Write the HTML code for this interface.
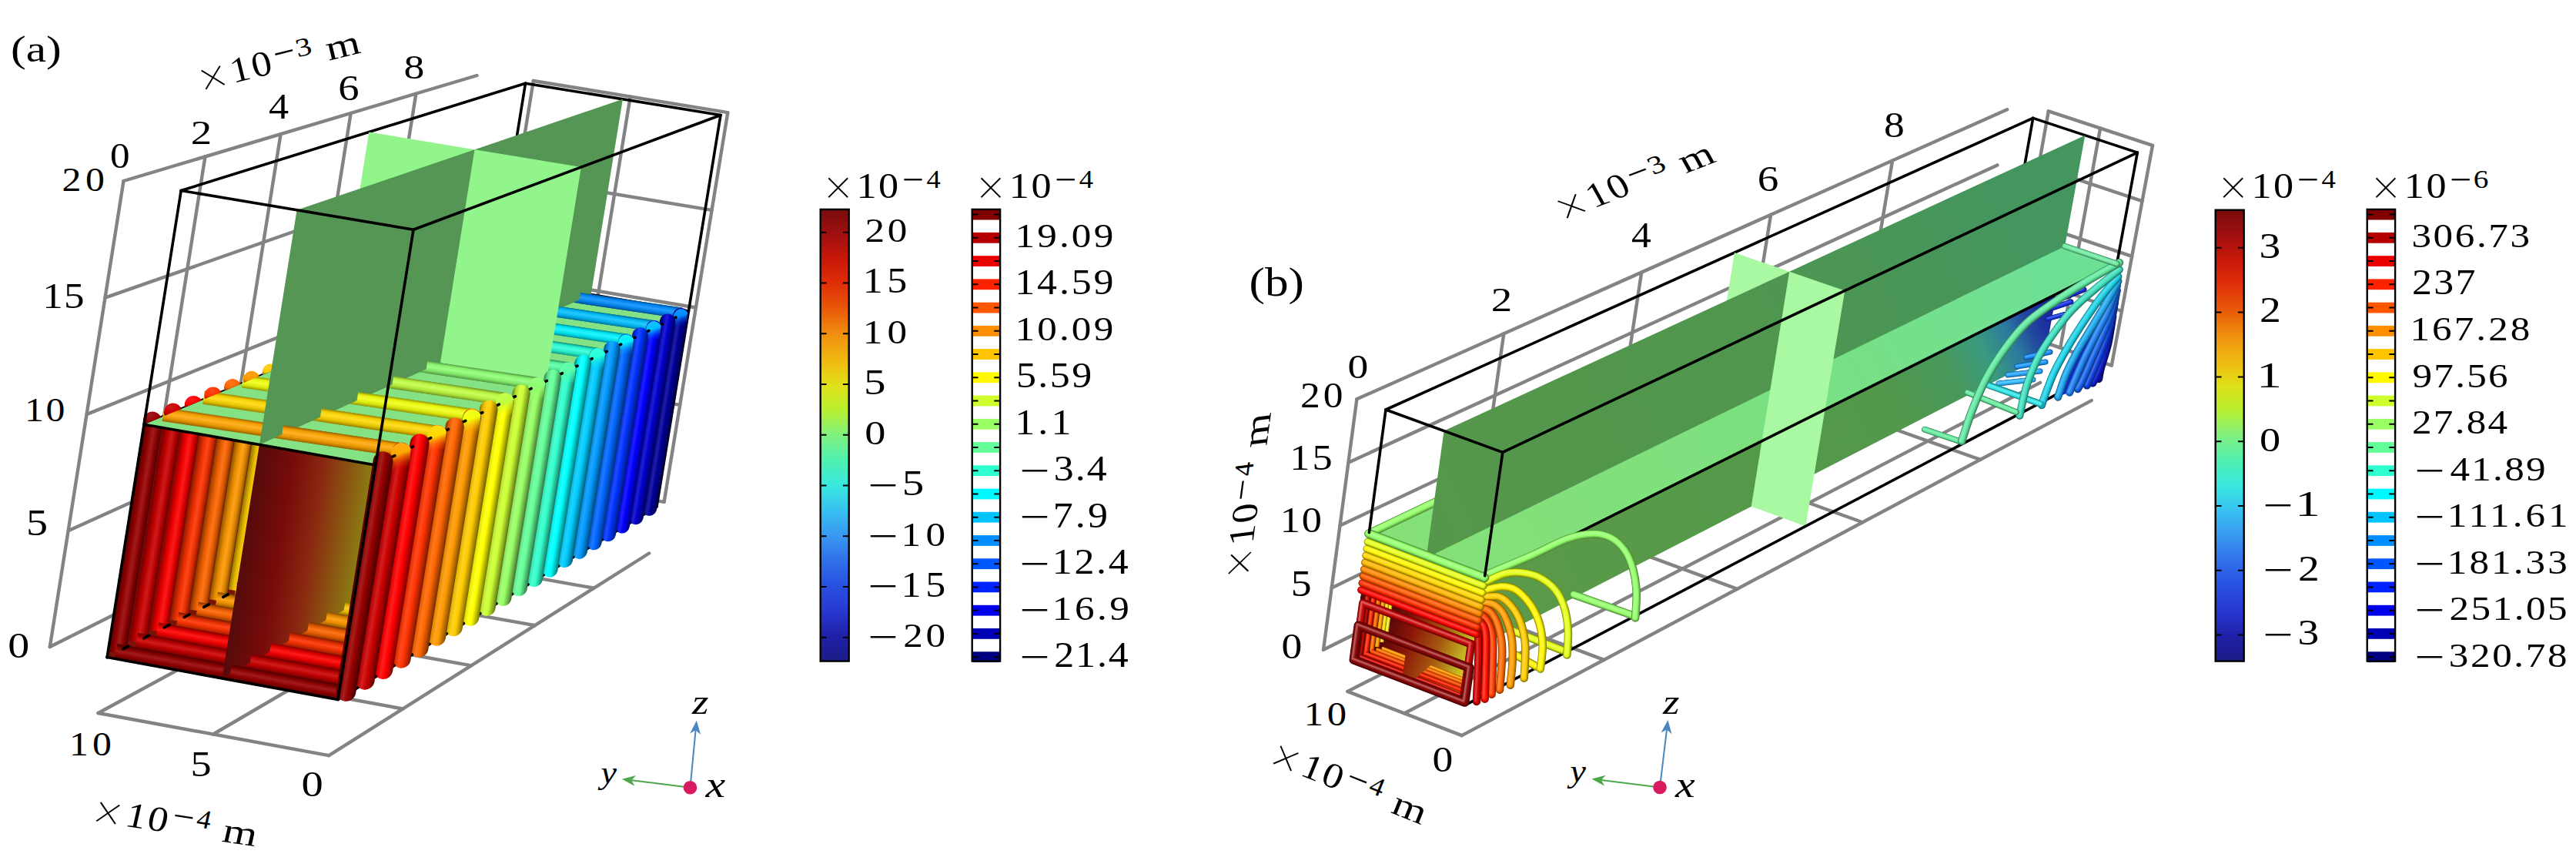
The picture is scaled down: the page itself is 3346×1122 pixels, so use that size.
<!DOCTYPE html>
<html><head><meta charset="utf-8"><title>figure</title>
<style>html,body{margin:0;padding:0;background:#fff}svg{display:block}text{font-family:"Liberation Serif","DejaVu Serif",serif;fill:#000}</style>
</head><body>
<svg width="3346" height="1122" viewBox="0 0 3346 1122">
<defs>
<clipPath id="cpa"><polygon points="139.1,853.6 438.9,908.4 487.8,603.9 187.1,551.2"/></clipPath>
<linearGradient id="g1" gradientUnits="userSpaceOnUse" x1="602.6" y1="491.7" x2="620.1" y2="494.5"><stop offset="0.00" stop-color="#000054"/><stop offset="0.30" stop-color="#00008a"/><stop offset="0.55" stop-color="#1a1aa3"/><stop offset="0.80" stop-color="#000082"/><stop offset="1.00" stop-color="#00004d"/></linearGradient>
<linearGradient id="g2" gradientUnits="userSpaceOnUse" x1="715" y1="647.2" x2="717.6" y2="632.5"><stop offset="0.00" stop-color="#000054"/><stop offset="0.30" stop-color="#00008a"/><stop offset="0.55" stop-color="#1a1aa3"/><stop offset="0.80" stop-color="#000082"/><stop offset="1.00" stop-color="#00004d"/></linearGradient>
<linearGradient id="g3" gradientUnits="userSpaceOnUse" x1="583" y1="500.8" x2="600.8" y2="503.7"><stop offset="0.00" stop-color="#000070"/><stop offset="0.30" stop-color="#0000b8"/><stop offset="0.55" stop-color="#1a1ad1"/><stop offset="0.80" stop-color="#0000ad"/><stop offset="1.00" stop-color="#000066"/></linearGradient>
<linearGradient id="g4" gradientUnits="userSpaceOnUse" x1="696.4" y1="657.7" x2="699" y2="642.8"><stop offset="0.00" stop-color="#000070"/><stop offset="0.30" stop-color="#0000b8"/><stop offset="0.55" stop-color="#1a1ad1"/><stop offset="0.80" stop-color="#0000ad"/><stop offset="1.00" stop-color="#000066"/></linearGradient>
<linearGradient id="g5" gradientUnits="userSpaceOnUse" x1="563.1" y1="510.1" x2="581.1" y2="513"><stop offset="0.00" stop-color="#00008c"/><stop offset="0.30" stop-color="#0000e6"/><stop offset="0.55" stop-color="#1a1aff"/><stop offset="0.80" stop-color="#0000d9"/><stop offset="1.00" stop-color="#000080"/></linearGradient>
<linearGradient id="g6" gradientUnits="userSpaceOnUse" x1="677.5" y1="668.4" x2="680.1" y2="653.3"><stop offset="0.00" stop-color="#00008c"/><stop offset="0.30" stop-color="#0000e6"/><stop offset="0.55" stop-color="#1a1aff"/><stop offset="0.80" stop-color="#0000d9"/><stop offset="1.00" stop-color="#000080"/></linearGradient>
<linearGradient id="g7" gradientUnits="userSpaceOnUse" x1="542.9" y1="519.5" x2="561.2" y2="522.4"><stop offset="0.00" stop-color="#001c8c"/><stop offset="0.30" stop-color="#002ee6"/><stop offset="0.55" stop-color="#1a47ff"/><stop offset="0.80" stop-color="#002bd9"/><stop offset="1.00" stop-color="#001a80"/></linearGradient>
<linearGradient id="g8" gradientUnits="userSpaceOnUse" x1="658.3" y1="679.3" x2="661" y2="663.9"><stop offset="0.00" stop-color="#001c8c"/><stop offset="0.30" stop-color="#002ee6"/><stop offset="0.55" stop-color="#1a47ff"/><stop offset="0.80" stop-color="#002bd9"/><stop offset="1.00" stop-color="#001a80"/></linearGradient>
<linearGradient id="g9" gradientUnits="userSpaceOnUse" x1="522.3" y1="529" x2="540.8" y2="532"><stop offset="0.00" stop-color="#00388c"/><stop offset="0.30" stop-color="#005ce6"/><stop offset="0.55" stop-color="#1a75ff"/><stop offset="0.80" stop-color="#0057d9"/><stop offset="1.00" stop-color="#003380"/></linearGradient>
<linearGradient id="g10" gradientUnits="userSpaceOnUse" x1="638.7" y1="690.3" x2="641.4" y2="674.8"><stop offset="0.00" stop-color="#00388c"/><stop offset="0.30" stop-color="#005ce6"/><stop offset="0.55" stop-color="#1a75ff"/><stop offset="0.80" stop-color="#0057d9"/><stop offset="1.00" stop-color="#003380"/></linearGradient>
<linearGradient id="g11" gradientUnits="userSpaceOnUse" x1="501.3" y1="538.8" x2="520.2" y2="541.8"><stop offset="0.00" stop-color="#00548c"/><stop offset="0.30" stop-color="#008ae6"/><stop offset="0.55" stop-color="#1aa3ff"/><stop offset="0.80" stop-color="#0082d9"/><stop offset="1.00" stop-color="#004d80"/></linearGradient>
<linearGradient id="g12" gradientUnits="userSpaceOnUse" x1="618.8" y1="701.6" x2="621.6" y2="685.8"><stop offset="0.00" stop-color="#00548c"/><stop offset="0.30" stop-color="#008ae6"/><stop offset="0.55" stop-color="#1aa3ff"/><stop offset="0.80" stop-color="#0082d9"/><stop offset="1.00" stop-color="#004d80"/></linearGradient>
<linearGradient id="g13" gradientUnits="userSpaceOnUse" x1="480" y1="548.7" x2="499.1" y2="551.8"><stop offset="0.00" stop-color="#00708c"/><stop offset="0.30" stop-color="#00b8e6"/><stop offset="0.55" stop-color="#1ad1ff"/><stop offset="0.80" stop-color="#00add9"/><stop offset="1.00" stop-color="#006680"/></linearGradient>
<linearGradient id="g14" gradientUnits="userSpaceOnUse" x1="598.5" y1="713" x2="601.3" y2="697"><stop offset="0.00" stop-color="#00708c"/><stop offset="0.30" stop-color="#00b8e6"/><stop offset="0.55" stop-color="#1ad1ff"/><stop offset="0.80" stop-color="#00add9"/><stop offset="1.00" stop-color="#006680"/></linearGradient>
<linearGradient id="g15" gradientUnits="userSpaceOnUse" x1="458.3" y1="558.8" x2="477.7" y2="561.9"><stop offset="0.00" stop-color="#008c8c"/><stop offset="0.30" stop-color="#00e6e6"/><stop offset="0.55" stop-color="#1affff"/><stop offset="0.80" stop-color="#00d9d9"/><stop offset="1.00" stop-color="#008080"/></linearGradient>
<linearGradient id="g16" gradientUnits="userSpaceOnUse" x1="577.9" y1="724.7" x2="580.8" y2="708.4"><stop offset="0.00" stop-color="#008c8c"/><stop offset="0.30" stop-color="#00e6e6"/><stop offset="0.55" stop-color="#1affff"/><stop offset="0.80" stop-color="#00d9d9"/><stop offset="1.00" stop-color="#008080"/></linearGradient>
<linearGradient id="g17" gradientUnits="userSpaceOnUse" x1="436.2" y1="569.1" x2="455.9" y2="572.2"><stop offset="0.00" stop-color="#1c8c70"/><stop offset="0.30" stop-color="#2ee6b8"/><stop offset="0.55" stop-color="#47ffd1"/><stop offset="0.80" stop-color="#2bd9ad"/><stop offset="1.00" stop-color="#1a8066"/></linearGradient>
<linearGradient id="g18" gradientUnits="userSpaceOnUse" x1="556.9" y1="736.5" x2="559.8" y2="720.1"><stop offset="0.00" stop-color="#1c8c70"/><stop offset="0.30" stop-color="#2ee6b8"/><stop offset="0.55" stop-color="#47ffd1"/><stop offset="0.80" stop-color="#2bd9ad"/><stop offset="1.00" stop-color="#1a8066"/></linearGradient>
<linearGradient id="g19" gradientUnits="userSpaceOnUse" x1="413.7" y1="579.5" x2="433.7" y2="582.7"><stop offset="0.00" stop-color="#388c54"/><stop offset="0.30" stop-color="#5ce68a"/><stop offset="0.55" stop-color="#75ffa3"/><stop offset="0.80" stop-color="#57d982"/><stop offset="1.00" stop-color="#33804d"/></linearGradient>
<linearGradient id="g20" gradientUnits="userSpaceOnUse" x1="535.5" y1="748.6" x2="538.5" y2="731.9"><stop offset="0.00" stop-color="#388c54"/><stop offset="0.30" stop-color="#5ce68a"/><stop offset="0.55" stop-color="#75ffa3"/><stop offset="0.80" stop-color="#57d982"/><stop offset="1.00" stop-color="#33804d"/></linearGradient>
<linearGradient id="g21" gradientUnits="userSpaceOnUse" x1="390.8" y1="590.2" x2="411.1" y2="593.4"><stop offset="0.00" stop-color="#548c38"/><stop offset="0.30" stop-color="#8ae65c"/><stop offset="0.55" stop-color="#a3ff75"/><stop offset="0.80" stop-color="#82d957"/><stop offset="1.00" stop-color="#4d8033"/></linearGradient>
<linearGradient id="g22" gradientUnits="userSpaceOnUse" x1="513.7" y1="760.9" x2="516.7" y2="744"><stop offset="0.00" stop-color="#548c38"/><stop offset="0.30" stop-color="#8ae65c"/><stop offset="0.55" stop-color="#a3ff75"/><stop offset="0.80" stop-color="#82d957"/><stop offset="1.00" stop-color="#4d8033"/></linearGradient>
<linearGradient id="g23" gradientUnits="userSpaceOnUse" x1="367.5" y1="601" x2="388.1" y2="604.3"><stop offset="0.00" stop-color="#708c1c"/><stop offset="0.30" stop-color="#b8e62e"/><stop offset="0.55" stop-color="#d1ff47"/><stop offset="0.80" stop-color="#add92b"/><stop offset="1.00" stop-color="#66801a"/></linearGradient>
<linearGradient id="g24" gradientUnits="userSpaceOnUse" x1="491.5" y1="773.4" x2="494.6" y2="756.2"><stop offset="0.00" stop-color="#708c1c"/><stop offset="0.30" stop-color="#b8e62e"/><stop offset="0.55" stop-color="#d1ff47"/><stop offset="0.80" stop-color="#add92b"/><stop offset="1.00" stop-color="#66801a"/></linearGradient>
<linearGradient id="g25" gradientUnits="userSpaceOnUse" x1="343.7" y1="612.1" x2="364.7" y2="615.4"><stop offset="0.00" stop-color="#8c8c00"/><stop offset="0.30" stop-color="#e6e600"/><stop offset="0.55" stop-color="#ffff1a"/><stop offset="0.80" stop-color="#d9d900"/><stop offset="1.00" stop-color="#808000"/></linearGradient>
<linearGradient id="g26" gradientUnits="userSpaceOnUse" x1="468.9" y1="786.2" x2="472.1" y2="768.8"><stop offset="0.00" stop-color="#8c8c00"/><stop offset="0.30" stop-color="#e6e600"/><stop offset="0.55" stop-color="#ffff1a"/><stop offset="0.80" stop-color="#d9d900"/><stop offset="1.00" stop-color="#808000"/></linearGradient>
<linearGradient id="g27" gradientUnits="userSpaceOnUse" x1="319.5" y1="623.3" x2="340.8" y2="626.8"><stop offset="0.00" stop-color="#8c7000"/><stop offset="0.30" stop-color="#e6b800"/><stop offset="0.55" stop-color="#ffd11a"/><stop offset="0.80" stop-color="#d9ad00"/><stop offset="1.00" stop-color="#806600"/></linearGradient>
<linearGradient id="g28" gradientUnits="userSpaceOnUse" x1="445.9" y1="799.2" x2="449.1" y2="781.5"><stop offset="0.00" stop-color="#8c7000"/><stop offset="0.30" stop-color="#e6b800"/><stop offset="0.55" stop-color="#ffd11a"/><stop offset="0.80" stop-color="#d9ad00"/><stop offset="1.00" stop-color="#806600"/></linearGradient>
<linearGradient id="g29" gradientUnits="userSpaceOnUse" x1="294.8" y1="634.8" x2="316.4" y2="638.3"><stop offset="0.00" stop-color="#8c5400"/><stop offset="0.30" stop-color="#e68a00"/><stop offset="0.55" stop-color="#ffa31a"/><stop offset="0.80" stop-color="#d98200"/><stop offset="1.00" stop-color="#804d00"/></linearGradient>
<linearGradient id="g30" gradientUnits="userSpaceOnUse" x1="422.5" y1="812.5" x2="425.7" y2="794.5"><stop offset="0.00" stop-color="#8c5400"/><stop offset="0.30" stop-color="#e68a00"/><stop offset="0.55" stop-color="#ffa31a"/><stop offset="0.80" stop-color="#d98200"/><stop offset="1.00" stop-color="#804d00"/></linearGradient>
<linearGradient id="g31" gradientUnits="userSpaceOnUse" x1="269.6" y1="646.5" x2="291.6" y2="650"><stop offset="0.00" stop-color="#8c3800"/><stop offset="0.30" stop-color="#e65c00"/><stop offset="0.55" stop-color="#ff751a"/><stop offset="0.80" stop-color="#d95700"/><stop offset="1.00" stop-color="#803300"/></linearGradient>
<linearGradient id="g32" gradientUnits="userSpaceOnUse" x1="398.5" y1="826" x2="401.8" y2="807.7"><stop offset="0.00" stop-color="#8c3800"/><stop offset="0.30" stop-color="#e65c00"/><stop offset="0.55" stop-color="#ff751a"/><stop offset="0.80" stop-color="#d95700"/><stop offset="1.00" stop-color="#803300"/></linearGradient>
<linearGradient id="g33" gradientUnits="userSpaceOnUse" x1="244" y1="658.4" x2="266.4" y2="662"><stop offset="0.00" stop-color="#8c1c00"/><stop offset="0.30" stop-color="#e62e00"/><stop offset="0.55" stop-color="#ff471a"/><stop offset="0.80" stop-color="#d92b00"/><stop offset="1.00" stop-color="#801a00"/></linearGradient>
<linearGradient id="g34" gradientUnits="userSpaceOnUse" x1="374.2" y1="839.8" x2="377.5" y2="821.2"><stop offset="0.00" stop-color="#8c1c00"/><stop offset="0.30" stop-color="#e62e00"/><stop offset="0.55" stop-color="#ff471a"/><stop offset="0.80" stop-color="#d92b00"/><stop offset="1.00" stop-color="#801a00"/></linearGradient>
<linearGradient id="g35" gradientUnits="userSpaceOnUse" x1="217.8" y1="670.6" x2="240.6" y2="674.2"><stop offset="0.00" stop-color="#8c0000"/><stop offset="0.30" stop-color="#e60000"/><stop offset="0.55" stop-color="#ff1a1a"/><stop offset="0.80" stop-color="#d90000"/><stop offset="1.00" stop-color="#800000"/></linearGradient>
<linearGradient id="g36" gradientUnits="userSpaceOnUse" x1="349.3" y1="853.9" x2="352.7" y2="835"><stop offset="0.00" stop-color="#8c0000"/><stop offset="0.30" stop-color="#e60000"/><stop offset="0.55" stop-color="#ff1a1a"/><stop offset="0.80" stop-color="#d90000"/><stop offset="1.00" stop-color="#800000"/></linearGradient>
<linearGradient id="g37" gradientUnits="userSpaceOnUse" x1="191.1" y1="683" x2="214.3" y2="686.7"><stop offset="0.00" stop-color="#700000"/><stop offset="0.30" stop-color="#b80000"/><stop offset="0.55" stop-color="#d11a1a"/><stop offset="0.80" stop-color="#ad0000"/><stop offset="1.00" stop-color="#660000"/></linearGradient>
<linearGradient id="g38" gradientUnits="userSpaceOnUse" x1="323.9" y1="868.2" x2="327.4" y2="849"><stop offset="0.00" stop-color="#700000"/><stop offset="0.30" stop-color="#b80000"/><stop offset="0.55" stop-color="#d11a1a"/><stop offset="0.80" stop-color="#ad0000"/><stop offset="1.00" stop-color="#660000"/></linearGradient>
<linearGradient id="g39" gradientUnits="userSpaceOnUse" x1="163.9" y1="695.6" x2="187.5" y2="699.4"><stop offset="0.00" stop-color="#540000"/><stop offset="0.30" stop-color="#8a0000"/><stop offset="0.55" stop-color="#a31a1a"/><stop offset="0.80" stop-color="#820000"/><stop offset="1.00" stop-color="#4d0000"/></linearGradient>
<linearGradient id="g40" gradientUnits="userSpaceOnUse" x1="298.1" y1="882.8" x2="301.6" y2="863.3"><stop offset="0.00" stop-color="#540000"/><stop offset="0.30" stop-color="#8a0000"/><stop offset="0.55" stop-color="#a31a1a"/><stop offset="0.80" stop-color="#820000"/><stop offset="1.00" stop-color="#4d0000"/></linearGradient>
<linearGradient id="pla" gradientUnits="userSpaceOnUse" x1="318" y1="690" x2="478" y2="716"><stop offset="0" stop-color="#540a0a"/><stop offset="0.3" stop-color="#780c0a"/><stop offset="0.55" stop-color="#8a2a10"/><stop offset="0.8" stop-color="#8a6012"/><stop offset="1" stop-color="#8c8a16"/></linearGradient>
<linearGradient id="g41" gradientUnits="userSpaceOnUse" x1="778.1" y1="658.3" x2="780.7" y2="643.6"><stop offset="0.00" stop-color="#000054"/><stop offset="0.30" stop-color="#00008a"/><stop offset="0.55" stop-color="#1a1aa3"/><stop offset="0.80" stop-color="#000082"/><stop offset="1.00" stop-color="#00004d"/></linearGradient>
<linearGradient id="g42" gradientUnits="userSpaceOnUse" x1="760.1" y1="668.9" x2="762.7" y2="654"><stop offset="0.00" stop-color="#000070"/><stop offset="0.30" stop-color="#0000b8"/><stop offset="0.55" stop-color="#1a1ad1"/><stop offset="0.80" stop-color="#0000ad"/><stop offset="1.00" stop-color="#000066"/></linearGradient>
<linearGradient id="g43" gradientUnits="userSpaceOnUse" x1="741.7" y1="679.7" x2="744.3" y2="664.6"><stop offset="0.00" stop-color="#00008c"/><stop offset="0.30" stop-color="#0000e6"/><stop offset="0.55" stop-color="#1a1aff"/><stop offset="0.80" stop-color="#0000d9"/><stop offset="1.00" stop-color="#000080"/></linearGradient>
<linearGradient id="g44" gradientUnits="userSpaceOnUse" x1="723" y1="690.7" x2="725.7" y2="675.3"><stop offset="0.00" stop-color="#001c8c"/><stop offset="0.30" stop-color="#002ee6"/><stop offset="0.55" stop-color="#1a47ff"/><stop offset="0.80" stop-color="#002bd9"/><stop offset="1.00" stop-color="#001a80"/></linearGradient>
<linearGradient id="g45" gradientUnits="userSpaceOnUse" x1="703.9" y1="701.8" x2="706.7" y2="686.3"><stop offset="0.00" stop-color="#00388c"/><stop offset="0.30" stop-color="#005ce6"/><stop offset="0.55" stop-color="#1a75ff"/><stop offset="0.80" stop-color="#0057d9"/><stop offset="1.00" stop-color="#003380"/></linearGradient>
<linearGradient id="g46" gradientUnits="userSpaceOnUse" x1="684.5" y1="713.2" x2="687.3" y2="697.4"><stop offset="0.00" stop-color="#00548c"/><stop offset="0.30" stop-color="#008ae6"/><stop offset="0.55" stop-color="#1aa3ff"/><stop offset="0.80" stop-color="#0082d9"/><stop offset="1.00" stop-color="#004d80"/></linearGradient>
<linearGradient id="g47" gradientUnits="userSpaceOnUse" x1="664.8" y1="724.8" x2="667.7" y2="708.8"><stop offset="0.00" stop-color="#00708c"/><stop offset="0.30" stop-color="#00b8e6"/><stop offset="0.55" stop-color="#1ad1ff"/><stop offset="0.80" stop-color="#00add9"/><stop offset="1.00" stop-color="#006680"/></linearGradient>
<linearGradient id="g48" gradientUnits="userSpaceOnUse" x1="644.8" y1="736.6" x2="647.6" y2="720.3"><stop offset="0.00" stop-color="#008c8c"/><stop offset="0.30" stop-color="#00e6e6"/><stop offset="0.55" stop-color="#1affff"/><stop offset="0.80" stop-color="#00d9d9"/><stop offset="1.00" stop-color="#008080"/></linearGradient>
<linearGradient id="g49" gradientUnits="userSpaceOnUse" x1="624.3" y1="748.5" x2="627.3" y2="732.1"><stop offset="0.00" stop-color="#1c8c70"/><stop offset="0.30" stop-color="#2ee6b8"/><stop offset="0.55" stop-color="#47ffd1"/><stop offset="0.80" stop-color="#2bd9ad"/><stop offset="1.00" stop-color="#1a8066"/></linearGradient>
<linearGradient id="g50" gradientUnits="userSpaceOnUse" x1="603.5" y1="760.8" x2="606.5" y2="744"><stop offset="0.00" stop-color="#388c54"/><stop offset="0.30" stop-color="#5ce68a"/><stop offset="0.55" stop-color="#75ffa3"/><stop offset="0.80" stop-color="#57d982"/><stop offset="1.00" stop-color="#33804d"/></linearGradient>
<linearGradient id="g51" gradientUnits="userSpaceOnUse" x1="582.3" y1="773.2" x2="585.4" y2="756.2"><stop offset="0.00" stop-color="#548c38"/><stop offset="0.30" stop-color="#8ae65c"/><stop offset="0.55" stop-color="#a3ff75"/><stop offset="0.80" stop-color="#82d957"/><stop offset="1.00" stop-color="#4d8033"/></linearGradient>
<linearGradient id="g52" gradientUnits="userSpaceOnUse" x1="560.8" y1="785.9" x2="563.8" y2="768.6"><stop offset="0.00" stop-color="#708c1c"/><stop offset="0.30" stop-color="#b8e62e"/><stop offset="0.55" stop-color="#d1ff47"/><stop offset="0.80" stop-color="#add92b"/><stop offset="1.00" stop-color="#66801a"/></linearGradient>
<linearGradient id="g53" gradientUnits="userSpaceOnUse" x1="538.8" y1="798.8" x2="541.9" y2="781.3"><stop offset="0.00" stop-color="#8c8c00"/><stop offset="0.30" stop-color="#e6e600"/><stop offset="0.55" stop-color="#ffff1a"/><stop offset="0.80" stop-color="#d9d900"/><stop offset="1.00" stop-color="#808000"/></linearGradient>
<linearGradient id="g54" gradientUnits="userSpaceOnUse" x1="516.4" y1="811.9" x2="519.6" y2="794.2"><stop offset="0.00" stop-color="#8c7000"/><stop offset="0.30" stop-color="#e6b800"/><stop offset="0.55" stop-color="#ffd11a"/><stop offset="0.80" stop-color="#d9ad00"/><stop offset="1.00" stop-color="#806600"/></linearGradient>
<linearGradient id="g55" gradientUnits="userSpaceOnUse" x1="493.5" y1="825.3" x2="496.8" y2="807.3"><stop offset="0.00" stop-color="#8c5400"/><stop offset="0.30" stop-color="#e68a00"/><stop offset="0.55" stop-color="#ffa31a"/><stop offset="0.80" stop-color="#d98200"/><stop offset="1.00" stop-color="#804d00"/></linearGradient>
<linearGradient id="g56" gradientUnits="userSpaceOnUse" x1="470.3" y1="839" x2="473.6" y2="820.7"><stop offset="0.00" stop-color="#8c3800"/><stop offset="0.30" stop-color="#e65c00"/><stop offset="0.55" stop-color="#ff751a"/><stop offset="0.80" stop-color="#d95700"/><stop offset="1.00" stop-color="#803300"/></linearGradient>
<linearGradient id="g57" gradientUnits="userSpaceOnUse" x1="446.5" y1="852.9" x2="449.9" y2="834.3"><stop offset="0.00" stop-color="#8c1c00"/><stop offset="0.30" stop-color="#e62e00"/><stop offset="0.55" stop-color="#ff471a"/><stop offset="0.80" stop-color="#d92b00"/><stop offset="1.00" stop-color="#801a00"/></linearGradient>
<linearGradient id="g58" gradientUnits="userSpaceOnUse" x1="422.3" y1="867.1" x2="425.8" y2="848.2"><stop offset="0.00" stop-color="#8c0000"/><stop offset="0.30" stop-color="#e60000"/><stop offset="0.55" stop-color="#ff1a1a"/><stop offset="0.80" stop-color="#d90000"/><stop offset="1.00" stop-color="#800000"/></linearGradient>
<linearGradient id="g59" gradientUnits="userSpaceOnUse" x1="397.7" y1="881.6" x2="401.2" y2="862.4"><stop offset="0.00" stop-color="#700000"/><stop offset="0.30" stop-color="#b80000"/><stop offset="0.55" stop-color="#d11a1a"/><stop offset="0.80" stop-color="#ad0000"/><stop offset="1.00" stop-color="#660000"/></linearGradient>
<linearGradient id="g60" gradientUnits="userSpaceOnUse" x1="372.5" y1="896.4" x2="376.1" y2="876.9"><stop offset="0.00" stop-color="#540000"/><stop offset="0.30" stop-color="#8a0000"/><stop offset="0.55" stop-color="#a31a1a"/><stop offset="0.80" stop-color="#820000"/><stop offset="1.00" stop-color="#4d0000"/></linearGradient>
<linearGradient id="g61" gradientUnits="userSpaceOnUse" x1="751.8" y1="393.9" x2="753.8" y2="380"><stop offset="0.00" stop-color="#005499"/><stop offset="0.25" stop-color="#007ee6"/><stop offset="0.55" stop-color="#269dff"/><stop offset="0.80" stop-color="#0085f2"/><stop offset="1.00" stop-color="#005499"/></linearGradient>
<radialGradient id="g62" cx="0.4" cy="0.3" r="0.8"><stop offset="0" stop-color="#1a1aa3"/><stop offset="0.6" stop-color="#000099"/><stop offset="1" stop-color="#00004d"/></radialGradient>
<radialGradient id="g63" cx="0.4" cy="0.3" r="0.8"><stop offset="0" stop-color="#1a1ad1"/><stop offset="0.6" stop-color="#0000cc"/><stop offset="1" stop-color="#000066"/></radialGradient>
<linearGradient id="g64" gradientUnits="userSpaceOnUse" x1="714.8" y1="410.8" x2="716.9" y2="396.5"><stop offset="0.00" stop-color="#007399"/><stop offset="0.25" stop-color="#00ace6"/><stop offset="0.55" stop-color="#26c9ff"/><stop offset="0.80" stop-color="#00b6f2"/><stop offset="1.00" stop-color="#007399"/></linearGradient>
<radialGradient id="g65" cx="0.4" cy="0.3" r="0.8"><stop offset="0" stop-color="#1a1aff"/><stop offset="0.6" stop-color="#0000ff"/><stop offset="1" stop-color="#000080"/></radialGradient>
<radialGradient id="g66" cx="0.4" cy="0.3" r="0.8"><stop offset="0" stop-color="#1a47ff"/><stop offset="0.6" stop-color="#0033ff"/><stop offset="1" stop-color="#001a80"/></radialGradient>
<linearGradient id="g67" gradientUnits="userSpaceOnUse" x1="676.5" y1="428.2" x2="678.6" y2="413.6"><stop offset="0.00" stop-color="#009199"/><stop offset="0.25" stop-color="#00dae6"/><stop offset="0.55" stop-color="#26f4ff"/><stop offset="0.80" stop-color="#00e6f2"/><stop offset="1.00" stop-color="#009199"/></linearGradient>
<radialGradient id="g68" cx="0.4" cy="0.3" r="0.8"><stop offset="0" stop-color="#1a75ff"/><stop offset="0.6" stop-color="#0066ff"/><stop offset="1" stop-color="#003380"/></radialGradient>
<radialGradient id="g69" cx="0.4" cy="0.3" r="0.8"><stop offset="0" stop-color="#1aa3ff"/><stop offset="0.6" stop-color="#0099ff"/><stop offset="1" stop-color="#004d80"/></radialGradient>
<linearGradient id="g70" gradientUnits="userSpaceOnUse" x1="636.8" y1="446.3" x2="639" y2="431.3"><stop offset="0.00" stop-color="#179982"/><stop offset="0.25" stop-color="#22e6c3"/><stop offset="0.55" stop-color="#47ffde"/><stop offset="0.80" stop-color="#24f2ce"/><stop offset="1.00" stop-color="#179982"/></linearGradient>
<radialGradient id="g71" cx="0.4" cy="0.3" r="0.8"><stop offset="0" stop-color="#1ad1ff"/><stop offset="0.6" stop-color="#00ccff"/><stop offset="1" stop-color="#006680"/></radialGradient>
<radialGradient id="g72" cx="0.4" cy="0.3" r="0.8"><stop offset="0" stop-color="#1affff"/><stop offset="0.6" stop-color="#00ffff"/><stop offset="1" stop-color="#008080"/></radialGradient>
<linearGradient id="g73" gradientUnits="userSpaceOnUse" x1="595.7" y1="465.1" x2="598" y2="449.7"><stop offset="0.00" stop-color="#369963"/><stop offset="0.25" stop-color="#50e695"/><stop offset="0.55" stop-color="#72ffb3"/><stop offset="0.80" stop-color="#55f29d"/><stop offset="1.00" stop-color="#369963"/></linearGradient>
<radialGradient id="g74" cx="0.4" cy="0.3" r="0.8"><stop offset="0" stop-color="#47ffd1"/><stop offset="0.6" stop-color="#33ffcc"/><stop offset="1" stop-color="#1a8066"/></radialGradient>
<radialGradient id="g75" cx="0.4" cy="0.3" r="0.8"><stop offset="0" stop-color="#75ffa3"/><stop offset="0.6" stop-color="#66ff99"/><stop offset="1" stop-color="#33804d"/></radialGradient>
<linearGradient id="g76" gradientUnits="userSpaceOnUse" x1="553.1" y1="484.6" x2="555.4" y2="468.7"><stop offset="0.00" stop-color="#549945"/><stop offset="0.25" stop-color="#7ee667"/><stop offset="0.55" stop-color="#9dff88"/><stop offset="0.80" stop-color="#85f26d"/><stop offset="1.00" stop-color="#549945"/></linearGradient>
<radialGradient id="g77" cx="0.4" cy="0.3" r="0.8"><stop offset="0" stop-color="#a3ff75"/><stop offset="0.6" stop-color="#99ff66"/><stop offset="1" stop-color="#4d8033"/></radialGradient>
<radialGradient id="g78" cx="0.4" cy="0.3" r="0.8"><stop offset="0" stop-color="#d1ff47"/><stop offset="0.6" stop-color="#ccff33"/><stop offset="1" stop-color="#66801a"/></radialGradient>
<linearGradient id="g79" gradientUnits="userSpaceOnUse" x1="508.9" y1="504.7" x2="511.3" y2="488.4"><stop offset="0.00" stop-color="#739926"/><stop offset="0.25" stop-color="#ace639"/><stop offset="0.55" stop-color="#c9ff5c"/><stop offset="0.80" stop-color="#b6f23d"/><stop offset="1.00" stop-color="#739926"/></linearGradient>
<radialGradient id="g80" cx="0.4" cy="0.3" r="0.8"><stop offset="0" stop-color="#ffff1a"/><stop offset="0.6" stop-color="#ffff00"/><stop offset="1" stop-color="#808000"/></radialGradient>
<radialGradient id="g81" cx="0.4" cy="0.3" r="0.8"><stop offset="0" stop-color="#ffd11a"/><stop offset="0.6" stop-color="#ffcc00"/><stop offset="1" stop-color="#806600"/></radialGradient>
<linearGradient id="g82" gradientUnits="userSpaceOnUse" x1="462.9" y1="525.7" x2="465.4" y2="508.9"><stop offset="0.00" stop-color="#919908"/><stop offset="0.25" stop-color="#dae60b"/><stop offset="0.55" stop-color="#f4ff31"/><stop offset="0.80" stop-color="#e6f20c"/><stop offset="1.00" stop-color="#919908"/></linearGradient>
<radialGradient id="g83" cx="0.4" cy="0.3" r="0.8"><stop offset="0" stop-color="#ffa31a"/><stop offset="0.6" stop-color="#ff9900"/><stop offset="1" stop-color="#804d00"/></radialGradient>
<radialGradient id="g84" cx="0.4" cy="0.3" r="0.8"><stop offset="0" stop-color="#ff751a"/><stop offset="0.6" stop-color="#ff6600"/><stop offset="1" stop-color="#803300"/></radialGradient>
<linearGradient id="g85" gradientUnits="userSpaceOnUse" x1="415.2" y1="547.5" x2="417.8" y2="530.2"><stop offset="0.00" stop-color="#998200"/><stop offset="0.25" stop-color="#e6c300"/><stop offset="0.55" stop-color="#ffde26"/><stop offset="0.80" stop-color="#f2ce00"/><stop offset="1.00" stop-color="#998200"/></linearGradient>
<radialGradient id="g86" cx="0.4" cy="0.3" r="0.8"><stop offset="0" stop-color="#ff471a"/><stop offset="0.6" stop-color="#ff3300"/><stop offset="1" stop-color="#801a00"/></radialGradient>
<radialGradient id="g87" cx="0.4" cy="0.3" r="0.8"><stop offset="0" stop-color="#ff1a1a"/><stop offset="0.6" stop-color="#ff0000"/><stop offset="1" stop-color="#800000"/></radialGradient>
<linearGradient id="g88" gradientUnits="userSpaceOnUse" x1="365.6" y1="570.2" x2="368.3" y2="552.4"><stop offset="0.00" stop-color="#996300"/><stop offset="0.25" stop-color="#e69500"/><stop offset="0.55" stop-color="#ffb326"/><stop offset="0.80" stop-color="#f29d00"/><stop offset="1.00" stop-color="#996300"/></linearGradient>
<radialGradient id="g89" cx="0.4" cy="0.3" r="0.8"><stop offset="0" stop-color="#d11a1a"/><stop offset="0.6" stop-color="#cc0000"/><stop offset="1" stop-color="#660000"/></radialGradient>
<radialGradient id="g90" cx="0.4" cy="0.3" r="0.8"><stop offset="0" stop-color="#a31a1a"/><stop offset="0.6" stop-color="#990000"/><stop offset="1" stop-color="#4d0000"/></radialGradient>
<linearGradient id="g91" gradientUnits="userSpaceOnUse" x1="817.6" y1="403.6" x2="819.7" y2="389.7"><stop offset="0.00" stop-color="#005499"/><stop offset="0.25" stop-color="#007ee6"/><stop offset="0.55" stop-color="#269dff"/><stop offset="0.80" stop-color="#0085f2"/><stop offset="1.00" stop-color="#005499"/></linearGradient>
<linearGradient id="g92" gradientUnits="userSpaceOnUse" x1="781.7" y1="420.7" x2="783.9" y2="406.4"><stop offset="0.00" stop-color="#007399"/><stop offset="0.25" stop-color="#00ace6"/><stop offset="0.55" stop-color="#26c9ff"/><stop offset="0.80" stop-color="#00b6f2"/><stop offset="1.00" stop-color="#007399"/></linearGradient>
<linearGradient id="g93" gradientUnits="userSpaceOnUse" x1="744.6" y1="438.3" x2="746.8" y2="423.7"><stop offset="0.00" stop-color="#009199"/><stop offset="0.25" stop-color="#00dae6"/><stop offset="0.55" stop-color="#26f4ff"/><stop offset="0.80" stop-color="#00e6f2"/><stop offset="1.00" stop-color="#009199"/></linearGradient>
<linearGradient id="g94" gradientUnits="userSpaceOnUse" x1="706.1" y1="456.6" x2="708.4" y2="441.6"><stop offset="0.00" stop-color="#179982"/><stop offset="0.25" stop-color="#22e6c3"/><stop offset="0.55" stop-color="#47ffde"/><stop offset="0.80" stop-color="#24f2ce"/><stop offset="1.00" stop-color="#179982"/></linearGradient>
<linearGradient id="g95" gradientUnits="userSpaceOnUse" x1="666.3" y1="475.6" x2="668.6" y2="460.1"><stop offset="0.00" stop-color="#369963"/><stop offset="0.25" stop-color="#50e695"/><stop offset="0.55" stop-color="#72ffb3"/><stop offset="0.80" stop-color="#55f29d"/><stop offset="1.00" stop-color="#369963"/></linearGradient>
<linearGradient id="g96" gradientUnits="userSpaceOnUse" x1="624.9" y1="495.2" x2="627.3" y2="479.4"><stop offset="0.00" stop-color="#549945"/><stop offset="0.25" stop-color="#7ee667"/><stop offset="0.55" stop-color="#9dff88"/><stop offset="0.80" stop-color="#85f26d"/><stop offset="1.00" stop-color="#549945"/></linearGradient>
<linearGradient id="g97" gradientUnits="userSpaceOnUse" x1="582" y1="515.6" x2="584.5" y2="499.3"><stop offset="0.00" stop-color="#739926"/><stop offset="0.25" stop-color="#ace639"/><stop offset="0.55" stop-color="#c9ff5c"/><stop offset="0.80" stop-color="#b6f23d"/><stop offset="1.00" stop-color="#739926"/></linearGradient>
<linearGradient id="g98" gradientUnits="userSpaceOnUse" x1="537.5" y1="536.8" x2="540" y2="520"><stop offset="0.00" stop-color="#919908"/><stop offset="0.25" stop-color="#dae60b"/><stop offset="0.55" stop-color="#f4ff31"/><stop offset="0.80" stop-color="#e6f20c"/><stop offset="1.00" stop-color="#919908"/></linearGradient>
<linearGradient id="g99" gradientUnits="userSpaceOnUse" x1="491.2" y1="558.8" x2="493.8" y2="541.5"><stop offset="0.00" stop-color="#998200"/><stop offset="0.25" stop-color="#e6c300"/><stop offset="0.55" stop-color="#ffde26"/><stop offset="0.80" stop-color="#f2ce00"/><stop offset="1.00" stop-color="#998200"/></linearGradient>
<linearGradient id="g100" gradientUnits="userSpaceOnUse" x1="443.1" y1="581.7" x2="445.7" y2="563.9"><stop offset="0.00" stop-color="#996300"/><stop offset="0.25" stop-color="#e69500"/><stop offset="0.55" stop-color="#ffb326"/><stop offset="0.80" stop-color="#f29d00"/><stop offset="1.00" stop-color="#996300"/></linearGradient>
<linearGradient id="g101" gradientUnits="userSpaceOnUse" x1="853.8" y1="533.4" x2="873.5" y2="536.6"><stop offset="0.00" stop-color="#00004d"/><stop offset="0.18" stop-color="#000087"/><stop offset="0.40" stop-color="#1f1fa5"/><stop offset="0.60" stop-color="#000099"/><stop offset="0.85" stop-color="#000068"/><stop offset="1.00" stop-color="#000045"/></linearGradient>
<linearGradient id="g102" gradientUnits="userSpaceOnUse" x1="879.4" y1="398.4" x2="888.1" y2="424.7"><stop offset="0" stop-color="#1a98ff"/><stop offset="0.45" stop-color="#008cff"/><stop offset="1" stop-color="#000099" stop-opacity="0"/></linearGradient>
<linearGradient id="g103" gradientUnits="userSpaceOnUse" x1="836.3" y1="542.9" x2="856.2" y2="546.2"><stop offset="0.00" stop-color="#000066"/><stop offset="0.18" stop-color="#0000b4"/><stop offset="0.40" stop-color="#1f1fd2"/><stop offset="0.60" stop-color="#0000cc"/><stop offset="0.85" stop-color="#00008b"/><stop offset="1.00" stop-color="#00005c"/></linearGradient>
<linearGradient id="g104" gradientUnits="userSpaceOnUse" x1="818.5" y1="552.6" x2="838.7" y2="555.9"><stop offset="0.00" stop-color="#000080"/><stop offset="0.18" stop-color="#0000e0"/><stop offset="0.40" stop-color="#1f1fff"/><stop offset="0.60" stop-color="#0000ff"/><stop offset="0.85" stop-color="#0000ad"/><stop offset="1.00" stop-color="#000073"/></linearGradient>
<linearGradient id="g105" gradientUnits="userSpaceOnUse" x1="844.5" y1="415.1" x2="853.5" y2="442.3"><stop offset="0" stop-color="#1ac6ff"/><stop offset="0.45" stop-color="#00bfff"/><stop offset="1" stop-color="#0000ff" stop-opacity="0"/></linearGradient>
<linearGradient id="g106" gradientUnits="userSpaceOnUse" x1="800.4" y1="562.5" x2="820.8" y2="565.8"><stop offset="0.00" stop-color="#001a80"/><stop offset="0.18" stop-color="#002de0"/><stop offset="0.40" stop-color="#1f4bff"/><stop offset="0.60" stop-color="#0033ff"/><stop offset="0.85" stop-color="#0023ad"/><stop offset="1.00" stop-color="#001773"/></linearGradient>
<linearGradient id="g107" gradientUnits="userSpaceOnUse" x1="781.9" y1="572.5" x2="802.6" y2="575.8"><stop offset="0.00" stop-color="#003380"/><stop offset="0.18" stop-color="#005ae0"/><stop offset="0.40" stop-color="#1f78ff"/><stop offset="0.60" stop-color="#0066ff"/><stop offset="0.85" stop-color="#0045ad"/><stop offset="1.00" stop-color="#002e73"/></linearGradient>
<linearGradient id="g108" gradientUnits="userSpaceOnUse" x1="808.3" y1="432.4" x2="817.7" y2="460.6"><stop offset="0" stop-color="#1af4ff"/><stop offset="0.45" stop-color="#00f2ff"/><stop offset="1" stop-color="#0066ff" stop-opacity="0"/></linearGradient>
<linearGradient id="g109" gradientUnits="userSpaceOnUse" x1="763.2" y1="582.7" x2="784.1" y2="586.1"><stop offset="0.00" stop-color="#004d80"/><stop offset="0.18" stop-color="#0087e0"/><stop offset="0.40" stop-color="#1fa5ff"/><stop offset="0.60" stop-color="#0099ff"/><stop offset="0.85" stop-color="#0068ad"/><stop offset="1.00" stop-color="#004573"/></linearGradient>
<linearGradient id="g110" gradientUnits="userSpaceOnUse" x1="744.1" y1="593" x2="765.3" y2="596.5"><stop offset="0.00" stop-color="#006680"/><stop offset="0.18" stop-color="#00b4e0"/><stop offset="0.40" stop-color="#1fd2ff"/><stop offset="0.60" stop-color="#00ccff"/><stop offset="0.85" stop-color="#008bad"/><stop offset="1.00" stop-color="#005c73"/></linearGradient>
<linearGradient id="g111" gradientUnits="userSpaceOnUse" x1="770.9" y1="450.3" x2="780.6" y2="479.5"><stop offset="0" stop-color="#3cffdd"/><stop offset="0.45" stop-color="#26ffd9"/><stop offset="1" stop-color="#00ccff" stop-opacity="0"/></linearGradient>
<linearGradient id="g112" gradientUnits="userSpaceOnUse" x1="724.6" y1="603.6" x2="746.2" y2="607.1"><stop offset="0.00" stop-color="#008080"/><stop offset="0.18" stop-color="#00e0e0"/><stop offset="0.40" stop-color="#1fffff"/><stop offset="0.60" stop-color="#00ffff"/><stop offset="0.85" stop-color="#00adad"/><stop offset="1.00" stop-color="#007373"/></linearGradient>
<linearGradient id="g113" gradientUnits="userSpaceOnUse" x1="704.8" y1="614.4" x2="726.6" y2="617.9"><stop offset="0.00" stop-color="#1a8066"/><stop offset="0.18" stop-color="#2de0b4"/><stop offset="0.40" stop-color="#4bffd2"/><stop offset="0.60" stop-color="#33ffcc"/><stop offset="0.85" stop-color="#23ad8b"/><stop offset="1.00" stop-color="#17735c"/></linearGradient>
<linearGradient id="g114" gradientUnits="userSpaceOnUse" x1="732.1" y1="468.8" x2="742.2" y2="499.1"><stop offset="0" stop-color="#6affaf"/><stop offset="0.45" stop-color="#59ffa6"/><stop offset="1" stop-color="#33ffcc" stop-opacity="0"/></linearGradient>
<linearGradient id="g115" gradientUnits="userSpaceOnUse" x1="684.7" y1="625.3" x2="706.8" y2="628.9"><stop offset="0.00" stop-color="#33804d"/><stop offset="0.18" stop-color="#5ae087"/><stop offset="0.40" stop-color="#78ffa5"/><stop offset="0.60" stop-color="#66ff99"/><stop offset="0.85" stop-color="#45ad68"/><stop offset="1.00" stop-color="#2e7345"/></linearGradient>
<linearGradient id="g116" gradientUnits="userSpaceOnUse" x1="664.2" y1="636.4" x2="686.5" y2="640.1"><stop offset="0.00" stop-color="#4d8033"/><stop offset="0.18" stop-color="#87e05a"/><stop offset="0.40" stop-color="#a5ff78"/><stop offset="0.60" stop-color="#99ff66"/><stop offset="0.85" stop-color="#68ad45"/><stop offset="1.00" stop-color="#45732e"/></linearGradient>
<linearGradient id="g117" gradientUnits="userSpaceOnUse" x1="691.8" y1="488" x2="702.3" y2="519.4"><stop offset="0" stop-color="#98ff81"/><stop offset="0.45" stop-color="#8cff73"/><stop offset="1" stop-color="#99ff66" stop-opacity="0"/></linearGradient>
<linearGradient id="g118" gradientUnits="userSpaceOnUse" x1="643.2" y1="647.8" x2="665.9" y2="651.5"><stop offset="0.00" stop-color="#66801a"/><stop offset="0.18" stop-color="#b4e02d"/><stop offset="0.40" stop-color="#d2ff4b"/><stop offset="0.60" stop-color="#ccff33"/><stop offset="0.85" stop-color="#8bad23"/><stop offset="1.00" stop-color="#5c7317"/></linearGradient>
<linearGradient id="g119" gradientUnits="userSpaceOnUse" x1="621.9" y1="659.4" x2="644.9" y2="663.1"><stop offset="0.00" stop-color="#808000"/><stop offset="0.18" stop-color="#e0e000"/><stop offset="0.40" stop-color="#ffff1f"/><stop offset="0.60" stop-color="#ffff00"/><stop offset="0.85" stop-color="#adad00"/><stop offset="1.00" stop-color="#737300"/></linearGradient>
<linearGradient id="g120" gradientUnits="userSpaceOnUse" x1="650.1" y1="507.9" x2="661" y2="540.6"><stop offset="0" stop-color="#c6ff53"/><stop offset="0.45" stop-color="#bfff40"/><stop offset="1" stop-color="#ffff00" stop-opacity="0"/></linearGradient>
<linearGradient id="g121" gradientUnits="userSpaceOnUse" x1="600.2" y1="671.2" x2="623.6" y2="674.9"><stop offset="0.00" stop-color="#806600"/><stop offset="0.18" stop-color="#e0b400"/><stop offset="0.40" stop-color="#ffd21f"/><stop offset="0.60" stop-color="#ffcc00"/><stop offset="0.85" stop-color="#ad8b00"/><stop offset="1.00" stop-color="#735c00"/></linearGradient>
<linearGradient id="g122" gradientUnits="userSpaceOnUse" x1="578.1" y1="683.2" x2="601.8" y2="687"><stop offset="0.00" stop-color="#804d00"/><stop offset="0.18" stop-color="#e08700"/><stop offset="0.40" stop-color="#ffa51f"/><stop offset="0.60" stop-color="#ff9900"/><stop offset="0.85" stop-color="#ad6800"/><stop offset="1.00" stop-color="#734500"/></linearGradient>
<linearGradient id="g123" gradientUnits="userSpaceOnUse" x1="606.7" y1="528.6" x2="618" y2="562.5"><stop offset="0" stop-color="#f4ff25"/><stop offset="0.45" stop-color="#f2ff0d"/><stop offset="1" stop-color="#ff9900" stop-opacity="0"/></linearGradient>
<linearGradient id="g124" gradientUnits="userSpaceOnUse" x1="555.5" y1="695.4" x2="579.5" y2="699.3"><stop offset="0.00" stop-color="#803300"/><stop offset="0.18" stop-color="#e05a00"/><stop offset="0.40" stop-color="#ff781f"/><stop offset="0.60" stop-color="#ff6600"/><stop offset="0.85" stop-color="#ad4500"/><stop offset="1.00" stop-color="#732e00"/></linearGradient>
<linearGradient id="g125" gradientUnits="userSpaceOnUse" x1="532.5" y1="707.9" x2="556.9" y2="711.8"><stop offset="0.00" stop-color="#801a00"/><stop offset="0.18" stop-color="#e02d00"/><stop offset="0.40" stop-color="#ff4b1f"/><stop offset="0.60" stop-color="#ff3300"/><stop offset="0.85" stop-color="#ad2300"/><stop offset="1.00" stop-color="#731700"/></linearGradient>
<linearGradient id="g126" gradientUnits="userSpaceOnUse" x1="561.7" y1="550.1" x2="573.4" y2="585.3"><stop offset="0" stop-color="#ffdd1a"/><stop offset="0.45" stop-color="#ffd900"/><stop offset="1" stop-color="#ff3300" stop-opacity="0"/></linearGradient>
<linearGradient id="g127" gradientUnits="userSpaceOnUse" x1="509.1" y1="720.7" x2="533.8" y2="724.6"><stop offset="0.00" stop-color="#800000"/><stop offset="0.18" stop-color="#e00000"/><stop offset="0.40" stop-color="#ff1f1f"/><stop offset="0.60" stop-color="#ff0000"/><stop offset="0.85" stop-color="#ad0000"/><stop offset="1.00" stop-color="#730000"/></linearGradient>
<linearGradient id="g128" gradientUnits="userSpaceOnUse" x1="485.2" y1="733.6" x2="510.2" y2="737.7"><stop offset="0.00" stop-color="#660000"/><stop offset="0.18" stop-color="#b40000"/><stop offset="0.40" stop-color="#d21f1f"/><stop offset="0.60" stop-color="#cc0000"/><stop offset="0.85" stop-color="#8b0000"/><stop offset="1.00" stop-color="#5c0000"/></linearGradient>
<linearGradient id="g129" gradientUnits="userSpaceOnUse" x1="514.8" y1="572.4" x2="527" y2="609.1"><stop offset="0" stop-color="#ffaf1a"/><stop offset="0.45" stop-color="#ffa600"/><stop offset="1" stop-color="#cc0000" stop-opacity="0"/></linearGradient>
<linearGradient id="g130" gradientUnits="userSpaceOnUse" x1="460.7" y1="746.9" x2="486.2" y2="751"><stop offset="0.00" stop-color="#4d0000"/><stop offset="0.18" stop-color="#870000"/><stop offset="0.40" stop-color="#a51f1f"/><stop offset="0.60" stop-color="#990000"/><stop offset="0.85" stop-color="#680000"/><stop offset="1.00" stop-color="#450000"/></linearGradient>
<linearGradient id="plb" gradientUnits="userSpaceOnUse" x1="1841.2" y1="805.7" x2="2669.2" y2="391.1"><stop offset="0.000" stop-color="#c8a020"/><stop offset="0.029" stop-color="#b0b030"/><stop offset="0.069" stop-color="#78a040"/><stop offset="0.137" stop-color="#5a9a48"/><stop offset="0.731" stop-color="#52984c"/><stop offset="0.824" stop-color="#48985c"/><stop offset="0.878" stop-color="#3a9a7e"/><stop offset="0.922" stop-color="#2c7a9e"/><stop offset="0.952" stop-color="#2248a0"/><stop offset="0.978" stop-color="#1c2c9c"/><stop offset="1.000" stop-color="#1a2090"/></linearGradient>
<linearGradient id="pub" gradientUnits="userSpaceOnUse" x1="1841.2" y1="805.7" x2="2669.2" y2="391.1"><stop offset="0.000" stop-color="#56974a"/><stop offset="0.600" stop-color="#50964e"/><stop offset="1.000" stop-color="#44955e"/></linearGradient>
<linearGradient id="slb" gradientUnits="userSpaceOnUse" x1="1841.2" y1="805.7" x2="2669.2" y2="391.1"><stop offset="0.000" stop-color="#86e078"/><stop offset="0.550" stop-color="#7ce080"/><stop offset="1.000" stop-color="#6ee094"/></linearGradient>
<clipPath id="cpb"><polygon points="1755.8,857.9 1904.6,914.9 1918.1,821.1 1768.5,764.6"/></clipPath>
<linearGradient id="inb" gradientUnits="userSpaceOnUse" x1="1799.4" y1="823.9" x2="1911.6" y2="866.5"><stop offset="0.000" stop-color="#5a0808"/><stop offset="0.250" stop-color="#8a1408"/><stop offset="0.600" stop-color="#a85a10"/><stop offset="0.850" stop-color="#c0b020"/><stop offset="1.000" stop-color="#e8d820"/></linearGradient>
<linearGradient id="cbg" x1="0" y1="0" x2="0" y2="1"><stop offset="0.0000" stop-color="#7a0c0c"/><stop offset="0.0556" stop-color="#a01010"/><stop offset="0.1111" stop-color="#c81808"/><stop offset="0.1667" stop-color="#e03008"/><stop offset="0.2222" stop-color="#e85a08"/><stop offset="0.2778" stop-color="#f09010"/><stop offset="0.3333" stop-color="#f0b810"/><stop offset="0.3889" stop-color="#e0e018"/><stop offset="0.4444" stop-color="#b8f030"/><stop offset="0.5000" stop-color="#80f080"/><stop offset="0.5556" stop-color="#50f0b0"/><stop offset="0.6111" stop-color="#38e8e0"/><stop offset="0.6667" stop-color="#38c0f0"/><stop offset="0.7222" stop-color="#3898f0"/><stop offset="0.7778" stop-color="#3070e8"/><stop offset="0.8333" stop-color="#2850e0"/><stop offset="0.8889" stop-color="#2838d0"/><stop offset="0.9444" stop-color="#2020a8"/><stop offset="1.0000" stop-color="#1c1c88"/></linearGradient>
</defs>
<rect width="3346" height="1122" fill="#fff"/>
<g id="pa">
<line x1="64.8" y1="840" x2="160.5" y2="235" stroke="#838383" stroke-width="4.4" stroke-linecap="round" />
<line x1="174.1" y1="785.2" x2="266.5" y2="203.3" stroke="#838383" stroke-width="4.4" stroke-linecap="round" />
<line x1="275.2" y1="734.5" x2="364.6" y2="174.1" stroke="#838383" stroke-width="4.4" stroke-linecap="round" />
<line x1="369.2" y1="687.4" x2="455.7" y2="146.9" stroke="#838383" stroke-width="4.4" stroke-linecap="round" />
<line x1="456.6" y1="643.5" x2="540.4" y2="121.6" stroke="#838383" stroke-width="4.4" stroke-linecap="round" />
<line x1="64.8" y1="840" x2="538.2" y2="602.6" stroke="#838383" stroke-width="4.4" stroke-linecap="round" />
<line x1="88.7" y1="689.2" x2="558.5" y2="476.8" stroke="#838383" stroke-width="4.4" stroke-linecap="round" />
<line x1="112.5" y1="538.1" x2="578.8" y2="350.7" stroke="#838383" stroke-width="4.4" stroke-linecap="round" />
<line x1="136.5" y1="386.7" x2="599.2" y2="224.5" stroke="#838383" stroke-width="4.4" stroke-linecap="round" />
<line x1="160.5" y1="235" x2="619.5" y2="98" stroke="#838383" stroke-width="4.4" stroke-linecap="round" />
<line x1="427.2" y1="981.2" x2="127.6" y2="926" stroke="#838383" stroke-width="4.4" stroke-linecap="round" />
<line x1="523.3" y1="920.5" x2="234.6" y2="867.8" stroke="#838383" stroke-width="4.4" stroke-linecap="round" />
<line x1="612.2" y1="864.4" x2="333.6" y2="813.9" stroke="#838383" stroke-width="4.4" stroke-linecap="round" />
<line x1="694.7" y1="812.2" x2="425.6" y2="764" stroke="#838383" stroke-width="4.4" stroke-linecap="round" />
<line x1="771.5" y1="763.7" x2="511.2" y2="717.4" stroke="#838383" stroke-width="4.4" stroke-linecap="round" />
<line x1="427.2" y1="981.2" x2="843.1" y2="718.5" stroke="#838383" stroke-width="4.4" stroke-linecap="round" />
<line x1="276.9" y1="953.5" x2="716.7" y2="696.2" stroke="#838383" stroke-width="4.4" stroke-linecap="round" />
<line x1="127.6" y1="926" x2="591.1" y2="674" stroke="#838383" stroke-width="4.4" stroke-linecap="round" />
<line x1="862.6" y1="651.9" x2="945.3" y2="146.1" stroke="#838383" stroke-width="4.4" stroke-linecap="round" />
<line x1="736.7" y1="629.9" x2="818.7" y2="125.5" stroke="#838383" stroke-width="4.4" stroke-linecap="round" />
<line x1="611.5" y1="608" x2="692.8" y2="105" stroke="#838383" stroke-width="4.4" stroke-linecap="round" />
<line x1="862.6" y1="651.9" x2="611.5" y2="608" stroke="#838383" stroke-width="4.4" stroke-linecap="round" />
<line x1="883.2" y1="525.8" x2="631.8" y2="482.6" stroke="#838383" stroke-width="4.4" stroke-linecap="round" />
<line x1="903.9" y1="399.5" x2="652.1" y2="356.9" stroke="#838383" stroke-width="4.4" stroke-linecap="round" />
<line x1="924.5" y1="272.9" x2="672.5" y2="231.1" stroke="#838383" stroke-width="4.4" stroke-linecap="round" />
<line x1="945.3" y1="146.1" x2="692.8" y2="105" stroke="#838383" stroke-width="4.4" stroke-linecap="round" />
<line x1="600.8" y1="613.6" x2="682.5" y2="108.2" stroke="#000" stroke-width="3.6" stroke-linecap="round" />
<line x1="139.1" y1="853.6" x2="600.8" y2="613.6" stroke="#000" stroke-width="3.6" stroke-linecap="round" />
<line x1="600.8" y1="613.6" x2="853" y2="657.7" stroke="#000" stroke-width="3.6" stroke-linecap="round" />
<line x1="682.5" y1="108.2" x2="936" y2="149.5" stroke="#000" stroke-width="3.6" stroke-linecap="round" />
<line x1="187.1" y1="551.2" x2="641.6" y2="361.3" stroke="#000" stroke-width="3.6" stroke-linecap="round" />
<line x1="641.6" y1="361.3" x2="894.4" y2="404.1" stroke="#000" stroke-width="3.6" stroke-linecap="round" />
<line x1="235.2" y1="247.5" x2="682.5" y2="108.2" stroke="#000" stroke-width="3.6" stroke-linecap="round" />
<line x1="853" y1="657.7" x2="936" y2="149.5" stroke="#000" stroke-width="3.6" stroke-linecap="round" />
<g clip-path="url(#cpa)">
<polygon points="139.1,853.6 438.9,908.4 487.8,603.9 187.1,551.2" fill="#7a1208"/>
<path d="M582.1 618.4 L623 365 L640.5 367.8 L599.6 621.3 Z" fill="url(#g1)" />
<path d="M841.7 669.4 L588.3 625 L590.9 610.3 L844.3 654.7 Z" fill="url(#g2)" />
<path d="M562.4 628.6 L603.6 373 L621.4 375.9 L580.1 631.5 Z" fill="url(#g3)" />
<path d="M824.1 680.2 L568.7 635.3 L571.3 620.4 L826.7 665.2 Z" fill="url(#g4)" />
<path d="M542.3 638.9 L583.9 381.2 L601.9 384.1 L560.3 641.9 Z" fill="url(#g5)" />
<path d="M806.2 691.1 L548.7 645.7 L551.4 630.7 L808.9 675.9 Z" fill="url(#g6)" />
<path d="M521.9 649.5 L563.8 389.5 L582.1 392.4 L540.2 652.4 Z" fill="url(#g7)" />
<path d="M788.1 702.2 L528.5 656.4 L531.1 641.1 L790.8 686.8 Z" fill="url(#g8)" />
<path d="M501.2 660.2 L543.4 397.9 L562 400.9 L519.7 663.1 Z" fill="url(#g9)" />
<path d="M769.6 713.4 L507.8 667.2 L510.5 651.7 L772.3 697.9 Z" fill="url(#g10)" />
<path d="M480.1 671 L522.6 406.5 L541.4 409.6 L498.9 674.1 Z" fill="url(#g11)" />
<path d="M750.7 724.9 L486.8 678.2 L489.6 662.5 L753.5 709.1 Z" fill="url(#g12)" />
<path d="M458.6 682.1 L501.4 415.3 L520.6 418.4 L477.7 685.2 Z" fill="url(#g13)" />
<path d="M731.6 736.6 L465.4 689.4 L468.3 673.5 L734.4 720.6 Z" fill="url(#g14)" />
<path d="M436.7 693.4 L479.9 424.2 L499.3 427.3 L456.1 696.5 Z" fill="url(#g15)" />
<path d="M712.1 748.5 L443.7 700.8 L446.6 684.6 L715 732.3 Z" fill="url(#g16)" />
<path d="M414.4 704.9 L458 433.3 L477.7 436.4 L434.1 708 Z" fill="url(#g17)" />
<path d="M692.2 760.6 L421.5 712.4 L424.5 696 L695.2 744.1 Z" fill="url(#g18)" />
<path d="M391.8 716.6 L435.7 442.5 L455.7 445.7 L411.8 719.8 Z" fill="url(#g19)" />
<path d="M672 773 L399 724.2 L402 707.6 L675 756.2 Z" fill="url(#g20)" />
<path d="M368.7 728.5 L412.9 451.9 L433.3 455.2 L389 731.7 Z" fill="url(#g21)" />
<path d="M651.4 785.6 L376 736.3 L379.1 719.4 L654.4 768.6 Z" fill="url(#g22)" />
<path d="M345.2 740.6 L389.8 461.5 L410.4 464.8 L365.8 743.9 Z" fill="url(#g23)" />
<path d="M630.4 798.4 L352.7 748.5 L355.7 731.4 L633.5 781.1 Z" fill="url(#g24)" />
<path d="M321.2 752.9 L366.2 471.3 L387.2 474.6 L342.2 756.3 Z" fill="url(#g25)" />
<path d="M609.1 811.4 L328.8 761 L332 743.6 L612.2 793.9 Z" fill="url(#g26)" />
<path d="M296.8 765.5 L342.2 481.2 L363.5 484.6 L318.1 768.9 Z" fill="url(#g27)" />
<path d="M587.3 824.7 L304.6 773.8 L307.7 756.1 L590.5 806.9 Z" fill="url(#g28)" />
<path d="M271.9 778.3 L317.7 491.3 L339.3 494.8 L293.5 781.8 Z" fill="url(#g29)" />
<path d="M565.1 838.3 L279.8 786.7 L283.1 768.8 L568.3 820.2 Z" fill="url(#g30)" />
<path d="M246.5 791.4 L292.7 501.7 L314.7 505.2 L268.5 794.9 Z" fill="url(#g31)" />
<path d="M542.5 852.1 L254.6 800 L257.9 781.7 L545.8 833.7 Z" fill="url(#g32)" />
<path d="M220.7 804.7 L267.2 512.2 L289.6 515.8 L243.1 808.3 Z" fill="url(#g33)" />
<path d="M519.4 866.2 L228.9 813.5 L232.3 794.9 L522.8 847.5 Z" fill="url(#g34)" />
<path d="M194.3 818.3 L241.3 522.9 L264.1 526.5 L217.1 821.9 Z" fill="url(#g35)" />
<path d="M495.9 880.5 L202.7 827.2 L206.1 808.4 L499.3 861.6 Z" fill="url(#g36)" />
<path d="M167.4 832.1 L214.8 533.9 L238 537.5 L190.6 835.8 Z" fill="url(#g37)" />
<path d="M471.9 895.2 L176 841.2 L179.5 822.1 L475.4 875.9 Z" fill="url(#g38)" />
<path d="M140 846.2 L187.8 545 L211.4 548.8 L163.6 850 Z" fill="url(#g39)" />
<path d="M447.4 910.1 L148.7 855.5 L152.3 836.1 L451 890.5 Z" fill="url(#g40)" />
<line x1="159.7" y1="842.9" x2="166.8" y2="839.2" stroke="#000" stroke-width="3.6" stroke-linecap="round" />
<line x1="186.8" y1="828.8" x2="193.7" y2="825.2" stroke="#000" stroke-width="3.6" stroke-linecap="round" />
<line x1="213.3" y1="815" x2="220.1" y2="811.5" stroke="#000" stroke-width="3.6" stroke-linecap="round" />
<line x1="239.3" y1="801.5" x2="246" y2="798" stroke="#000" stroke-width="3.6" stroke-linecap="round" />
<line x1="264.8" y1="788.3" x2="271.3" y2="784.9" stroke="#000" stroke-width="3.6" stroke-linecap="round" />
<line x1="289.8" y1="775.3" x2="296.2" y2="771.9" stroke="#000" stroke-width="3.6" stroke-linecap="round" />
<line x1="314.3" y1="762.5" x2="320.6" y2="759.2" stroke="#000" stroke-width="3.6" stroke-linecap="round" />
<line x1="338.4" y1="750" x2="344.6" y2="746.8" stroke="#000" stroke-width="3.6" stroke-linecap="round" />
<line x1="362.1" y1="737.7" x2="368.1" y2="734.5" stroke="#000" stroke-width="3.6" stroke-linecap="round" />
<polygon points="288.5,880.9 726.5,635.6 767.6,382.7 336.9,577.5" fill="url(#pla)" />
<path d="M841.7 669.4 L714.6 647.2 L717.2 632.5 L844.3 654.7 Z" fill="url(#g41)" />
<path d="M824.1 680.2 L696 657.6 L698.6 642.8 L826.7 665.2 Z" fill="url(#g42)" />
<path d="M806.2 691.1 L677.1 668.3 L679.8 653.2 L808.9 675.9 Z" fill="url(#g43)" />
<path d="M788.1 702.2 L657.9 679.2 L660.6 663.9 L790.8 686.8 Z" fill="url(#g44)" />
<path d="M769.6 713.4 L638.3 690.2 L641 674.7 L772.3 697.9 Z" fill="url(#g45)" />
<path d="M750.7 724.9 L618.4 701.5 L621.1 685.7 L753.5 709.1 Z" fill="url(#g46)" />
<path d="M731.6 736.6 L598.1 712.9 L600.9 697 L734.4 720.6 Z" fill="url(#g47)" />
<path d="M712.1 748.5 L577.5 724.6 L580.3 708.4 L715 732.3 Z" fill="url(#g48)" />
<path d="M692.2 760.6 L556.4 736.4 L559.4 720 L695.2 744.1 Z" fill="url(#g49)" />
<path d="M672 773 L535.1 748.5 L538 731.8 L675 756.2 Z" fill="url(#g50)" />
<path d="M651.4 785.6 L513.3 760.8 L516.3 743.9 L654.4 768.6 Z" fill="url(#g51)" />
<path d="M630.4 798.4 L491.1 773.4 L494.2 756.2 L633.5 781.1 Z" fill="url(#g52)" />
<path d="M609.1 811.4 L468.5 786.1 L471.6 768.7 L612.2 793.9 Z" fill="url(#g53)" />
<path d="M587.3 824.7 L445.4 799.1 L448.6 781.4 L590.5 806.9 Z" fill="url(#g54)" />
<path d="M565.1 838.3 L422 812.4 L425.2 794.4 L568.3 820.2 Z" fill="url(#g55)" />
<path d="M542.5 852.1 L398 825.9 L401.4 807.6 L545.8 833.7 Z" fill="url(#g56)" />
<path d="M519.4 866.2 L373.7 839.7 L377 821.1 L522.8 847.5 Z" fill="url(#g57)" />
<path d="M495.9 880.5 L348.8 853.8 L352.2 834.9 L499.3 861.6 Z" fill="url(#g58)" />
<path d="M471.9 895.2 L323.4 868.1 L326.9 848.9 L475.4 875.9 Z" fill="url(#g59)" />
<path d="M447.4 910.1 L297.5 882.7 L301.1 863.2 L451 890.5 Z" fill="url(#g60)" />
</g>
<polygon points="487.8,603.9 894.4,404.1 641.6,361.3 187.1,551.2" fill="#84e184" />
<path d="M883.6 413.4 L619.9 374.4 L622 360.5 L885.7 399.4 Z" fill="url(#g61)" />
<path d="M622.3 369.4 A8.5 8.5 -22.7 0 1 638 362.9 Z" fill="url(#g62)"/>
<path d="M602.9 377.5 A8.6 8.6 -22.7 0 1 618.8 370.8 Z" fill="url(#g63)"/>
<path d="M848.8 430.6 L580.7 390.9 L582.8 376.7 L851 416.3 Z" fill="url(#g64)" />
<path d="M583.1 385.8 A8.8 8.8 -22.7 0 1 599.4 379 Z" fill="url(#g65)"/>
<path d="M563.1 394.1 A8.9 8.9 -22.7 0 1 579.6 387.3 Z" fill="url(#g66)"/>
<path d="M812.9 448.5 L540.1 408 L542.3 393.4 L815 433.8 Z" fill="url(#g67)" />
<path d="M542.6 402.7 A9.1 9.1 -22.7 0 1 559.4 395.7 Z" fill="url(#g68)"/>
<path d="M521.8 411.4 A9.3 9.3 -22.7 0 1 538.9 404.2 Z" fill="url(#g69)"/>
<path d="M775.6 466.9 L498 425.8 L500.3 410.7 L777.8 451.9 Z" fill="url(#g70)" />
<path d="M500.7 420.2 A9.4 9.4 -22.7 0 1 518 412.9 Z" fill="url(#g71)"/>
<path d="M479.1 429.2 A9.6 9.6 -22.7 0 1 496.8 421.8 Z" fill="url(#g72)"/>
<path d="M737 486.1 L454.5 444.1 L456.7 428.7 L739.2 470.6 Z" fill="url(#g73)" />
<path d="M457.2 438.4 A9.8 9.8 -22.7 0 1 475.2 430.8 Z" fill="url(#g74)"/>
<path d="M434.8 447.7 A9.9 9.9 -22.7 0 1 453.2 440 Z" fill="url(#g75)"/>
<path d="M696.9 505.9 L409.3 463.2 L411.6 447.3 L699.3 490 Z" fill="url(#g76)" />
<path d="M412.1 457.2 A10.1 10.1 -22.7 0 1 430.8 449.4 Z" fill="url(#g77)"/>
<path d="M388.9 466.9 A10.3 10.3 -22.7 0 1 408 458.9 Z" fill="url(#g78)"/>
<path d="M655.3 526.5 L362.4 482.9 L364.8 466.6 L657.8 510.2 Z" fill="url(#g79)" />
<path d="M365.3 476.7 A10.5 10.5 -22.7 0 1 384.7 468.6 Z" fill="url(#g80)"/>
<path d="M341.3 486.8 A10.7 10.7 -22.7 0 1 361 478.5 Z" fill="url(#g81)"/>
<path d="M612.2 547.9 L313.7 503.5 L316.2 486.7 L614.7 531.1 Z" fill="url(#g82)" />
<path d="M316.7 497 A10.9 10.9 -22.7 0 1 336.9 488.6 Z" fill="url(#g83)"/>
<path d="M291.8 507.5 A11.1 11.1 -22.7 0 1 312.3 498.9 Z" fill="url(#g84)"/>
<path d="M567.3 570.2 L263.1 524.8 L265.7 507.5 L569.9 552.9 Z" fill="url(#g85)" />
<path d="M266.3 518.1 A11.3 11.3 -22.7 0 1 287.2 509.4 Z" fill="url(#g86)"/>
<path d="M240.3 528.9 A11.6 11.6 -22.7 0 1 261.6 520 Z" fill="url(#g87)"/>
<path d="M520.7 593.3 L210.5 547 L213.2 529.2 L523.4 575.5 Z" fill="url(#g88)" />
<path d="M213.8 540 A11.8 11.8 -22.7 0 1 235.6 530.9 Z" fill="url(#g89)"/>
<path d="M186.8 551.3 A12 12 -22.7 0 1 209 542 Z" fill="url(#g90)"/>
<polygon points="572,471.1 435.1,447.6 479.3,171.5 616.6,194.2" fill="#92f58c" />
<polygon points="572,471.1 767.6,382.7 808.9,128.8 616.6,194.2" fill="#559655" />
<path d="M883.6 413.4 L751.7 393.9 L753.7 379.9 L885.7 399.4 Z" fill="url(#g91)" />
<path d="M848.8 430.6 L714.6 410.8 L716.8 396.5 L851 416.3 Z" fill="url(#g92)" />
<path d="M812.9 448.5 L676.3 428.2 L678.5 413.6 L815 433.8 Z" fill="url(#g93)" />
<path d="M775.6 466.9 L636.7 446.3 L638.9 431.3 L777.8 451.9 Z" fill="url(#g94)" />
<path d="M737 486.1 L595.6 465.1 L597.9 449.6 L739.2 470.6 Z" fill="url(#g95)" />
<polygon points="336.9,577.5 572,471.1 616.6,194.2 385.6,272.8" fill="#559655" />
<polygon points="709.8,494.8 572,471.1 616.6,194.2 754.9,217" fill="#92f58c" />
<path d="M696.9 505.9 L552.9 484.5 L555.3 468.7 L699.3 490 Z" fill="url(#g96)" />
<path d="M655.3 526.5 L508.7 504.7 L511.1 488.4 L657.8 510.2 Z" fill="url(#g97)" />
<path d="M612.2 547.9 L462.8 525.7 L465.3 508.9 L614.7 531.1 Z" fill="url(#g98)" />
<path d="M567.3 570.2 L415.1 547.5 L417.6 530.2 L569.9 552.9 Z" fill="url(#g99)" />
<path d="M520.7 593.3 L365.4 570.1 L368.1 552.3 L523.4 575.5 Z" fill="url(#g100)" />
<line x1="487.8" y1="603.9" x2="894.4" y2="404.1" stroke="#000" stroke-width="3.6" stroke-linecap="round" />
<line x1="438.9" y1="908.4" x2="853" y2="657.7" stroke="#000" stroke-width="3.6" stroke-linecap="round" />
<path d="M833.3 659.4 L874.4 407.5 A10 10 0 0 1 894.1 410.7 L852.9 662.6 A10 10 0 0 1 833.3 659.4 Z" fill="url(#g101)" />
<path d="M875.5 414.4 A9.8 9.8 0 0 1 893 405.8 L891.5 422.4 L874 431 Z" fill="url(#g102)"/>
<line x1="873.8" y1="414.2" x2="877.9" y2="412.2" stroke="#000" stroke-width="3.6" stroke-linecap="round" />
<line x1="832" y1="670.5" x2="836.2" y2="667.9" stroke="#000" stroke-width="3.6" stroke-linecap="round" />
<path d="M815.6 669.9 L857 415.9 A10.1 10.1 0 0 1 877 419.2 L835.5 673.2 A10.1 10.1 0 0 1 815.6 669.9 Z" fill="url(#g103)" />
<line x1="856.4" y1="422.8" x2="860.6" y2="420.7" stroke="#000" stroke-width="3.6" stroke-linecap="round" />
<line x1="814.2" y1="681.2" x2="818.5" y2="678.6" stroke="#000" stroke-width="3.6" stroke-linecap="round" />
<path d="M797.6 680.7 L839.4 424.5 A10.2 10.2 0 0 1 859.6 427.8 L817.8 684 A10.2 10.2 0 0 1 797.6 680.7 Z" fill="url(#g104)" />
<path d="M840.4 431.7 A10.1 10.1 0 0 1 858.5 422.7 L857 439.9 L838.9 448.8 Z" fill="url(#g105)"/>
<line x1="838.7" y1="431.5" x2="842.9" y2="429.4" stroke="#000" stroke-width="3.6" stroke-linecap="round" />
<line x1="796.2" y1="692.1" x2="800.5" y2="689.5" stroke="#000" stroke-width="3.6" stroke-linecap="round" />
<path d="M779.3 691.6 L821.4 433.3 A10.4 10.4 0 0 1 841.9 436.6 L799.8 695 A10.4 10.4 0 0 1 779.3 691.6 Z" fill="url(#g106)" />
<line x1="820.6" y1="440.4" x2="825" y2="438.2" stroke="#000" stroke-width="3.6" stroke-linecap="round" />
<line x1="777.8" y1="703.2" x2="782.3" y2="700.6" stroke="#000" stroke-width="3.6" stroke-linecap="round" />
<path d="M760.7 702.8 L803.1 442.2 A10.5 10.5 0 0 1 823.9 445.5 L781.4 706.1 A10.5 10.5 0 0 1 760.7 702.8 Z" fill="url(#g107)" />
<path d="M804.1 449.5 A10.4 10.4 0 0 1 822.9 440.3 L821.4 458.1 L802.6 467.3 Z" fill="url(#g108)"/>
<line x1="802.3" y1="449.4" x2="806.7" y2="447.2" stroke="#000" stroke-width="3.6" stroke-linecap="round" />
<line x1="759.2" y1="714.5" x2="763.7" y2="711.8" stroke="#000" stroke-width="3.6" stroke-linecap="round" />
<path d="M741.8 714.1 L784.6 451.2 A10.6 10.6 0 0 1 805.5 454.6 L762.7 717.5 A10.6 10.6 0 0 1 741.8 714.1 Z" fill="url(#g109)" />
<line x1="783.7" y1="458.5" x2="788.2" y2="456.3" stroke="#000" stroke-width="3.6" stroke-linecap="round" />
<line x1="740.1" y1="726" x2="744.7" y2="723.3" stroke="#000" stroke-width="3.6" stroke-linecap="round" />
<path d="M722.5 725.6 L765.6 460.4 A10.8 10.8 0 0 1 786.9 463.9 L743.7 729.1 A10.8 10.8 0 0 1 722.5 725.6 Z" fill="url(#g110)" />
<path d="M766.5 468 A10.8 10.8 0 0 1 786 458.4 L784.5 476.9 L765 486.4 Z" fill="url(#g111)"/>
<line x1="764.7" y1="467.9" x2="769.2" y2="465.6" stroke="#000" stroke-width="3.6" stroke-linecap="round" />
<line x1="720.8" y1="737.8" x2="725.5" y2="734.9" stroke="#000" stroke-width="3.6" stroke-linecap="round" />
<path d="M702.9 737.4 L746.4 469.8 A10.9 10.9 0 0 1 767.9 473.3 L724.4 740.9 A10.9 10.9 0 0 1 702.9 737.4 Z" fill="url(#g112)" />
<line x1="745.3" y1="477.4" x2="750" y2="475.1" stroke="#000" stroke-width="3.6" stroke-linecap="round" />
<line x1="701.1" y1="749.7" x2="705.9" y2="746.8" stroke="#000" stroke-width="3.6" stroke-linecap="round" />
<path d="M682.9 749.3 L726.7 479.4 A11.1 11.1 0 0 1 748.6 482.9 L704.7 752.9 A11 11 0 0 1 682.9 749.3 Z" fill="url(#g113)" />
<path d="M727.6 487.1 A11.2 11.2 0 0 1 747.7 477.2 L746.2 496.4 L726.1 506.3 Z" fill="url(#g114)"/>
<line x1="725.6" y1="487.1" x2="730.4" y2="484.7" stroke="#000" stroke-width="3.6" stroke-linecap="round" />
<line x1="681.1" y1="761.8" x2="685.9" y2="758.9" stroke="#000" stroke-width="3.6" stroke-linecap="round" />
<path d="M662.6 761.5 L706.8 489.1 A11.2 11.2 0 0 1 728.9 492.7 L684.7 765.1 A11.2 11.2 0 0 1 662.6 761.5 Z" fill="url(#g115)" />
<line x1="705.6" y1="496.9" x2="710.4" y2="494.5" stroke="#000" stroke-width="3.6" stroke-linecap="round" />
<line x1="660.6" y1="774.2" x2="665.6" y2="771.2" stroke="#000" stroke-width="3.6" stroke-linecap="round" />
<path d="M641.9 773.9 L686.4 499 A11.4 11.4 0 0 1 708.8 502.6 L664.3 777.5 A11.3 11.3 0 0 1 641.9 773.9 Z" fill="url(#g116)" />
<path d="M687.2 507 A11.6 11.6 0 0 1 708.1 496.7 L706.6 516.6 L685.7 526.9 Z" fill="url(#g117)"/>
<line x1="685.2" y1="507" x2="690.1" y2="504.5" stroke="#000" stroke-width="3.6" stroke-linecap="round" />
<line x1="639.8" y1="786.8" x2="644.9" y2="783.7" stroke="#000" stroke-width="3.6" stroke-linecap="round" />
<path d="M620.8 786.5 L665.7 509.1 A11.5 11.5 0 0 1 688.4 512.8 L643.5 790.2 A11.5 11.5 0 0 1 620.8 786.5 Z" fill="url(#g118)" />
<line x1="664.4" y1="517.2" x2="669.4" y2="514.7" stroke="#000" stroke-width="3.6" stroke-linecap="round" />
<line x1="618.6" y1="799.6" x2="623.8" y2="796.5" stroke="#000" stroke-width="3.6" stroke-linecap="round" />
<path d="M599.3 799.4 L644.6 519.4 A11.7 11.7 0 0 1 667.6 523.1 L622.3 803.1 A11.6 11.6 0 0 1 599.3 799.4 Z" fill="url(#g119)" />
<path d="M645.2 527.6 A12.1 12.1 0 0 1 666.9 516.9 L665.4 537.7 L643.7 548.3 Z" fill="url(#g120)"/>
<line x1="643.2" y1="527.6" x2="648.3" y2="525.1" stroke="#000" stroke-width="3.6" stroke-linecap="round" />
<line x1="597" y1="812.7" x2="602.3" y2="809.5" stroke="#000" stroke-width="3.6" stroke-linecap="round" />
<path d="M577.4 812.5 L623.1 529.8 A11.8 11.8 0 0 1 646.4 533.6 L600.7 816.3 A11.8 11.8 0 0 1 577.4 812.5 Z" fill="url(#g121)" />
<line x1="621.5" y1="538.2" x2="626.8" y2="535.7" stroke="#000" stroke-width="3.6" stroke-linecap="round" />
<line x1="575" y1="826" x2="580.4" y2="822.8" stroke="#000" stroke-width="3.6" stroke-linecap="round" />
<path d="M555.1 825.9 L601.1 540.5 A12 12 0 0 1 624.8 544.3 L578.7 829.7 A12 12 0 0 1 555.1 825.9 Z" fill="url(#g122)" />
<path d="M601.7 549 A12.6 12.6 0 0 1 624.2 537.9 L622.7 559.5 L600.2 570.6 Z" fill="url(#g123)"/>
<line x1="599.5" y1="549" x2="604.8" y2="546.4" stroke="#000" stroke-width="3.6" stroke-linecap="round" />
<line x1="552.6" y1="839.6" x2="558" y2="836.3" stroke="#000" stroke-width="3.6" stroke-linecap="round" />
<path d="M532.3 839.5 L578.8 551.4 A12.2 12.2 0 0 1 602.8 555.3 L556.3 843.4 A12.1 12.1 0 0 1 532.3 839.5 Z" fill="url(#g124)" />
<line x1="577.1" y1="560.1" x2="582.5" y2="557.4" stroke="#000" stroke-width="3.6" stroke-linecap="round" />
<line x1="529.8" y1="853.4" x2="535.3" y2="850" stroke="#000" stroke-width="3.6" stroke-linecap="round" />
<path d="M509.1 853.4 L556 562.5 A12.3 12.3 0 0 1 580.3 566.4 L533.4 857.3 A12.3 12.3 0 0 1 509.1 853.4 Z" fill="url(#g125)" />
<path d="M556.4 571.2 A13 13 0 0 1 579.8 559.7 L578.3 582.2 L554.9 593.7 Z" fill="url(#g126)"/>
<line x1="554.2" y1="571.3" x2="559.7" y2="568.6" stroke="#000" stroke-width="3.6" stroke-linecap="round" />
<line x1="506.4" y1="867.5" x2="512.1" y2="864.1" stroke="#000" stroke-width="3.6" stroke-linecap="round" />
<path d="M485.4 867.5 L532.7 573.8 A12.5 12.5 0 0 1 557.4 577.8 L510.1 871.5 A12.5 12.5 0 0 1 485.4 867.5 Z" fill="url(#g127)" />
<line x1="530.8" y1="582.8" x2="536.5" y2="580" stroke="#000" stroke-width="3.6" stroke-linecap="round" />
<line x1="482.7" y1="881.9" x2="488.4" y2="878.4" stroke="#000" stroke-width="3.6" stroke-linecap="round" />
<path d="M461.3 882 L509 585.3 A12.7 12.7 0 0 1 534.1 589.4 L486.3 886 A12.7 12.7 0 0 1 461.3 882 Z" fill="url(#g128)" />
<path d="M509.3 594.4 A13.6 13.6 0 0 1 533.7 582.4 L532.2 605.8 L507.8 617.8 Z" fill="url(#g129)"/>
<line x1="507" y1="594.5" x2="512.8" y2="591.7" stroke="#000" stroke-width="3.6" stroke-linecap="round" />
<line x1="458.4" y1="896.6" x2="464.3" y2="893" stroke="#000" stroke-width="3.6" stroke-linecap="round" />
<path d="M436.7 896.7 L484.8 597.1 A12.9 12.9 0 0 1 510.3 601.2 L462.1 900.8 A12.9 12.9 0 0 1 436.7 896.7 Z" fill="url(#g130)" />
<line x1="235.2" y1="247.5" x2="537" y2="298.2" stroke="#000" stroke-width="3.6" stroke-linecap="round" />
<line x1="537" y1="298.2" x2="936" y2="149.5" stroke="#000" stroke-width="3.6" stroke-linecap="round" />
<line x1="139.1" y1="853.6" x2="235.2" y2="247.5" stroke="#000" stroke-width="3.6" stroke-linecap="round" />
<line x1="438.9" y1="908.4" x2="537" y2="298.2" stroke="#000" stroke-width="3.6" stroke-linecap="round" />
<line x1="139.1" y1="853.6" x2="438.9" y2="908.4" stroke="#000" stroke-width="3.6" stroke-linecap="round" />
<line x1="187.1" y1="551.2" x2="487.8" y2="603.9" stroke="#000" stroke-width="3.6" stroke-linecap="round" />
</g>
<g id="pb">
<line x1="1719" y1="843.8" x2="1762.4" y2="518.3" stroke="#838383" stroke-width="4.4" stroke-linecap="round" />
<line x1="1908" y1="749.9" x2="1953.3" y2="433.3" stroke="#838383" stroke-width="4.4" stroke-linecap="round" />
<line x1="2085.3" y1="661.8" x2="2132.2" y2="353.7" stroke="#838383" stroke-width="4.4" stroke-linecap="round" />
<line x1="2252" y1="579" x2="2300.1" y2="278.9" stroke="#838383" stroke-width="4.4" stroke-linecap="round" />
<line x1="2408.9" y1="501" x2="2458.1" y2="208.6" stroke="#838383" stroke-width="4.4" stroke-linecap="round" />
<line x1="1719" y1="843.8" x2="2557" y2="427.4" stroke="#838383" stroke-width="4.4" stroke-linecap="round" />
<line x1="1729.7" y1="763.5" x2="2569.4" y2="356.9" stroke="#838383" stroke-width="4.4" stroke-linecap="round" />
<line x1="1740.5" y1="682.5" x2="2581.9" y2="285.9" stroke="#838383" stroke-width="4.4" stroke-linecap="round" />
<line x1="1751.4" y1="600.7" x2="2594.4" y2="214.4" stroke="#838383" stroke-width="4.4" stroke-linecap="round" />
<line x1="1762.4" y1="518.3" x2="2607.1" y2="142.2" stroke="#838383" stroke-width="4.4" stroke-linecap="round" />
<line x1="1898.8" y1="955.1" x2="1750.4" y2="897.9" stroke="#838383" stroke-width="4.4" stroke-linecap="round" />
<line x1="2083.4" y1="856.9" x2="1938.3" y2="802.3" stroke="#838383" stroke-width="4.4" stroke-linecap="round" />
<line x1="2256.5" y1="764.8" x2="2114.7" y2="712.6" stroke="#838383" stroke-width="4.4" stroke-linecap="round" />
<line x1="2419.2" y1="678.3" x2="2280.4" y2="628.2" stroke="#838383" stroke-width="4.4" stroke-linecap="round" />
<line x1="2572.3" y1="596.9" x2="2436.5" y2="548.8" stroke="#838383" stroke-width="4.4" stroke-linecap="round" />
<line x1="1898.8" y1="955.1" x2="2716.7" y2="520.1" stroke="#838383" stroke-width="4.4" stroke-linecap="round" />
<line x1="1824.3" y1="926.3" x2="2650.1" y2="496.9" stroke="#838383" stroke-width="4.4" stroke-linecap="round" />
<line x1="1750.4" y1="897.9" x2="2583.8" y2="473.9" stroke="#838383" stroke-width="4.4" stroke-linecap="round" />
<line x1="2742.8" y1="474.6" x2="2796" y2="188.9" stroke="#838383" stroke-width="4.4" stroke-linecap="round" />
<line x1="2676.2" y1="451.6" x2="2728.1" y2="166.5" stroke="#838383" stroke-width="4.4" stroke-linecap="round" />
<line x1="2610" y1="428.8" x2="2660.8" y2="144.3" stroke="#838383" stroke-width="4.4" stroke-linecap="round" />
<line x1="2742.8" y1="474.6" x2="2610" y2="428.8" stroke="#838383" stroke-width="4.4" stroke-linecap="round" />
<line x1="2756" y1="404" x2="2622.6" y2="358.5" stroke="#838383" stroke-width="4.4" stroke-linecap="round" />
<line x1="2769.2" y1="332.8" x2="2635.2" y2="287.6" stroke="#838383" stroke-width="4.4" stroke-linecap="round" />
<line x1="2782.5" y1="261.1" x2="2647.9" y2="216.2" stroke="#838383" stroke-width="4.4" stroke-linecap="round" />
<line x1="2796" y1="188.9" x2="2660.8" y2="144.3" stroke="#838383" stroke-width="4.4" stroke-linecap="round" />
<line x1="2590" y1="438.8" x2="2640.7" y2="153.4" stroke="#000" stroke-width="3.6" stroke-linecap="round" />
<line x1="1755.8" y1="857.9" x2="2590" y2="438.8" stroke="#000" stroke-width="3.6" stroke-linecap="round" />
<line x1="2640.7" y1="153.4" x2="2776.3" y2="198.1" stroke="#000" stroke-width="3.6" stroke-linecap="round" />
<line x1="1777.7" y1="696.4" x2="2615.2" y2="297.2" stroke="#000" stroke-width="3.6" stroke-linecap="round" />
<line x1="2615.2" y1="297.2" x2="2749.6" y2="342.6" stroke="#000" stroke-width="3.6" stroke-linecap="round" />
<line x1="1800" y1="532" x2="2640.7" y2="153.4" stroke="#000" stroke-width="3.6" stroke-linecap="round" />
<line x1="2749.6" y1="342.6" x2="2776.3" y2="198.1" stroke="#000" stroke-width="3.6" stroke-linecap="round" />
<polygon points="2274.8,657.8 2204.7,632.4 2252.9,328 2324.3,352.7" fill="#a8f9a2" />
<polygon points="2274.8,657.8 2656.4,461.8 2682.1,319.8 2299.4,506.5" fill="url(#plb)" />
<polygon points="2370.6,531.7 2749.6,342.6 2615.2,297.2 2228.6,481.4" fill="url(#slb)" />
<polygon points="2299.4,506.5 2682.1,319.8 2708.3,175.7 2324.3,352.7" fill="url(#pub)" />
<polygon points="1829.9,886.3 2274.8,657.8 2299.4,506.5 1852.6,724.4" fill="url(#plb)" />
<polygon points="1928,752.6 2370.6,531.7 2228.6,481.4 1777.7,696.4" fill="url(#slb)" />
<path d="M1778.2 693.1 L2021.6 577.2" fill="none" stroke="#4d8538" stroke-width="11" stroke-linecap="round" stroke-linejoin="round" transform="translate(-0 -0)"/>
<path d="M1778.2 693.1 L2021.6 577.2" fill="none" stroke="#68b24b" stroke-width="9.7" stroke-linecap="round" stroke-linejoin="round" transform="translate(-0.2 -0.2)"/>
<path d="M1778.2 693.1 L2021.6 577.2" fill="none" stroke="#7fdb5c" stroke-width="8.1" stroke-linecap="round" stroke-linejoin="round" transform="translate(-0.5 -0.5)"/>
<path d="M1778.2 693.1 L2021.6 577.2" fill="none" stroke="#94ff6b" stroke-width="6.4" stroke-linecap="round" stroke-linejoin="round" transform="translate(-0.9 -0.9)"/>
<path d="M1778.2 693.1 L2021.6 577.2" fill="none" stroke="#9fff7a" stroke-width="4.4" stroke-linecap="round" stroke-linejoin="round" transform="translate(-1.2 -1.2)"/>
<path d="M1778.2 693.1 L2021.6 577.2" fill="none" stroke="#abff8c" stroke-width="2.2" stroke-linecap="round" stroke-linejoin="round" transform="translate(-1.4 -1.4)"/>
<polygon points="1852.6,724.4 2299.4,506.5 2324.3,352.7 1875.6,559.6" fill="url(#pub)" />
<polygon points="2345.3,683.4 2274.8,657.8 2324.3,352.7 2396.3,377.6" fill="#a8f9a2" />
<line x1="1928" y1="752.6" x2="2749.6" y2="342.6" stroke="#000" stroke-width="3.6" stroke-linecap="round" />
<line x1="1904.6" y1="914.9" x2="2723.2" y2="484.9" stroke="#000" stroke-width="3.6" stroke-linecap="round" />
<path d="M2677 388 L2707 376" fill="none" stroke="#0c1574" stroke-width="7" stroke-linecap="round" stroke-linejoin="round" transform="translate(-0 -0)"/>
<path d="M2677 388 L2707 376" fill="none" stroke="#111c9d" stroke-width="6.2" stroke-linecap="round" stroke-linejoin="round" transform="translate(-0.1 -0.1)"/>
<path d="M2677 388 L2707 376" fill="none" stroke="#1522c1" stroke-width="5.2" stroke-linecap="round" stroke-linejoin="round" transform="translate(-0.3 -0.3)"/>
<path d="M2677 388 L2707 376" fill="none" stroke="#1828e0" stroke-width="4.1" stroke-linecap="round" stroke-linejoin="round" transform="translate(-0.5 -0.5)"/>
<path d="M2677 388 L2707 376" fill="none" stroke="#2f3ee3" stroke-width="2.8" stroke-linecap="round" stroke-linejoin="round" transform="translate(-0.8 -0.8)"/>
<path d="M2677 388 L2707 376" fill="none" stroke="#4b57e7" stroke-width="1.4" stroke-linecap="round" stroke-linejoin="round" transform="translate(-0.9 -0.9)"/>
<path d="M2666 400 L2690 392" fill="none" stroke="#0c1974" stroke-width="7" stroke-linecap="round" stroke-linejoin="round" transform="translate(-0 -0)"/>
<path d="M2666 400 L2690 392" fill="none" stroke="#11229d" stroke-width="6.2" stroke-linecap="round" stroke-linejoin="round" transform="translate(-0.1 -0.1)"/>
<path d="M2666 400 L2690 392" fill="none" stroke="#1529c1" stroke-width="5.2" stroke-linecap="round" stroke-linejoin="round" transform="translate(-0.3 -0.3)"/>
<path d="M2666 400 L2690 392" fill="none" stroke="#1830e0" stroke-width="4.1" stroke-linecap="round" stroke-linejoin="round" transform="translate(-0.5 -0.5)"/>
<path d="M2666 400 L2690 392" fill="none" stroke="#2f45e3" stroke-width="2.8" stroke-linecap="round" stroke-linejoin="round" transform="translate(-0.8 -0.8)"/>
<path d="M2666 400 L2690 392" fill="none" stroke="#4b5ee7" stroke-width="1.4" stroke-linecap="round" stroke-linejoin="round" transform="translate(-0.9 -0.9)"/>
<path d="M2660 414 L2682 408" fill="none" stroke="#0c1d74" stroke-width="6" stroke-linecap="round" stroke-linejoin="round" transform="translate(-0 -0)"/>
<path d="M2660 414 L2682 408" fill="none" stroke="#11279d" stroke-width="5.3" stroke-linecap="round" stroke-linejoin="round" transform="translate(-0.1 -0.1)"/>
<path d="M2660 414 L2682 408" fill="none" stroke="#1530c1" stroke-width="4.4" stroke-linecap="round" stroke-linejoin="round" transform="translate(-0.3 -0.3)"/>
<path d="M2660 414 L2682 408" fill="none" stroke="#1838e0" stroke-width="3.5" stroke-linecap="round" stroke-linejoin="round" transform="translate(-0.5 -0.5)"/>
<path d="M2660 414 L2682 408" fill="none" stroke="#2f4ce3" stroke-width="2.4" stroke-linecap="round" stroke-linejoin="round" transform="translate(-0.7 -0.7)"/>
<path d="M2660 414 L2682 408" fill="none" stroke="#4b64e7" stroke-width="1.2" stroke-linecap="round" stroke-linejoin="round" transform="translate(-0.8 -0.8)"/>
<path d="M2632 464 L2663 457" fill="none" stroke="#0d4985" stroke-width="7" stroke-linecap="round" stroke-linejoin="round" transform="translate(-0 -0)"/>
<path d="M2632 464 L2663 457" fill="none" stroke="#1262b2" stroke-width="6.2" stroke-linecap="round" stroke-linejoin="round" transform="translate(-0.1 -0.1)"/>
<path d="M2632 464 L2663 457" fill="none" stroke="#1679db" stroke-width="5.2" stroke-linecap="round" stroke-linejoin="round" transform="translate(-0.3 -0.3)"/>
<path d="M2632 464 L2663 457" fill="none" stroke="#1a8cff" stroke-width="4.1" stroke-linecap="round" stroke-linejoin="round" transform="translate(-0.5 -0.5)"/>
<path d="M2632 464 L2663 457" fill="none" stroke="#3098ff" stroke-width="2.8" stroke-linecap="round" stroke-linejoin="round" transform="translate(-0.8 -0.8)"/>
<path d="M2632 464 L2663 457" fill="none" stroke="#4ca5ff" stroke-width="1.4" stroke-linecap="round" stroke-linejoin="round" transform="translate(-0.9 -0.9)"/>
<path d="M2620 476 L2657 470" fill="none" stroke="#105085" stroke-width="7" stroke-linecap="round" stroke-linejoin="round" transform="translate(-0 -0)"/>
<path d="M2620 476 L2657 470" fill="none" stroke="#156bb2" stroke-width="6.2" stroke-linecap="round" stroke-linejoin="round" transform="translate(-0.1 -0.1)"/>
<path d="M2620 476 L2657 470" fill="none" stroke="#1a84db" stroke-width="5.2" stroke-linecap="round" stroke-linejoin="round" transform="translate(-0.3 -0.3)"/>
<path d="M2620 476 L2657 470" fill="none" stroke="#1f99ff" stroke-width="4.1" stroke-linecap="round" stroke-linejoin="round" transform="translate(-0.5 -0.5)"/>
<path d="M2620 476 L2657 470" fill="none" stroke="#35a3ff" stroke-width="2.8" stroke-linecap="round" stroke-linejoin="round" transform="translate(-0.8 -0.8)"/>
<path d="M2620 476 L2657 470" fill="none" stroke="#50afff" stroke-width="1.4" stroke-linecap="round" stroke-linejoin="round" transform="translate(-0.9 -0.9)"/>
<path d="M2608 487 L2650 482" fill="none" stroke="#145685" stroke-width="7" stroke-linecap="round" stroke-linejoin="round" transform="translate(-0 -0)"/>
<path d="M2608 487 L2650 482" fill="none" stroke="#1b74b2" stroke-width="6.2" stroke-linecap="round" stroke-linejoin="round" transform="translate(-0.1 -0.1)"/>
<path d="M2608 487 L2650 482" fill="none" stroke="#218fdb" stroke-width="5.2" stroke-linecap="round" stroke-linejoin="round" transform="translate(-0.3 -0.3)"/>
<path d="M2608 487 L2650 482" fill="none" stroke="#26a6ff" stroke-width="4.1" stroke-linecap="round" stroke-linejoin="round" transform="translate(-0.5 -0.5)"/>
<path d="M2608 487 L2650 482" fill="none" stroke="#3cafff" stroke-width="2.8" stroke-linecap="round" stroke-linejoin="round" transform="translate(-0.8 -0.8)"/>
<path d="M2608 487 L2650 482" fill="none" stroke="#56b9ff" stroke-width="1.4" stroke-linecap="round" stroke-linejoin="round" transform="translate(-0.9 -0.9)"/>
<path d="M2596 498 L2641 493" fill="none" stroke="#1b5f85" stroke-width="7" stroke-linecap="round" stroke-linejoin="round" transform="translate(-0 -0)"/>
<path d="M2596 498 L2641 493" fill="none" stroke="#2481b2" stroke-width="6.2" stroke-linecap="round" stroke-linejoin="round" transform="translate(-0.1 -0.1)"/>
<path d="M2596 498 L2641 493" fill="none" stroke="#2c9edb" stroke-width="5.2" stroke-linecap="round" stroke-linejoin="round" transform="translate(-0.3 -0.3)"/>
<path d="M2596 498 L2641 493" fill="none" stroke="#33b8ff" stroke-width="4.1" stroke-linecap="round" stroke-linejoin="round" transform="translate(-0.5 -0.5)"/>
<path d="M2596 498 L2641 493" fill="none" stroke="#47bfff" stroke-width="2.8" stroke-linecap="round" stroke-linejoin="round" transform="translate(-0.8 -0.8)"/>
<path d="M2596 498 L2641 493" fill="none" stroke="#60c7ff" stroke-width="1.4" stroke-linecap="round" stroke-linejoin="round" transform="translate(-0.9 -0.9)"/>
<path d="M2584 500 L2650 524" fill="none" stroke="#1b777e" stroke-width="8" stroke-linecap="round" stroke-linejoin="round" transform="translate(-0 -0)"/>
<path d="M2584 500 L2650 524" fill="none" stroke="#24a1aa" stroke-width="7" stroke-linecap="round" stroke-linejoin="round" transform="translate(-0.2 -0.2)"/>
<path d="M2584 500 L2650 524" fill="none" stroke="#2cc5d0" stroke-width="5.9" stroke-linecap="round" stroke-linejoin="round" transform="translate(-0.4 -0.4)"/>
<path d="M2584 500 L2650 524" fill="none" stroke="#33e6f2" stroke-width="4.6" stroke-linecap="round" stroke-linejoin="round" transform="translate(-0.6 -0.6)"/>
<path d="M2584 500 L2650 524" fill="none" stroke="#47e8f4" stroke-width="3.2" stroke-linecap="round" stroke-linejoin="round" transform="translate(-0.9 -0.9)"/>
<path d="M2584 500 L2650 524" fill="none" stroke="#60ebf5" stroke-width="1.6" stroke-linecap="round" stroke-linejoin="round" transform="translate(-1 -1)"/>
<polygon points="2752,350 2745,410 2732,470 2726,493 2700,505 2676,514 2700,455 2730,395" fill="#1428c8"/>
<path d="M2743.9 410.3 C2742.9 416.3 2740.3 435.3 2737.8 446.4 C2735.3 457.4 2730.8 469.1 2728.8 476.6 C2726.8 484.1 2726.3 489.1 2725.8 491.6" fill="none" stroke="#080858" stroke-width="11" stroke-linecap="round" stroke-linejoin="round" transform="translate(-0 -0)"/>
<path d="M2743.9 410.3 C2742.9 416.3 2740.3 435.3 2737.8 446.4 C2735.3 457.4 2730.8 469.1 2728.8 476.6 C2726.8 484.1 2726.3 489.1 2725.8 491.6" fill="none" stroke="#0b0b76" stroke-width="9.7" stroke-linecap="round" stroke-linejoin="round" transform="translate(-0.2 -0.2)"/>
<path d="M2743.9 410.3 C2742.9 416.3 2740.3 435.3 2737.8 446.4 C2735.3 457.4 2730.8 469.1 2728.8 476.6 C2726.8 484.1 2726.3 489.1 2725.8 491.6" fill="none" stroke="#0d0d91" stroke-width="8.1" stroke-linecap="round" stroke-linejoin="round" transform="translate(-0.5 -0.5)"/>
<path d="M2743.9 410.3 C2742.9 416.3 2740.3 435.3 2737.8 446.4 C2735.3 457.4 2730.8 469.1 2728.8 476.6 C2726.8 484.1 2726.3 489.1 2725.8 491.6" fill="none" stroke="#0f0fa8" stroke-width="6.4" stroke-linecap="round" stroke-linejoin="round" transform="translate(-0.9 -0.9)"/>
<path d="M2743.9 410.3 C2742.9 416.3 2740.3 435.3 2737.8 446.4 C2735.3 457.4 2730.8 469.1 2728.8 476.6 C2726.8 484.1 2726.3 489.1 2725.8 491.6" fill="none" stroke="#2727b1" stroke-width="4.4" stroke-linecap="round" stroke-linejoin="round" transform="translate(-1.2 -1.2)"/>
<path d="M2743.9 410.3 C2742.9 416.3 2740.3 435.3 2737.8 446.4 C2735.3 457.4 2730.8 469.1 2728.8 476.6 C2726.8 484.1 2726.3 489.1 2725.8 491.6" fill="none" stroke="#4444bb" stroke-width="2.2" stroke-linecap="round" stroke-linejoin="round" transform="translate(-1.4 -1.4)"/>
<path d="M2746.9 392.3 C2745.9 397.8 2742.9 414.9 2740.9 425.4 C2738.9 435.9 2737.3 446 2734.8 455.5 C2732.3 465 2728.6 475.6 2725.8 482.6 C2723.1 489.6 2719.6 495.1 2718.3 497.6" fill="none" stroke="#08106d" stroke-width="10" stroke-linecap="round" stroke-linejoin="round" transform="translate(-0 -0)"/>
<path d="M2746.9 392.3 C2745.9 397.8 2742.9 414.9 2740.9 425.4 C2738.9 435.9 2737.3 446 2734.8 455.5 C2732.3 465 2728.6 475.6 2725.8 482.6 C2723.1 489.6 2719.6 495.1 2718.3 497.6" fill="none" stroke="#0b1592" stroke-width="8.8" stroke-linecap="round" stroke-linejoin="round" transform="translate(-0.2 -0.2)"/>
<path d="M2746.9 392.3 C2745.9 397.8 2742.9 414.9 2740.9 425.4 C2738.9 435.9 2737.3 446 2734.8 455.5 C2732.3 465 2728.6 475.6 2725.8 482.6 C2723.1 489.6 2719.6 495.1 2718.3 497.6" fill="none" stroke="#0d1ab4" stroke-width="7.4" stroke-linecap="round" stroke-linejoin="round" transform="translate(-0.5 -0.5)"/>
<path d="M2746.9 392.3 C2745.9 397.8 2742.9 414.9 2740.9 425.4 C2738.9 435.9 2737.3 446 2734.8 455.5 C2732.3 465 2728.6 475.6 2725.8 482.6 C2723.1 489.6 2719.6 495.1 2718.3 497.6" fill="none" stroke="#0f1fd1" stroke-width="5.8" stroke-linecap="round" stroke-linejoin="round" transform="translate(-0.8 -0.8)"/>
<path d="M2746.9 392.3 C2745.9 397.8 2742.9 414.9 2740.9 425.4 C2738.9 435.9 2737.3 446 2734.8 455.5 C2732.3 465 2728.6 475.6 2725.8 482.6 C2723.1 489.6 2719.6 495.1 2718.3 497.6" fill="none" stroke="#2735d6" stroke-width="4" stroke-linecap="round" stroke-linejoin="round" transform="translate(-1.1 -1.1)"/>
<path d="M2746.9 392.3 C2745.9 397.8 2742.9 414.9 2740.9 425.4 C2738.9 435.9 2737.3 446 2734.8 455.5 C2732.3 465 2728.6 475.6 2725.8 482.6 C2723.1 489.6 2719.6 495.1 2718.3 497.6" fill="none" stroke="#4450db" stroke-width="2" stroke-linecap="round" stroke-linejoin="round" transform="translate(-1.3 -1.3)"/>
<path d="M2748.4 383.2 C2747.4 388.7 2744.9 405.8 2742.4 416.3 C2739.9 426.8 2736.6 436.9 2733.3 446.4 C2730 455.9 2726.6 464.5 2722.8 473.5 C2719.1 482.5 2712.8 496.1 2710.8 500.6" fill="none" stroke="#082175" stroke-width="10" stroke-linecap="round" stroke-linejoin="round" transform="translate(-0 -0)"/>
<path d="M2748.4 383.2 C2747.4 388.7 2744.9 405.8 2742.4 416.3 C2739.9 426.8 2736.6 436.9 2733.3 446.4 C2730 455.9 2726.6 464.5 2722.8 473.5 C2719.1 482.5 2712.8 496.1 2710.8 500.6" fill="none" stroke="#0b2d9d" stroke-width="8.8" stroke-linecap="round" stroke-linejoin="round" transform="translate(-0.2 -0.2)"/>
<path d="M2748.4 383.2 C2747.4 388.7 2744.9 405.8 2742.4 416.3 C2739.9 426.8 2736.6 436.9 2733.3 446.4 C2730 455.9 2726.6 464.5 2722.8 473.5 C2719.1 482.5 2712.8 496.1 2710.8 500.6" fill="none" stroke="#0d37c1" stroke-width="7.4" stroke-linecap="round" stroke-linejoin="round" transform="translate(-0.5 -0.5)"/>
<path d="M2748.4 383.2 C2747.4 388.7 2744.9 405.8 2742.4 416.3 C2739.9 426.8 2736.6 436.9 2733.3 446.4 C2730 455.9 2726.6 464.5 2722.8 473.5 C2719.1 482.5 2712.8 496.1 2710.8 500.6" fill="none" stroke="#0f40e0" stroke-width="5.8" stroke-linecap="round" stroke-linejoin="round" transform="translate(-0.8 -0.8)"/>
<path d="M2748.4 383.2 C2747.4 388.7 2744.9 405.8 2742.4 416.3 C2739.9 426.8 2736.6 436.9 2733.3 446.4 C2730 455.9 2726.6 464.5 2722.8 473.5 C2719.1 482.5 2712.8 496.1 2710.8 500.6" fill="none" stroke="#2753e3" stroke-width="4" stroke-linecap="round" stroke-linejoin="round" transform="translate(-1.1 -1.1)"/>
<path d="M2748.4 383.2 C2747.4 388.7 2744.9 405.8 2742.4 416.3 C2739.9 426.8 2736.6 436.9 2733.3 446.4 C2730 455.9 2726.6 464.5 2722.8 473.5 C2719.1 482.5 2712.8 496.1 2710.8 500.6" fill="none" stroke="#446ae7" stroke-width="2" stroke-linecap="round" stroke-linejoin="round" transform="translate(-1.3 -1.3)"/>
<path d="M2749.9 377.2 C2748.4 382.7 2744.4 399.8 2740.9 410.3 C2737.4 420.8 2732.8 430.9 2728.8 440.4 C2724.8 449.9 2720.8 458.5 2716.8 467.5 C2712.8 476.5 2707.7 488.3 2704.7 494.6 C2701.7 500.9 2699.7 503.4 2698.7 505.2" fill="none" stroke="#0c3279" stroke-width="10" stroke-linecap="round" stroke-linejoin="round" transform="translate(-0 -0)"/>
<path d="M2749.9 377.2 C2748.4 382.7 2744.4 399.8 2740.9 410.3 C2737.4 420.8 2732.8 430.9 2728.8 440.4 C2724.8 449.9 2720.8 458.5 2716.8 467.5 C2712.8 476.5 2707.7 488.3 2704.7 494.6 C2701.7 500.9 2699.7 503.4 2698.7 505.2" fill="none" stroke="#1044a2" stroke-width="8.8" stroke-linecap="round" stroke-linejoin="round" transform="translate(-0.2 -0.2)"/>
<path d="M2749.9 377.2 C2748.4 382.7 2744.4 399.8 2740.9 410.3 C2737.4 420.8 2732.8 430.9 2728.8 440.4 C2724.8 449.9 2720.8 458.5 2716.8 467.5 C2712.8 476.5 2707.7 488.3 2704.7 494.6 C2701.7 500.9 2699.7 503.4 2698.7 505.2" fill="none" stroke="#1453c8" stroke-width="7.4" stroke-linecap="round" stroke-linejoin="round" transform="translate(-0.5 -0.5)"/>
<path d="M2749.9 377.2 C2748.4 382.7 2744.4 399.8 2740.9 410.3 C2737.4 420.8 2732.8 430.9 2728.8 440.4 C2724.8 449.9 2720.8 458.5 2716.8 467.5 C2712.8 476.5 2707.7 488.3 2704.7 494.6 C2701.7 500.9 2699.7 503.4 2698.7 505.2" fill="none" stroke="#1761e8" stroke-width="5.8" stroke-linecap="round" stroke-linejoin="round" transform="translate(-0.8 -0.8)"/>
<path d="M2749.9 377.2 C2748.4 382.7 2744.4 399.8 2740.9 410.3 C2737.4 420.8 2732.8 430.9 2728.8 440.4 C2724.8 449.9 2720.8 458.5 2716.8 467.5 C2712.8 476.5 2707.7 488.3 2704.7 494.6 C2701.7 500.9 2699.7 503.4 2698.7 505.2" fill="none" stroke="#2e71ea" stroke-width="4" stroke-linecap="round" stroke-linejoin="round" transform="translate(-1.1 -1.1)"/>
<path d="M2749.9 377.2 C2748.4 382.7 2744.4 399.8 2740.9 410.3 C2737.4 420.8 2732.8 430.9 2728.8 440.4 C2724.8 449.9 2720.8 458.5 2716.8 467.5 C2712.8 476.5 2707.7 488.3 2704.7 494.6 C2701.7 500.9 2699.7 503.4 2698.7 505.2" fill="none" stroke="#4a84ed" stroke-width="2" stroke-linecap="round" stroke-linejoin="round" transform="translate(-1.3 -1.3)"/>
<path d="M2749.9 371.2 C2747.9 376.7 2742.3 393.8 2737.8 404.3 C2733.3 414.8 2727.8 424.4 2722.8 434.4 C2717.8 444.4 2712.2 455 2707.7 464.5 C2703.2 474 2698.9 484.1 2695.7 491.6 C2692.4 499.1 2689.4 506.7 2688.2 509.7" fill="none" stroke="#10427d" stroke-width="10" stroke-linecap="round" stroke-linejoin="round" transform="translate(-0 -0)"/>
<path d="M2749.9 371.2 C2747.9 376.7 2742.3 393.8 2737.8 404.3 C2733.3 414.8 2727.8 424.4 2722.8 434.4 C2717.8 444.4 2712.2 455 2707.7 464.5 C2703.2 474 2698.9 484.1 2695.7 491.6 C2692.4 499.1 2689.4 506.7 2688.2 509.7" fill="none" stroke="#1559a8" stroke-width="8.8" stroke-linecap="round" stroke-linejoin="round" transform="translate(-0.2 -0.2)"/>
<path d="M2749.9 371.2 C2747.9 376.7 2742.3 393.8 2737.8 404.3 C2733.3 414.8 2727.8 424.4 2722.8 434.4 C2717.8 444.4 2712.2 455 2707.7 464.5 C2703.2 474 2698.9 484.1 2695.7 491.6 C2692.4 499.1 2689.4 506.7 2688.2 509.7" fill="none" stroke="#1a6ece" stroke-width="7.4" stroke-linecap="round" stroke-linejoin="round" transform="translate(-0.5 -0.5)"/>
<path d="M2749.9 371.2 C2747.9 376.7 2742.3 393.8 2737.8 404.3 C2733.3 414.8 2727.8 424.4 2722.8 434.4 C2717.8 444.4 2712.2 455 2707.7 464.5 C2703.2 474 2698.9 484.1 2695.7 491.6 C2692.4 499.1 2689.4 506.7 2688.2 509.7" fill="none" stroke="#1f80f0" stroke-width="5.8" stroke-linecap="round" stroke-linejoin="round" transform="translate(-0.8 -0.8)"/>
<path d="M2749.9 371.2 C2747.9 376.7 2742.3 393.8 2737.8 404.3 C2733.3 414.8 2727.8 424.4 2722.8 434.4 C2717.8 444.4 2712.2 455 2707.7 464.5 C2703.2 474 2698.9 484.1 2695.7 491.6 C2692.4 499.1 2689.4 506.7 2688.2 509.7" fill="none" stroke="#358cf1" stroke-width="4" stroke-linecap="round" stroke-linejoin="round" transform="translate(-1.1 -1.1)"/>
<path d="M2749.9 371.2 C2747.9 376.7 2742.3 393.8 2737.8 404.3 C2733.3 414.8 2727.8 424.4 2722.8 434.4 C2717.8 444.4 2712.2 455 2707.7 464.5 C2703.2 474 2698.9 484.1 2695.7 491.6 C2692.4 499.1 2689.4 506.7 2688.2 509.7" fill="none" stroke="#509cf3" stroke-width="2" stroke-linecap="round" stroke-linejoin="round" transform="translate(-1.3 -1.3)"/>
<path d="M2751.4 365.2 C2748.6 370.2 2740.6 385.3 2734.8 395.3 C2729 405.3 2722.8 415.4 2716.8 425.4 C2710.8 435.4 2704.2 445.5 2698.7 455.5 C2693.2 465.5 2688 475.6 2683.7 485.6 C2679.4 495.6 2674.9 510.7 2673.1 515.7" fill="none" stroke="#10587d" stroke-width="10" stroke-linecap="round" stroke-linejoin="round" transform="translate(-0 -0)"/>
<path d="M2751.4 365.2 C2748.6 370.2 2740.6 385.3 2734.8 395.3 C2729 405.3 2722.8 415.4 2716.8 425.4 C2710.8 435.4 2704.2 445.5 2698.7 455.5 C2693.2 465.5 2688 475.6 2683.7 485.6 C2679.4 495.6 2674.9 510.7 2673.1 515.7" fill="none" stroke="#1576a8" stroke-width="8.8" stroke-linecap="round" stroke-linejoin="round" transform="translate(-0.2 -0.2)"/>
<path d="M2751.4 365.2 C2748.6 370.2 2740.6 385.3 2734.8 395.3 C2729 405.3 2722.8 415.4 2716.8 425.4 C2710.8 435.4 2704.2 445.5 2698.7 455.5 C2693.2 465.5 2688 475.6 2683.7 485.6 C2679.4 495.6 2674.9 510.7 2673.1 515.7" fill="none" stroke="#1a91ce" stroke-width="7.4" stroke-linecap="round" stroke-linejoin="round" transform="translate(-0.5 -0.5)"/>
<path d="M2751.4 365.2 C2748.6 370.2 2740.6 385.3 2734.8 395.3 C2729 405.3 2722.8 415.4 2716.8 425.4 C2710.8 435.4 2704.2 445.5 2698.7 455.5 C2693.2 465.5 2688 475.6 2683.7 485.6 C2679.4 495.6 2674.9 510.7 2673.1 515.7" fill="none" stroke="#1fa8f0" stroke-width="5.8" stroke-linecap="round" stroke-linejoin="round" transform="translate(-0.8 -0.8)"/>
<path d="M2751.4 365.2 C2748.6 370.2 2740.6 385.3 2734.8 395.3 C2729 405.3 2722.8 415.4 2716.8 425.4 C2710.8 435.4 2704.2 445.5 2698.7 455.5 C2693.2 465.5 2688 475.6 2683.7 485.6 C2679.4 495.6 2674.9 510.7 2673.1 515.7" fill="none" stroke="#35b1f1" stroke-width="4" stroke-linecap="round" stroke-linejoin="round" transform="translate(-1.1 -1.1)"/>
<path d="M2751.4 365.2 C2748.6 370.2 2740.6 385.3 2734.8 395.3 C2729 405.3 2722.8 415.4 2716.8 425.4 C2710.8 435.4 2704.2 445.5 2698.7 455.5 C2693.2 465.5 2688 475.6 2683.7 485.6 C2679.4 495.6 2674.9 510.7 2673.1 515.7" fill="none" stroke="#50bbf3" stroke-width="2" stroke-linecap="round" stroke-linejoin="round" transform="translate(-1.3 -1.3)"/>
<path d="M2751.4 359.1 C2747.6 363.6 2736.1 376.7 2728.8 386.2 C2721.5 395.7 2714.7 405.8 2707.7 416.3 C2700.7 426.9 2693.2 438.4 2686.7 449.5 C2680.2 460.6 2673.6 472.1 2668.6 482.6 C2663.6 493.1 2659.4 505.4 2656.6 512.7 C2653.8 520 2652.8 524 2652 526.2" fill="none" stroke="#106d79" stroke-width="10" stroke-linecap="round" stroke-linejoin="round" transform="translate(-0 -0)"/>
<path d="M2751.4 359.1 C2747.6 363.6 2736.1 376.7 2728.8 386.2 C2721.5 395.7 2714.7 405.8 2707.7 416.3 C2700.7 426.9 2693.2 438.4 2686.7 449.5 C2680.2 460.6 2673.6 472.1 2668.6 482.6 C2663.6 493.1 2659.4 505.4 2656.6 512.7 C2653.8 520 2652.8 524 2652 526.2" fill="none" stroke="#1592a2" stroke-width="8.8" stroke-linecap="round" stroke-linejoin="round" transform="translate(-0.2 -0.2)"/>
<path d="M2751.4 359.1 C2747.6 363.6 2736.1 376.7 2728.8 386.2 C2721.5 395.7 2714.7 405.8 2707.7 416.3 C2700.7 426.9 2693.2 438.4 2686.7 449.5 C2680.2 460.6 2673.6 472.1 2668.6 482.6 C2663.6 493.1 2659.4 505.4 2656.6 512.7 C2653.8 520 2652.8 524 2652 526.2" fill="none" stroke="#1ab4c8" stroke-width="7.4" stroke-linecap="round" stroke-linejoin="round" transform="translate(-0.5 -0.5)"/>
<path d="M2751.4 359.1 C2747.6 363.6 2736.1 376.7 2728.8 386.2 C2721.5 395.7 2714.7 405.8 2707.7 416.3 C2700.7 426.9 2693.2 438.4 2686.7 449.5 C2680.2 460.6 2673.6 472.1 2668.6 482.6 C2663.6 493.1 2659.4 505.4 2656.6 512.7 C2653.8 520 2652.8 524 2652 526.2" fill="none" stroke="#1fd1e8" stroke-width="5.8" stroke-linecap="round" stroke-linejoin="round" transform="translate(-0.8 -0.8)"/>
<path d="M2751.4 359.1 C2747.6 363.6 2736.1 376.7 2728.8 386.2 C2721.5 395.7 2714.7 405.8 2707.7 416.3 C2700.7 426.9 2693.2 438.4 2686.7 449.5 C2680.2 460.6 2673.6 472.1 2668.6 482.6 C2663.6 493.1 2659.4 505.4 2656.6 512.7 C2653.8 520 2652.8 524 2652 526.2" fill="none" stroke="#35d6ea" stroke-width="4" stroke-linecap="round" stroke-linejoin="round" transform="translate(-1.1 -1.1)"/>
<path d="M2751.4 359.1 C2747.6 363.6 2736.1 376.7 2728.8 386.2 C2721.5 395.7 2714.7 405.8 2707.7 416.3 C2700.7 426.9 2693.2 438.4 2686.7 449.5 C2680.2 460.6 2673.6 472.1 2668.6 482.6 C2663.6 493.1 2659.4 505.4 2656.6 512.7 C2653.8 520 2652.8 524 2652 526.2" fill="none" stroke="#50dbed" stroke-width="2" stroke-linecap="round" stroke-linejoin="round" transform="translate(-1.3 -1.3)"/>
<path d="M2582.8 500.6 L2650.5 524.7" fill="none" stroke="#1b7777" stroke-width="8" stroke-linecap="round" stroke-linejoin="round" transform="translate(-0 -0)"/>
<path d="M2582.8 500.6 L2650.5 524.7" fill="none" stroke="#24a1a1" stroke-width="7" stroke-linecap="round" stroke-linejoin="round" transform="translate(-0.2 -0.2)"/>
<path d="M2582.8 500.6 L2650.5 524.7" fill="none" stroke="#2cc5c5" stroke-width="5.9" stroke-linecap="round" stroke-linejoin="round" transform="translate(-0.4 -0.4)"/>
<path d="M2582.8 500.6 L2650.5 524.7" fill="none" stroke="#33e6e6" stroke-width="4.6" stroke-linecap="round" stroke-linejoin="round" transform="translate(-0.6 -0.6)"/>
<path d="M2582.8 500.6 L2650.5 524.7" fill="none" stroke="#47e8e8" stroke-width="3.2" stroke-linecap="round" stroke-linejoin="round" transform="translate(-0.9 -0.9)"/>
<path d="M2582.8 500.6 L2650.5 524.7" fill="none" stroke="#60ebeb" stroke-width="1.6" stroke-linecap="round" stroke-linejoin="round" transform="translate(-1 -1)"/>
<path d="M2752.9 350.1 C2747.9 354.1 2732.8 365.7 2722.8 374.2 C2712.8 382.7 2701.7 391.8 2692.7 401.3 C2683.7 410.8 2676.1 420.9 2668.6 431.4 C2661.1 441.9 2653.5 453 2647.5 464.5 C2641.5 476 2636.5 488.1 2632.5 500.6 C2628.5 513.1 2624.9 533.3 2623.4 539.8" fill="none" stroke="#217563" stroke-width="10" stroke-linecap="round" stroke-linejoin="round" transform="translate(-0 -0)"/>
<path d="M2752.9 350.1 C2747.9 354.1 2732.8 365.7 2722.8 374.2 C2712.8 382.7 2701.7 391.8 2692.7 401.3 C2683.7 410.8 2676.1 420.9 2668.6 431.4 C2661.1 441.9 2653.5 453 2647.5 464.5 C2641.5 476 2636.5 488.1 2632.5 500.6 C2628.5 513.1 2624.9 533.3 2623.4 539.8" fill="none" stroke="#2d9d86" stroke-width="8.8" stroke-linecap="round" stroke-linejoin="round" transform="translate(-0.2 -0.2)"/>
<path d="M2752.9 350.1 C2747.9 354.1 2732.8 365.7 2722.8 374.2 C2712.8 382.7 2701.7 391.8 2692.7 401.3 C2683.7 410.8 2676.1 420.9 2668.6 431.4 C2661.1 441.9 2653.5 453 2647.5 464.5 C2641.5 476 2636.5 488.1 2632.5 500.6 C2628.5 513.1 2624.9 533.3 2623.4 539.8" fill="none" stroke="#37c1a4" stroke-width="7.4" stroke-linecap="round" stroke-linejoin="round" transform="translate(-0.5 -0.5)"/>
<path d="M2752.9 350.1 C2747.9 354.1 2732.8 365.7 2722.8 374.2 C2712.8 382.7 2701.7 391.8 2692.7 401.3 C2683.7 410.8 2676.1 420.9 2668.6 431.4 C2661.1 441.9 2653.5 453 2647.5 464.5 C2641.5 476 2636.5 488.1 2632.5 500.6 C2628.5 513.1 2624.9 533.3 2623.4 539.8" fill="none" stroke="#40e0bf" stroke-width="5.8" stroke-linecap="round" stroke-linejoin="round" transform="translate(-0.8 -0.8)"/>
<path d="M2752.9 350.1 C2747.9 354.1 2732.8 365.7 2722.8 374.2 C2712.8 382.7 2701.7 391.8 2692.7 401.3 C2683.7 410.8 2676.1 420.9 2668.6 431.4 C2661.1 441.9 2653.5 453 2647.5 464.5 C2641.5 476 2636.5 488.1 2632.5 500.6 C2628.5 513.1 2624.9 533.3 2623.4 539.8" fill="none" stroke="#53e3c6" stroke-width="4" stroke-linecap="round" stroke-linejoin="round" transform="translate(-1.1 -1.1)"/>
<path d="M2752.9 350.1 C2747.9 354.1 2732.8 365.7 2722.8 374.2 C2712.8 382.7 2701.7 391.8 2692.7 401.3 C2683.7 410.8 2676.1 420.9 2668.6 431.4 C2661.1 441.9 2653.5 453 2647.5 464.5 C2641.5 476 2636.5 488.1 2632.5 500.6 C2628.5 513.1 2624.9 533.3 2623.4 539.8" fill="none" stroke="#6ae7cd" stroke-width="2" stroke-linecap="round" stroke-linejoin="round" transform="translate(-1.3 -1.3)"/>
<path d="M2555.7 509.7 L2618.9 535.3" fill="none" stroke="#357a52" stroke-width="8" stroke-linecap="round" stroke-linejoin="round" transform="translate(-0 -0)"/>
<path d="M2555.7 509.7 L2618.9 535.3" fill="none" stroke="#47a46f" stroke-width="7" stroke-linecap="round" stroke-linejoin="round" transform="translate(-0.2 -0.2)"/>
<path d="M2555.7 509.7 L2618.9 535.3" fill="none" stroke="#58ca88" stroke-width="5.9" stroke-linecap="round" stroke-linejoin="round" transform="translate(-0.4 -0.4)"/>
<path d="M2555.7 509.7 L2618.9 535.3" fill="none" stroke="#66eb9e" stroke-width="4.6" stroke-linecap="round" stroke-linejoin="round" transform="translate(-0.6 -0.6)"/>
<path d="M2555.7 509.7 L2618.9 535.3" fill="none" stroke="#75eda8" stroke-width="3.2" stroke-linecap="round" stroke-linejoin="round" transform="translate(-0.9 -0.9)"/>
<path d="M2555.7 509.7 L2618.9 535.3" fill="none" stroke="#88efb3" stroke-width="1.6" stroke-linecap="round" stroke-linejoin="round" transform="translate(-1 -1)"/>
<path d="M2500 557.8 L2545 572.9" fill="none" stroke="#357a52" stroke-width="8" stroke-linecap="round" stroke-linejoin="round" transform="translate(-0 -0)"/>
<path d="M2500 557.8 L2545 572.9" fill="none" stroke="#47a46f" stroke-width="7" stroke-linecap="round" stroke-linejoin="round" transform="translate(-0.2 -0.2)"/>
<path d="M2500 557.8 L2545 572.9" fill="none" stroke="#58ca88" stroke-width="5.9" stroke-linecap="round" stroke-linejoin="round" transform="translate(-0.4 -0.4)"/>
<path d="M2500 557.8 L2545 572.9" fill="none" stroke="#66eb9e" stroke-width="4.6" stroke-linecap="round" stroke-linejoin="round" transform="translate(-0.6 -0.6)"/>
<path d="M2500 557.8 L2545 572.9" fill="none" stroke="#75eda8" stroke-width="3.2" stroke-linecap="round" stroke-linejoin="round" transform="translate(-0.9 -0.9)"/>
<path d="M2500 557.8 L2545 572.9" fill="none" stroke="#88efb3" stroke-width="1.6" stroke-linecap="round" stroke-linejoin="round" transform="translate(-1 -1)"/>
<path d="M2752.9 341.1 C2745.9 345.1 2724.9 356.7 2710.8 365.2 C2696.8 373.7 2681.7 383.3 2668.6 392.3 C2655.5 401.3 2643.5 408.9 2632.5 419.4 C2621.5 429.9 2611.4 443 2602.4 455.5 C2593.4 468 2585.3 481.1 2578.3 494.6 C2571.3 508.2 2565.2 523.8 2560.2 536.8 C2555.2 549.8 2550.2 566.9 2548.2 572.9" fill="none" stroke="#327954" stroke-width="10.5" stroke-linecap="round" stroke-linejoin="round" transform="translate(-0 -0)"/>
<path d="M2752.9 341.1 C2745.9 345.1 2724.9 356.7 2710.8 365.2 C2696.8 373.7 2681.7 383.3 2668.6 392.3 C2655.5 401.3 2643.5 408.9 2632.5 419.4 C2621.5 429.9 2611.4 443 2602.4 455.5 C2593.4 468 2585.3 481.1 2578.3 494.6 C2571.3 508.2 2565.2 523.8 2560.2 536.8 C2555.2 549.8 2550.2 566.9 2548.2 572.9" fill="none" stroke="#44a270" stroke-width="9.2" stroke-linecap="round" stroke-linejoin="round" transform="translate(-0.2 -0.2)"/>
<path d="M2752.9 341.1 C2745.9 345.1 2724.9 356.7 2710.8 365.2 C2696.8 373.7 2681.7 383.3 2668.6 392.3 C2655.5 401.3 2643.5 408.9 2632.5 419.4 C2621.5 429.9 2611.4 443 2602.4 455.5 C2593.4 468 2585.3 481.1 2578.3 494.6 C2571.3 508.2 2565.2 523.8 2560.2 536.8 C2555.2 549.8 2550.2 566.9 2548.2 572.9" fill="none" stroke="#53c88a" stroke-width="7.8" stroke-linecap="round" stroke-linejoin="round" transform="translate(-0.5 -0.5)"/>
<path d="M2752.9 341.1 C2745.9 345.1 2724.9 356.7 2710.8 365.2 C2696.8 373.7 2681.7 383.3 2668.6 392.3 C2655.5 401.3 2643.5 408.9 2632.5 419.4 C2621.5 429.9 2611.4 443 2602.4 455.5 C2593.4 468 2585.3 481.1 2578.3 494.6 C2571.3 508.2 2565.2 523.8 2560.2 536.8 C2555.2 549.8 2550.2 566.9 2548.2 572.9" fill="none" stroke="#61e8a1" stroke-width="6.1" stroke-linecap="round" stroke-linejoin="round" transform="translate(-0.8 -0.8)"/>
<path d="M2752.9 341.1 C2745.9 345.1 2724.9 356.7 2710.8 365.2 C2696.8 373.7 2681.7 383.3 2668.6 392.3 C2655.5 401.3 2643.5 408.9 2632.5 419.4 C2621.5 429.9 2611.4 443 2602.4 455.5 C2593.4 468 2585.3 481.1 2578.3 494.6 C2571.3 508.2 2565.2 523.8 2560.2 536.8 C2555.2 549.8 2550.2 566.9 2548.2 572.9" fill="none" stroke="#71eaaa" stroke-width="4.2" stroke-linecap="round" stroke-linejoin="round" transform="translate(-1.2 -1.2)"/>
<path d="M2752.9 341.1 C2745.9 345.1 2724.9 356.7 2710.8 365.2 C2696.8 373.7 2681.7 383.3 2668.6 392.3 C2655.5 401.3 2643.5 408.9 2632.5 419.4 C2621.5 429.9 2611.4 443 2602.4 455.5 C2593.4 468 2585.3 481.1 2578.3 494.6 C2571.3 508.2 2565.2 523.8 2560.2 536.8 C2555.2 549.8 2550.2 566.9 2548.2 572.9" fill="none" stroke="#84edb5" stroke-width="2.1" stroke-linecap="round" stroke-linejoin="round" transform="translate(-1.4 -1.4)"/>
<path d="M2682.1 319.8 L2749.6 342.6" fill="none" stroke="#3a7954" stroke-width="8" stroke-linecap="round" stroke-linejoin="round" transform="translate(-0 -0)"/>
<path d="M2682.1 319.8 L2749.6 342.6" fill="none" stroke="#4fa270" stroke-width="7" stroke-linecap="round" stroke-linejoin="round" transform="translate(-0.2 -0.2)"/>
<path d="M2682.1 319.8 L2749.6 342.6" fill="none" stroke="#60c88a" stroke-width="5.9" stroke-linecap="round" stroke-linejoin="round" transform="translate(-0.4 -0.4)"/>
<path d="M2682.1 319.8 L2749.6 342.6" fill="none" stroke="#70e8a1" stroke-width="4.6" stroke-linecap="round" stroke-linejoin="round" transform="translate(-0.6 -0.6)"/>
<path d="M2682.1 319.8 L2749.6 342.6" fill="none" stroke="#7eeaaa" stroke-width="3.2" stroke-linecap="round" stroke-linejoin="round" transform="translate(-0.9 -0.9)"/>
<path d="M2682.1 319.8 L2749.6 342.6" fill="none" stroke="#90edb5" stroke-width="1.6" stroke-linecap="round" stroke-linejoin="round" transform="translate(-1 -1)"/>
<g clip-path="url(#cpb)">
<polygon points="1755.8,857.9 1904.6,914.9 1918.1,821.1 1768.5,764.6" fill="url(#inb)" />
<path d="M1765.3 856.5 L1777.4 768" fill="none" stroke="#6a0703" stroke-width="7" stroke-linecap="butt" stroke-linejoin="round" transform="translate(-0 -0)"/>
<path d="M1765.3 856.5 L1777.4 768" fill="none" stroke="#8f0904" stroke-width="6.2" stroke-linecap="butt" stroke-linejoin="round" transform="translate(-0.1 -0.1)"/>
<path d="M1765.3 856.5 L1777.4 768" fill="none" stroke="#af0b04" stroke-width="5.2" stroke-linecap="butt" stroke-linejoin="round" transform="translate(-0.3 -0.3)"/>
<path d="M1765.3 856.5 L1777.4 768" fill="none" stroke="#cc0d05" stroke-width="4.1" stroke-linecap="butt" stroke-linejoin="round" transform="translate(-0.5 -0.5)"/>
<path d="M1765.3 856.5 L1777.4 768" fill="none" stroke="#d1251e" stroke-width="2.8" stroke-linecap="butt" stroke-linejoin="round" transform="translate(-0.8 -0.8)"/>
<path d="M1765.3 856.5 L1777.4 768" fill="none" stroke="#d7423c" stroke-width="1.4" stroke-linecap="butt" stroke-linejoin="round" transform="translate(-0.9 -0.9)"/>
<path d="M1773.8 851.3 L1784.8 770.8" fill="none" stroke="#851400" stroke-width="6.5" stroke-linecap="butt" stroke-linejoin="round" transform="translate(-0 -0)"/>
<path d="M1773.8 851.3 L1784.8 770.8" fill="none" stroke="#b21b00" stroke-width="5.7" stroke-linecap="butt" stroke-linejoin="round" transform="translate(-0.1 -0.1)"/>
<path d="M1773.8 851.3 L1784.8 770.8" fill="none" stroke="#db2100" stroke-width="4.8" stroke-linecap="butt" stroke-linejoin="round" transform="translate(-0.3 -0.3)"/>
<path d="M1773.8 851.3 L1784.8 770.8" fill="none" stroke="#ff2600" stroke-width="3.8" stroke-linecap="butt" stroke-linejoin="round" transform="translate(-0.5 -0.5)"/>
<path d="M1773.8 851.3 L1784.8 770.8" fill="none" stroke="#ff3c1a" stroke-width="2.6" stroke-linecap="butt" stroke-linejoin="round" transform="translate(-0.7 -0.7)"/>
<path d="M1773.8 851.3 L1784.8 770.8" fill="none" stroke="#ff5638" stroke-width="1.3" stroke-linecap="butt" stroke-linejoin="round" transform="translate(-0.8 -0.8)"/>
<path d="M1781.6 845.8 L1791.5 773.3" fill="none" stroke="#853500" stroke-width="6" stroke-linecap="butt" stroke-linejoin="round" transform="translate(-0 -0)"/>
<path d="M1781.6 845.8 L1791.5 773.3" fill="none" stroke="#b24700" stroke-width="5.3" stroke-linecap="butt" stroke-linejoin="round" transform="translate(-0.1 -0.1)"/>
<path d="M1781.6 845.8 L1791.5 773.3" fill="none" stroke="#db5800" stroke-width="4.4" stroke-linecap="butt" stroke-linejoin="round" transform="translate(-0.3 -0.3)"/>
<path d="M1781.6 845.8 L1791.5 773.3" fill="none" stroke="#ff6600" stroke-width="3.5" stroke-linecap="butt" stroke-linejoin="round" transform="translate(-0.5 -0.5)"/>
<path d="M1781.6 845.8 L1791.5 773.3" fill="none" stroke="#ff751a" stroke-width="2.4" stroke-linecap="butt" stroke-linejoin="round" transform="translate(-0.7 -0.7)"/>
<path d="M1781.6 845.8 L1791.5 773.3" fill="none" stroke="#ff8838" stroke-width="1.2" stroke-linecap="butt" stroke-linejoin="round" transform="translate(-0.8 -0.8)"/>
<path d="M1788.6 840.1 L1797.5 775.5" fill="none" stroke="#855200" stroke-width="5.5" stroke-linecap="butt" stroke-linejoin="round" transform="translate(-0 -0)"/>
<path d="M1788.6 840.1 L1797.5 775.5" fill="none" stroke="#b26f00" stroke-width="4.8" stroke-linecap="butt" stroke-linejoin="round" transform="translate(-0.1 -0.1)"/>
<path d="M1788.6 840.1 L1797.5 775.5" fill="none" stroke="#db8800" stroke-width="4.1" stroke-linecap="butt" stroke-linejoin="round" transform="translate(-0.3 -0.3)"/>
<path d="M1788.6 840.1 L1797.5 775.5" fill="none" stroke="#ff9e00" stroke-width="3.2" stroke-linecap="butt" stroke-linejoin="round" transform="translate(-0.4 -0.4)"/>
<path d="M1788.6 840.1 L1797.5 775.5" fill="none" stroke="#ffa81a" stroke-width="2.2" stroke-linecap="butt" stroke-linejoin="round" transform="translate(-0.6 -0.6)"/>
<path d="M1788.6 840.1 L1797.5 775.5" fill="none" stroke="#ffb338" stroke-width="1.1" stroke-linecap="butt" stroke-linejoin="round" transform="translate(-0.7 -0.7)"/>
<path d="M1794.9 834 L1802.7 777.5" fill="none" stroke="#857107" stroke-width="5" stroke-linecap="butt" stroke-linejoin="round" transform="translate(-0 -0)"/>
<path d="M1794.9 834 L1802.7 777.5" fill="none" stroke="#b29809" stroke-width="4.4" stroke-linecap="butt" stroke-linejoin="round" transform="translate(-0.1 -0.1)"/>
<path d="M1794.9 834 L1802.7 777.5" fill="none" stroke="#dbba0b" stroke-width="3.7" stroke-linecap="butt" stroke-linejoin="round" transform="translate(-0.2 -0.2)"/>
<path d="M1794.9 834 L1802.7 777.5" fill="none" stroke="#ffd90d" stroke-width="2.9" stroke-linecap="butt" stroke-linejoin="round" transform="translate(-0.4 -0.4)"/>
<path d="M1794.9 834 L1802.7 777.5" fill="none" stroke="#ffdd25" stroke-width="2" stroke-linecap="butt" stroke-linejoin="round" transform="translate(-0.6 -0.6)"/>
<path d="M1794.9 834 L1802.7 777.5" fill="none" stroke="#ffe142" stroke-width="1" stroke-linecap="butt" stroke-linejoin="round" transform="translate(-0.7 -0.7)"/>
<path d="M1800.5 827.7 L1807.1 779.2" fill="none" stroke="#7e7e0d" stroke-width="4.5" stroke-linecap="butt" stroke-linejoin="round" transform="translate(-0 -0)"/>
<path d="M1800.5 827.7 L1807.1 779.2" fill="none" stroke="#aaaa12" stroke-width="4" stroke-linecap="butt" stroke-linejoin="round" transform="translate(-0.1 -0.1)"/>
<path d="M1800.5 827.7 L1807.1 779.2" fill="none" stroke="#d0d016" stroke-width="3.3" stroke-linecap="butt" stroke-linejoin="round" transform="translate(-0.2 -0.2)"/>
<path d="M1800.5 827.7 L1807.1 779.2" fill="none" stroke="#f2f21a" stroke-width="2.6" stroke-linecap="butt" stroke-linejoin="round" transform="translate(-0.4 -0.4)"/>
<path d="M1800.5 827.7 L1807.1 779.2" fill="none" stroke="#f4f430" stroke-width="1.8" stroke-linecap="butt" stroke-linejoin="round" transform="translate(-0.5 -0.5)"/>
<path d="M1800.5 827.7 L1807.1 779.2" fill="none" stroke="#f5f54c" stroke-width="0.9" stroke-linecap="butt" stroke-linejoin="round" transform="translate(-0.6 -0.6)"/>
<path d="M1765.9 852.5 L1901.4 904.4" fill="none" stroke="#710703" stroke-width="6" stroke-linecap="butt" stroke-linejoin="round" transform="translate(-0 -0)"/>
<path d="M1765.9 852.5 L1901.4 904.4" fill="none" stroke="#980904" stroke-width="5.3" stroke-linecap="butt" stroke-linejoin="round" transform="translate(-0.1 -0.1)"/>
<path d="M1765.9 852.5 L1901.4 904.4" fill="none" stroke="#ba0b04" stroke-width="4.4" stroke-linecap="butt" stroke-linejoin="round" transform="translate(-0.3 -0.3)"/>
<path d="M1765.9 852.5 L1901.4 904.4" fill="none" stroke="#d90d05" stroke-width="3.5" stroke-linecap="butt" stroke-linejoin="round" transform="translate(-0.5 -0.5)"/>
<path d="M1765.9 852.5 L1901.4 904.4" fill="none" stroke="#dd251e" stroke-width="2.4" stroke-linecap="butt" stroke-linejoin="round" transform="translate(-0.7 -0.7)"/>
<path d="M1765.9 852.5 L1901.4 904.4" fill="none" stroke="#e1423c" stroke-width="1.2" stroke-linecap="butt" stroke-linejoin="round" transform="translate(-0.8 -0.8)"/>
<path d="M1773.4 848.6 L1902.3 897.9" fill="none" stroke="#851000" stroke-width="5.6" stroke-linecap="butt" stroke-linejoin="round" transform="translate(-0 -0)"/>
<path d="M1773.4 848.6 L1902.3 897.9" fill="none" stroke="#b21500" stroke-width="4.9" stroke-linecap="butt" stroke-linejoin="round" transform="translate(-0.1 -0.1)"/>
<path d="M1773.4 848.6 L1902.3 897.9" fill="none" stroke="#db1a00" stroke-width="4.1" stroke-linecap="butt" stroke-linejoin="round" transform="translate(-0.3 -0.3)"/>
<path d="M1773.4 848.6 L1902.3 897.9" fill="none" stroke="#ff1f00" stroke-width="3.2" stroke-linecap="butt" stroke-linejoin="round" transform="translate(-0.4 -0.4)"/>
<path d="M1773.4 848.6 L1902.3 897.9" fill="none" stroke="#ff351a" stroke-width="2.2" stroke-linecap="butt" stroke-linejoin="round" transform="translate(-0.6 -0.6)"/>
<path d="M1773.4 848.6 L1902.3 897.9" fill="none" stroke="#ff5038" stroke-width="1.1" stroke-linecap="butt" stroke-linejoin="round" transform="translate(-0.7 -0.7)"/>
<path d="M1780.8 845.6 L1903.1 892.3" fill="none" stroke="#852500" stroke-width="5.2" stroke-linecap="butt" stroke-linejoin="round" transform="translate(-0 -0)"/>
<path d="M1780.8 845.6 L1903.1 892.3" fill="none" stroke="#b23200" stroke-width="4.6" stroke-linecap="butt" stroke-linejoin="round" transform="translate(-0.1 -0.1)"/>
<path d="M1780.8 845.6 L1903.1 892.3" fill="none" stroke="#db3d00" stroke-width="3.8" stroke-linecap="butt" stroke-linejoin="round" transform="translate(-0.2 -0.2)"/>
<path d="M1780.8 845.6 L1903.1 892.3" fill="none" stroke="#ff4700" stroke-width="3" stroke-linecap="butt" stroke-linejoin="round" transform="translate(-0.4 -0.4)"/>
<path d="M1780.8 845.6 L1903.1 892.3" fill="none" stroke="#ff5a1a" stroke-width="2.1" stroke-linecap="butt" stroke-linejoin="round" transform="translate(-0.6 -0.6)"/>
<path d="M1780.8 845.6 L1903.1 892.3" fill="none" stroke="#ff7038" stroke-width="1" stroke-linecap="butt" stroke-linejoin="round" transform="translate(-0.7 -0.7)"/>
<path d="M1788.2 843.3 L1903.8 887.4" fill="none" stroke="#853c00" stroke-width="4.8" stroke-linecap="butt" stroke-linejoin="round" transform="translate(-0 -0)"/>
<path d="M1788.2 843.3 L1903.8 887.4" fill="none" stroke="#b25000" stroke-width="4.2" stroke-linecap="butt" stroke-linejoin="round" transform="translate(-0.1 -0.1)"/>
<path d="M1788.2 843.3 L1903.8 887.4" fill="none" stroke="#db6300" stroke-width="3.6" stroke-linecap="butt" stroke-linejoin="round" transform="translate(-0.2 -0.2)"/>
<path d="M1788.2 843.3 L1903.8 887.4" fill="none" stroke="#ff7300" stroke-width="2.8" stroke-linecap="butt" stroke-linejoin="round" transform="translate(-0.4 -0.4)"/>
<path d="M1788.2 843.3 L1903.8 887.4" fill="none" stroke="#ff811a" stroke-width="1.9" stroke-linecap="butt" stroke-linejoin="round" transform="translate(-0.5 -0.5)"/>
<path d="M1788.2 843.3 L1903.8 887.4" fill="none" stroke="#ff9238" stroke-width="1" stroke-linecap="butt" stroke-linejoin="round" transform="translate(-0.6 -0.6)"/>
<path d="M1795.4 841.8 L1904.4 883.4" fill="none" stroke="#855000" stroke-width="4.4" stroke-linecap="butt" stroke-linejoin="round" transform="translate(-0 -0)"/>
<path d="M1795.4 841.8 L1904.4 883.4" fill="none" stroke="#b26b00" stroke-width="3.9" stroke-linecap="butt" stroke-linejoin="round" transform="translate(-0.1 -0.1)"/>
<path d="M1795.4 841.8 L1904.4 883.4" fill="none" stroke="#db8400" stroke-width="3.3" stroke-linecap="butt" stroke-linejoin="round" transform="translate(-0.2 -0.2)"/>
<path d="M1795.4 841.8 L1904.4 883.4" fill="none" stroke="#ff9900" stroke-width="2.6" stroke-linecap="butt" stroke-linejoin="round" transform="translate(-0.3 -0.3)"/>
<path d="M1795.4 841.8 L1904.4 883.4" fill="none" stroke="#ffa31a" stroke-width="1.8" stroke-linecap="butt" stroke-linejoin="round" transform="translate(-0.5 -0.5)"/>
<path d="M1795.4 841.8 L1904.4 883.4" fill="none" stroke="#ffaf38" stroke-width="0.9" stroke-linecap="butt" stroke-linejoin="round" transform="translate(-0.6 -0.6)"/>
<polygon points="1821,882.9 1831.4,886.9 1861.7,861.2 1885.9,824.4 1832,803.9" fill="url(#inb)" />
</g>
<path d="M2044.4 772.3 L2121.2 799.4" fill="none" stroke="#4d8538" stroke-width="10.5" stroke-linecap="round" stroke-linejoin="round" transform="translate(-0 -0)"/>
<path d="M2044.4 772.3 L2121.2 799.4" fill="none" stroke="#68b24b" stroke-width="9.2" stroke-linecap="round" stroke-linejoin="round" transform="translate(-0.2 -0.2)"/>
<path d="M2044.4 772.3 L2121.2 799.4" fill="none" stroke="#7fdb5c" stroke-width="7.8" stroke-linecap="round" stroke-linejoin="round" transform="translate(-0.5 -0.5)"/>
<path d="M2044.4 772.3 L2121.2 799.4" fill="none" stroke="#94ff6b" stroke-width="6.1" stroke-linecap="round" stroke-linejoin="round" transform="translate(-0.8 -0.8)"/>
<path d="M2044.4 772.3 L2121.2 799.4" fill="none" stroke="#9fff7a" stroke-width="4.2" stroke-linecap="round" stroke-linejoin="round" transform="translate(-1.2 -1.2)"/>
<path d="M2044.4 772.3 L2121.2 799.4" fill="none" stroke="#abff8c" stroke-width="2.1" stroke-linecap="round" stroke-linejoin="round" transform="translate(-1.4 -1.4)"/>
<path d="M1930 746.7 C1940 742.5 1972.7 729 1990.3 721.2 C2007.9 713.4 2022.4 704.7 2035.4 700.1 C2048.4 695.5 2059 693.8 2068.5 693.5 C2078 693.2 2085.6 695 2092.6 698.6 C2099.6 702.2 2105.9 708.3 2110.7 715.1 C2115.5 721.9 2118.7 730.2 2121.2 739.2 C2123.7 748.2 2125.2 758.8 2125.7 769.3 C2126.2 779.8 2124.4 796.9 2124.2 802.4" fill="none" stroke="#4d8538" stroke-width="10.5" stroke-linecap="round" stroke-linejoin="round" transform="translate(-0 -0)"/>
<path d="M1930 746.7 C1940 742.5 1972.7 729 1990.3 721.2 C2007.9 713.4 2022.4 704.7 2035.4 700.1 C2048.4 695.5 2059 693.8 2068.5 693.5 C2078 693.2 2085.6 695 2092.6 698.6 C2099.6 702.2 2105.9 708.3 2110.7 715.1 C2115.5 721.9 2118.7 730.2 2121.2 739.2 C2123.7 748.2 2125.2 758.8 2125.7 769.3 C2126.2 779.8 2124.4 796.9 2124.2 802.4" fill="none" stroke="#68b24b" stroke-width="9.2" stroke-linecap="round" stroke-linejoin="round" transform="translate(-0.2 -0.2)"/>
<path d="M1930 746.7 C1940 742.5 1972.7 729 1990.3 721.2 C2007.9 713.4 2022.4 704.7 2035.4 700.1 C2048.4 695.5 2059 693.8 2068.5 693.5 C2078 693.2 2085.6 695 2092.6 698.6 C2099.6 702.2 2105.9 708.3 2110.7 715.1 C2115.5 721.9 2118.7 730.2 2121.2 739.2 C2123.7 748.2 2125.2 758.8 2125.7 769.3 C2126.2 779.8 2124.4 796.9 2124.2 802.4" fill="none" stroke="#7fdb5c" stroke-width="7.8" stroke-linecap="round" stroke-linejoin="round" transform="translate(-0.5 -0.5)"/>
<path d="M1930 746.7 C1940 742.5 1972.7 729 1990.3 721.2 C2007.9 713.4 2022.4 704.7 2035.4 700.1 C2048.4 695.5 2059 693.8 2068.5 693.5 C2078 693.2 2085.6 695 2092.6 698.6 C2099.6 702.2 2105.9 708.3 2110.7 715.1 C2115.5 721.9 2118.7 730.2 2121.2 739.2 C2123.7 748.2 2125.2 758.8 2125.7 769.3 C2126.2 779.8 2124.4 796.9 2124.2 802.4" fill="none" stroke="#94ff6b" stroke-width="6.1" stroke-linecap="round" stroke-linejoin="round" transform="translate(-0.8 -0.8)"/>
<path d="M1930 746.7 C1940 742.5 1972.7 729 1990.3 721.2 C2007.9 713.4 2022.4 704.7 2035.4 700.1 C2048.4 695.5 2059 693.8 2068.5 693.5 C2078 693.2 2085.6 695 2092.6 698.6 C2099.6 702.2 2105.9 708.3 2110.7 715.1 C2115.5 721.9 2118.7 730.2 2121.2 739.2 C2123.7 748.2 2125.2 758.8 2125.7 769.3 C2126.2 779.8 2124.4 796.9 2124.2 802.4" fill="none" stroke="#9fff7a" stroke-width="4.2" stroke-linecap="round" stroke-linejoin="round" transform="translate(-1.2 -1.2)"/>
<path d="M1930 746.7 C1940 742.5 1972.7 729 1990.3 721.2 C2007.9 713.4 2022.4 704.7 2035.4 700.1 C2048.4 695.5 2059 693.8 2068.5 693.5 C2078 693.2 2085.6 695 2092.6 698.6 C2099.6 702.2 2105.9 708.3 2110.7 715.1 C2115.5 721.9 2118.7 730.2 2121.2 739.2 C2123.7 748.2 2125.2 758.8 2125.7 769.3 C2126.2 779.8 2124.4 796.9 2124.2 802.4" fill="none" stroke="#abff8c" stroke-width="2.1" stroke-linecap="round" stroke-linejoin="round" transform="translate(-1.4 -1.4)"/>
<path d="M1960.2 817.5 L2029.4 844.5" fill="none" stroke="#77850d" stroke-width="10.5" stroke-linecap="round" stroke-linejoin="round" transform="translate(-0 -0)"/>
<path d="M1960.2 817.5 L2029.4 844.5" fill="none" stroke="#a1b212" stroke-width="9.2" stroke-linecap="round" stroke-linejoin="round" transform="translate(-0.2 -0.2)"/>
<path d="M1960.2 817.5 L2029.4 844.5" fill="none" stroke="#c5db16" stroke-width="7.8" stroke-linecap="round" stroke-linejoin="round" transform="translate(-0.5 -0.5)"/>
<path d="M1960.2 817.5 L2029.4 844.5" fill="none" stroke="#e5ff1a" stroke-width="6.1" stroke-linecap="round" stroke-linejoin="round" transform="translate(-0.8 -0.8)"/>
<path d="M1960.2 817.5 L2029.4 844.5" fill="none" stroke="#e8ff30" stroke-width="4.2" stroke-linecap="round" stroke-linejoin="round" transform="translate(-1.2 -1.2)"/>
<path d="M1960.2 817.5 L2029.4 844.5" fill="none" stroke="#ebff4c" stroke-width="2.1" stroke-linecap="round" stroke-linejoin="round" transform="translate(-1.4 -1.4)"/>
<path d="M1930 755.8 C1934 754 1946.7 747.2 1954.2 745.2 C1961.7 743.2 1967.7 743 1975.2 743.7 C1982.7 744.5 1991.8 745.9 1999.3 749.7 C2006.8 753.5 2014.9 759.5 2020.4 766.3 C2025.9 773.1 2029.7 781.4 2032.4 790.4 C2035.2 799.4 2036.4 810.5 2036.9 820.5 C2037.4 830.5 2035.7 845.6 2035.4 850.6" fill="none" stroke="#77850d" stroke-width="10.5" stroke-linecap="round" stroke-linejoin="round" transform="translate(-0 -0)"/>
<path d="M1930 755.8 C1934 754 1946.7 747.2 1954.2 745.2 C1961.7 743.2 1967.7 743 1975.2 743.7 C1982.7 744.5 1991.8 745.9 1999.3 749.7 C2006.8 753.5 2014.9 759.5 2020.4 766.3 C2025.9 773.1 2029.7 781.4 2032.4 790.4 C2035.2 799.4 2036.4 810.5 2036.9 820.5 C2037.4 830.5 2035.7 845.6 2035.4 850.6" fill="none" stroke="#a1b212" stroke-width="9.2" stroke-linecap="round" stroke-linejoin="round" transform="translate(-0.2 -0.2)"/>
<path d="M1930 755.8 C1934 754 1946.7 747.2 1954.2 745.2 C1961.7 743.2 1967.7 743 1975.2 743.7 C1982.7 744.5 1991.8 745.9 1999.3 749.7 C2006.8 753.5 2014.9 759.5 2020.4 766.3 C2025.9 773.1 2029.7 781.4 2032.4 790.4 C2035.2 799.4 2036.4 810.5 2036.9 820.5 C2037.4 830.5 2035.7 845.6 2035.4 850.6" fill="none" stroke="#c5db16" stroke-width="7.8" stroke-linecap="round" stroke-linejoin="round" transform="translate(-0.5 -0.5)"/>
<path d="M1930 755.8 C1934 754 1946.7 747.2 1954.2 745.2 C1961.7 743.2 1967.7 743 1975.2 743.7 C1982.7 744.5 1991.8 745.9 1999.3 749.7 C2006.8 753.5 2014.9 759.5 2020.4 766.3 C2025.9 773.1 2029.7 781.4 2032.4 790.4 C2035.2 799.4 2036.4 810.5 2036.9 820.5 C2037.4 830.5 2035.7 845.6 2035.4 850.6" fill="none" stroke="#e5ff1a" stroke-width="6.1" stroke-linecap="round" stroke-linejoin="round" transform="translate(-0.8 -0.8)"/>
<path d="M1930 755.8 C1934 754 1946.7 747.2 1954.2 745.2 C1961.7 743.2 1967.7 743 1975.2 743.7 C1982.7 744.5 1991.8 745.9 1999.3 749.7 C2006.8 753.5 2014.9 759.5 2020.4 766.3 C2025.9 773.1 2029.7 781.4 2032.4 790.4 C2035.2 799.4 2036.4 810.5 2036.9 820.5 C2037.4 830.5 2035.7 845.6 2035.4 850.6" fill="none" stroke="#e8ff30" stroke-width="4.2" stroke-linecap="round" stroke-linejoin="round" transform="translate(-1.2 -1.2)"/>
<path d="M1930 755.8 C1934 754 1946.7 747.2 1954.2 745.2 C1961.7 743.2 1967.7 743 1975.2 743.7 C1982.7 744.5 1991.8 745.9 1999.3 749.7 C2006.8 753.5 2014.9 759.5 2020.4 766.3 C2025.9 773.1 2029.7 781.4 2032.4 790.4 C2035.2 799.4 2036.4 810.5 2036.9 820.5 C2037.4 830.5 2035.7 845.6 2035.4 850.6" fill="none" stroke="#ebff4c" stroke-width="2.1" stroke-linecap="round" stroke-linejoin="round" transform="translate(-1.4 -1.4)"/>
<path d="M1969 850.6 L1996 865.6" fill="none" stroke="#857f00" stroke-width="10.5" stroke-linecap="round" stroke-linejoin="round" transform="translate(-0 -0)"/>
<path d="M1969 850.6 L1996 865.6" fill="none" stroke="#b2ab00" stroke-width="9.2" stroke-linecap="round" stroke-linejoin="round" transform="translate(-0.2 -0.2)"/>
<path d="M1969 850.6 L1996 865.6" fill="none" stroke="#dbd300" stroke-width="7.8" stroke-linecap="round" stroke-linejoin="round" transform="translate(-0.5 -0.5)"/>
<path d="M1969 850.6 L1996 865.6" fill="none" stroke="#fff500" stroke-width="6.1" stroke-linecap="round" stroke-linejoin="round" transform="translate(-0.8 -0.8)"/>
<path d="M1969 850.6 L1996 865.6" fill="none" stroke="#fff61a" stroke-width="4.2" stroke-linecap="round" stroke-linejoin="round" transform="translate(-1.2 -1.2)"/>
<path d="M1969 850.6 L1996 865.6" fill="none" stroke="#fff738" stroke-width="2.1" stroke-linecap="round" stroke-linejoin="round" transform="translate(-1.4 -1.4)"/>
<path d="M1930 766.3 C1933.5 765.5 1944.7 761.8 1951.2 761.8 C1957.7 761.8 1963.2 762.5 1969.2 766.3 C1975.2 770.1 1982.3 777.4 1987.3 784.4 C1992.3 791.4 1996.5 799.4 1999.3 808.4 C2002 817.4 2003.5 828.5 2003.8 838.5 C2004 848.5 2001.3 863.6 2000.8 868.6" fill="none" stroke="#857f00" stroke-width="10.5" stroke-linecap="round" stroke-linejoin="round" transform="translate(-0 -0)"/>
<path d="M1930 766.3 C1933.5 765.5 1944.7 761.8 1951.2 761.8 C1957.7 761.8 1963.2 762.5 1969.2 766.3 C1975.2 770.1 1982.3 777.4 1987.3 784.4 C1992.3 791.4 1996.5 799.4 1999.3 808.4 C2002 817.4 2003.5 828.5 2003.8 838.5 C2004 848.5 2001.3 863.6 2000.8 868.6" fill="none" stroke="#b2ab00" stroke-width="9.2" stroke-linecap="round" stroke-linejoin="round" transform="translate(-0.2 -0.2)"/>
<path d="M1930 766.3 C1933.5 765.5 1944.7 761.8 1951.2 761.8 C1957.7 761.8 1963.2 762.5 1969.2 766.3 C1975.2 770.1 1982.3 777.4 1987.3 784.4 C1992.3 791.4 1996.5 799.4 1999.3 808.4 C2002 817.4 2003.5 828.5 2003.8 838.5 C2004 848.5 2001.3 863.6 2000.8 868.6" fill="none" stroke="#dbd300" stroke-width="7.8" stroke-linecap="round" stroke-linejoin="round" transform="translate(-0.5 -0.5)"/>
<path d="M1930 766.3 C1933.5 765.5 1944.7 761.8 1951.2 761.8 C1957.7 761.8 1963.2 762.5 1969.2 766.3 C1975.2 770.1 1982.3 777.4 1987.3 784.4 C1992.3 791.4 1996.5 799.4 1999.3 808.4 C2002 817.4 2003.5 828.5 2003.8 838.5 C2004 848.5 2001.3 863.6 2000.8 868.6" fill="none" stroke="#fff500" stroke-width="6.1" stroke-linecap="round" stroke-linejoin="round" transform="translate(-0.8 -0.8)"/>
<path d="M1930 766.3 C1933.5 765.5 1944.7 761.8 1951.2 761.8 C1957.7 761.8 1963.2 762.5 1969.2 766.3 C1975.2 770.1 1982.3 777.4 1987.3 784.4 C1992.3 791.4 1996.5 799.4 1999.3 808.4 C2002 817.4 2003.5 828.5 2003.8 838.5 C2004 848.5 2001.3 863.6 2000.8 868.6" fill="none" stroke="#fff61a" stroke-width="4.2" stroke-linecap="round" stroke-linejoin="round" transform="translate(-1.2 -1.2)"/>
<path d="M1930 766.3 C1933.5 765.5 1944.7 761.8 1951.2 761.8 C1957.7 761.8 1963.2 762.5 1969.2 766.3 C1975.2 770.1 1982.3 777.4 1987.3 784.4 C1992.3 791.4 1996.5 799.4 1999.3 808.4 C2002 817.4 2003.5 828.5 2003.8 838.5 C2004 848.5 2001.3 863.6 2000.8 868.6" fill="none" stroke="#fff738" stroke-width="2.1" stroke-linecap="round" stroke-linejoin="round" transform="translate(-1.4 -1.4)"/>
<path d="M1930 775.3 C1933 775.3 1942.5 773.3 1948 775.3 C1953.5 777.3 1958.7 781.9 1963.2 787.4 C1967.7 792.9 1972.2 799.9 1975.2 808.4 C1978.2 816.9 1980.5 826.5 1981.3 838.5 C1982 850.5 1980 873.7 1979.7 880.7" fill="none" stroke="#856a00" stroke-width="10.5" stroke-linecap="round" stroke-linejoin="round" transform="translate(-0 -0)"/>
<path d="M1930 775.3 C1933 775.3 1942.5 773.3 1948 775.3 C1953.5 777.3 1958.7 781.9 1963.2 787.4 C1967.7 792.9 1972.2 799.9 1975.2 808.4 C1978.2 816.9 1980.5 826.5 1981.3 838.5 C1982 850.5 1980 873.7 1979.7 880.7" fill="none" stroke="#b28f00" stroke-width="9.2" stroke-linecap="round" stroke-linejoin="round" transform="translate(-0.2 -0.2)"/>
<path d="M1930 775.3 C1933 775.3 1942.5 773.3 1948 775.3 C1953.5 777.3 1958.7 781.9 1963.2 787.4 C1967.7 792.9 1972.2 799.9 1975.2 808.4 C1978.2 816.9 1980.5 826.5 1981.3 838.5 C1982 850.5 1980 873.7 1979.7 880.7" fill="none" stroke="#dbaf00" stroke-width="7.8" stroke-linecap="round" stroke-linejoin="round" transform="translate(-0.5 -0.5)"/>
<path d="M1930 775.3 C1933 775.3 1942.5 773.3 1948 775.3 C1953.5 777.3 1958.7 781.9 1963.2 787.4 C1967.7 792.9 1972.2 799.9 1975.2 808.4 C1978.2 816.9 1980.5 826.5 1981.3 838.5 C1982 850.5 1980 873.7 1979.7 880.7" fill="none" stroke="#ffcc00" stroke-width="6.1" stroke-linecap="round" stroke-linejoin="round" transform="translate(-0.8 -0.8)"/>
<path d="M1930 775.3 C1933 775.3 1942.5 773.3 1948 775.3 C1953.5 777.3 1958.7 781.9 1963.2 787.4 C1967.7 792.9 1972.2 799.9 1975.2 808.4 C1978.2 816.9 1980.5 826.5 1981.3 838.5 C1982 850.5 1980 873.7 1979.7 880.7" fill="none" stroke="#ffd11a" stroke-width="4.2" stroke-linecap="round" stroke-linejoin="round" transform="translate(-1.2 -1.2)"/>
<path d="M1930 775.3 C1933 775.3 1942.5 773.3 1948 775.3 C1953.5 777.3 1958.7 781.9 1963.2 787.4 C1967.7 792.9 1972.2 799.9 1975.2 808.4 C1978.2 816.9 1980.5 826.5 1981.3 838.5 C1982 850.5 1980 873.7 1979.7 880.7" fill="none" stroke="#ffd738" stroke-width="2.1" stroke-linecap="round" stroke-linejoin="round" transform="translate(-1.4 -1.4)"/>
<path d="M1928.6 782.9 C1930.8 783.4 1937.8 783.1 1942.1 785.9 C1946.4 788.6 1950.7 792.6 1954.2 799.4 C1957.7 806.2 1961.5 817 1963.2 826.5 C1965 836 1965 846.1 1964.7 856.6 C1964.5 867.1 1962.2 884.2 1961.7 889.7" fill="none" stroke="#855200" stroke-width="10.5" stroke-linecap="round" stroke-linejoin="round" transform="translate(-0 -0)"/>
<path d="M1928.6 782.9 C1930.8 783.4 1937.8 783.1 1942.1 785.9 C1946.4 788.6 1950.7 792.6 1954.2 799.4 C1957.7 806.2 1961.5 817 1963.2 826.5 C1965 836 1965 846.1 1964.7 856.6 C1964.5 867.1 1962.2 884.2 1961.7 889.7" fill="none" stroke="#b26f00" stroke-width="9.2" stroke-linecap="round" stroke-linejoin="round" transform="translate(-0.2 -0.2)"/>
<path d="M1928.6 782.9 C1930.8 783.4 1937.8 783.1 1942.1 785.9 C1946.4 788.6 1950.7 792.6 1954.2 799.4 C1957.7 806.2 1961.5 817 1963.2 826.5 C1965 836 1965 846.1 1964.7 856.6 C1964.5 867.1 1962.2 884.2 1961.7 889.7" fill="none" stroke="#db8800" stroke-width="7.8" stroke-linecap="round" stroke-linejoin="round" transform="translate(-0.5 -0.5)"/>
<path d="M1928.6 782.9 C1930.8 783.4 1937.8 783.1 1942.1 785.9 C1946.4 788.6 1950.7 792.6 1954.2 799.4 C1957.7 806.2 1961.5 817 1963.2 826.5 C1965 836 1965 846.1 1964.7 856.6 C1964.5 867.1 1962.2 884.2 1961.7 889.7" fill="none" stroke="#ff9e00" stroke-width="6.1" stroke-linecap="round" stroke-linejoin="round" transform="translate(-0.8 -0.8)"/>
<path d="M1928.6 782.9 C1930.8 783.4 1937.8 783.1 1942.1 785.9 C1946.4 788.6 1950.7 792.6 1954.2 799.4 C1957.7 806.2 1961.5 817 1963.2 826.5 C1965 836 1965 846.1 1964.7 856.6 C1964.5 867.1 1962.2 884.2 1961.7 889.7" fill="none" stroke="#ffa81a" stroke-width="4.2" stroke-linecap="round" stroke-linejoin="round" transform="translate(-1.2 -1.2)"/>
<path d="M1928.6 782.9 C1930.8 783.4 1937.8 783.1 1942.1 785.9 C1946.4 788.6 1950.7 792.6 1954.2 799.4 C1957.7 806.2 1961.5 817 1963.2 826.5 C1965 836 1965 846.1 1964.7 856.6 C1964.5 867.1 1962.2 884.2 1961.7 889.7" fill="none" stroke="#ffb338" stroke-width="2.1" stroke-linecap="round" stroke-linejoin="round" transform="translate(-1.4 -1.4)"/>
<path d="M1927 790.4 C1928.8 791.4 1934.3 792.4 1937.6 796.4 C1940.9 800.4 1944.3 806.4 1946.6 814.4 C1948.9 822.4 1951 831 1951.2 844.5 C1951.5 858 1948.6 887.2 1948.1 895.7" fill="none" stroke="#853800" stroke-width="10.5" stroke-linecap="round" stroke-linejoin="round" transform="translate(-0 -0)"/>
<path d="M1927 790.4 C1928.8 791.4 1934.3 792.4 1937.6 796.4 C1940.9 800.4 1944.3 806.4 1946.6 814.4 C1948.9 822.4 1951 831 1951.2 844.5 C1951.5 858 1948.6 887.2 1948.1 895.7" fill="none" stroke="#b24b00" stroke-width="9.2" stroke-linecap="round" stroke-linejoin="round" transform="translate(-0.2 -0.2)"/>
<path d="M1927 790.4 C1928.8 791.4 1934.3 792.4 1937.6 796.4 C1940.9 800.4 1944.3 806.4 1946.6 814.4 C1948.9 822.4 1951 831 1951.2 844.5 C1951.5 858 1948.6 887.2 1948.1 895.7" fill="none" stroke="#db5c00" stroke-width="7.8" stroke-linecap="round" stroke-linejoin="round" transform="translate(-0.5 -0.5)"/>
<path d="M1927 790.4 C1928.8 791.4 1934.3 792.4 1937.6 796.4 C1940.9 800.4 1944.3 806.4 1946.6 814.4 C1948.9 822.4 1951 831 1951.2 844.5 C1951.5 858 1948.6 887.2 1948.1 895.7" fill="none" stroke="#ff6b00" stroke-width="6.1" stroke-linecap="round" stroke-linejoin="round" transform="translate(-0.8 -0.8)"/>
<path d="M1927 790.4 C1928.8 791.4 1934.3 792.4 1937.6 796.4 C1940.9 800.4 1944.3 806.4 1946.6 814.4 C1948.9 822.4 1951 831 1951.2 844.5 C1951.5 858 1948.6 887.2 1948.1 895.7" fill="none" stroke="#ff7a1a" stroke-width="4.2" stroke-linecap="round" stroke-linejoin="round" transform="translate(-1.2 -1.2)"/>
<path d="M1927 790.4 C1928.8 791.4 1934.3 792.4 1937.6 796.4 C1940.9 800.4 1944.3 806.4 1946.6 814.4 C1948.9 822.4 1951 831 1951.2 844.5 C1951.5 858 1948.6 887.2 1948.1 895.7" fill="none" stroke="#ff8c38" stroke-width="2.1" stroke-linecap="round" stroke-linejoin="round" transform="translate(-1.4 -1.4)"/>
<path d="M1925.6 799.4 C1926.8 800.9 1930.8 802.9 1933.1 808.4 C1935.3 813.9 1938.3 817 1939.1 832.5 C1939.8 848 1937.8 890.2 1937.6 901.7" fill="none" stroke="#852000" stroke-width="10.5" stroke-linecap="round" stroke-linejoin="round" transform="translate(-0 -0)"/>
<path d="M1925.6 799.4 C1926.8 800.9 1930.8 802.9 1933.1 808.4 C1935.3 813.9 1938.3 817 1939.1 832.5 C1939.8 848 1937.8 890.2 1937.6 901.7" fill="none" stroke="#b22b00" stroke-width="9.2" stroke-linecap="round" stroke-linejoin="round" transform="translate(-0.2 -0.2)"/>
<path d="M1925.6 799.4 C1926.8 800.9 1930.8 802.9 1933.1 808.4 C1935.3 813.9 1938.3 817 1939.1 832.5 C1939.8 848 1937.8 890.2 1937.6 901.7" fill="none" stroke="#db3500" stroke-width="7.8" stroke-linecap="round" stroke-linejoin="round" transform="translate(-0.5 -0.5)"/>
<path d="M1925.6 799.4 C1926.8 800.9 1930.8 802.9 1933.1 808.4 C1935.3 813.9 1938.3 817 1939.1 832.5 C1939.8 848 1937.8 890.2 1937.6 901.7" fill="none" stroke="#ff3d00" stroke-width="6.1" stroke-linecap="round" stroke-linejoin="round" transform="translate(-0.8 -0.8)"/>
<path d="M1925.6 799.4 C1926.8 800.9 1930.8 802.9 1933.1 808.4 C1935.3 813.9 1938.3 817 1939.1 832.5 C1939.8 848 1937.8 890.2 1937.6 901.7" fill="none" stroke="#ff511a" stroke-width="4.2" stroke-linecap="round" stroke-linejoin="round" transform="translate(-1.2 -1.2)"/>
<path d="M1925.6 799.4 C1926.8 800.9 1930.8 802.9 1933.1 808.4 C1935.3 813.9 1938.3 817 1939.1 832.5 C1939.8 848 1937.8 890.2 1937.6 901.7" fill="none" stroke="#ff6838" stroke-width="2.1" stroke-linecap="round" stroke-linejoin="round" transform="translate(-1.4 -1.4)"/>
<path d="M1924 808.4 C1925 811.4 1929.2 810 1930 826.5 C1930.8 843 1928.8 894.2 1928.6 907.7" fill="none" stroke="#850800" stroke-width="10.5" stroke-linecap="round" stroke-linejoin="round" transform="translate(-0 -0)"/>
<path d="M1924 808.4 C1925 811.4 1929.2 810 1930 826.5 C1930.8 843 1928.8 894.2 1928.6 907.7" fill="none" stroke="#b20b00" stroke-width="9.2" stroke-linecap="round" stroke-linejoin="round" transform="translate(-0.2 -0.2)"/>
<path d="M1924 808.4 C1925 811.4 1929.2 810 1930 826.5 C1930.8 843 1928.8 894.2 1928.6 907.7" fill="none" stroke="#db0d00" stroke-width="7.8" stroke-linecap="round" stroke-linejoin="round" transform="translate(-0.5 -0.5)"/>
<path d="M1924 808.4 C1925 811.4 1929.2 810 1930 826.5 C1930.8 843 1928.8 894.2 1928.6 907.7" fill="none" stroke="#ff0f00" stroke-width="6.1" stroke-linecap="round" stroke-linejoin="round" transform="translate(-0.8 -0.8)"/>
<path d="M1924 808.4 C1925 811.4 1929.2 810 1930 826.5 C1930.8 843 1928.8 894.2 1928.6 907.7" fill="none" stroke="#ff271a" stroke-width="4.2" stroke-linecap="round" stroke-linejoin="round" transform="translate(-1.2 -1.2)"/>
<path d="M1924 808.4 C1925 811.4 1929.2 810 1930 826.5 C1930.8 843 1928.8 894.2 1928.6 907.7" fill="none" stroke="#ff4438" stroke-width="2.1" stroke-linecap="round" stroke-linejoin="round" transform="translate(-1.4 -1.4)"/>
<path d="M1920 822 C1920.1 826.7 1920.8 835.2 1920.5 850 C1920.2 864.8 1918.4 900.8 1918 911" fill="none" stroke="#6d0000" stroke-width="10.5" stroke-linecap="round" stroke-linejoin="round" transform="translate(-0 -0)"/>
<path d="M1920 822 C1920.1 826.7 1920.8 835.2 1920.5 850 C1920.2 864.8 1918.4 900.8 1918 911" fill="none" stroke="#920000" stroke-width="9.2" stroke-linecap="round" stroke-linejoin="round" transform="translate(-0.2 -0.2)"/>
<path d="M1920 822 C1920.1 826.7 1920.8 835.2 1920.5 850 C1920.2 864.8 1918.4 900.8 1918 911" fill="none" stroke="#b40000" stroke-width="7.8" stroke-linecap="round" stroke-linejoin="round" transform="translate(-0.5 -0.5)"/>
<path d="M1920 822 C1920.1 826.7 1920.8 835.2 1920.5 850 C1920.2 864.8 1918.4 900.8 1918 911" fill="none" stroke="#d10000" stroke-width="6.1" stroke-linecap="round" stroke-linejoin="round" transform="translate(-0.8 -0.8)"/>
<path d="M1920 822 C1920.1 826.7 1920.8 835.2 1920.5 850 C1920.2 864.8 1918.4 900.8 1918 911" fill="none" stroke="#d61a1a" stroke-width="4.2" stroke-linecap="round" stroke-linejoin="round" transform="translate(-1.2 -1.2)"/>
<path d="M1920 822 C1920.1 826.7 1920.8 835.2 1920.5 850 C1920.2 864.8 1918.4 900.8 1918 911" fill="none" stroke="#db3838" stroke-width="2.1" stroke-linecap="round" stroke-linejoin="round" transform="translate(-1.4 -1.4)"/>
<path d="M1768.2 766.2 L1917.8 823.6" fill="none" stroke="#850300" stroke-width="10" stroke-linecap="round" stroke-linejoin="round" transform="translate(-0 -0)"/>
<path d="M1768.2 766.2 L1917.8 823.6" fill="none" stroke="#b20400" stroke-width="8.8" stroke-linecap="round" stroke-linejoin="round" transform="translate(-0.2 -0.2)"/>
<path d="M1768.2 766.2 L1917.8 823.6" fill="none" stroke="#db0400" stroke-width="7.4" stroke-linecap="round" stroke-linejoin="round" transform="translate(-0.5 -0.5)"/>
<path d="M1768.2 766.2 L1917.8 823.6" fill="none" stroke="#ff0500" stroke-width="5.8" stroke-linecap="round" stroke-linejoin="round" transform="translate(-0.8 -0.8)"/>
<path d="M1768.2 766.2 L1917.8 823.6" fill="none" stroke="#ff1e1a" stroke-width="4" stroke-linecap="round" stroke-linejoin="round" transform="translate(-1.1 -1.1)"/>
<path d="M1768.2 766.2 L1917.8 823.6" fill="none" stroke="#ff3c38" stroke-width="2" stroke-linecap="round" stroke-linejoin="round" transform="translate(-1.3 -1.3)"/>
<path d="M1769.5 757.3 L1919 814.6" fill="none" stroke="#851800" stroke-width="10" stroke-linecap="round" stroke-linejoin="round" transform="translate(-0 -0)"/>
<path d="M1769.5 757.3 L1919 814.6" fill="none" stroke="#b22000" stroke-width="8.8" stroke-linecap="round" stroke-linejoin="round" transform="translate(-0.2 -0.2)"/>
<path d="M1769.5 757.3 L1919 814.6" fill="none" stroke="#db2700" stroke-width="7.4" stroke-linecap="round" stroke-linejoin="round" transform="translate(-0.5 -0.5)"/>
<path d="M1769.5 757.3 L1919 814.6" fill="none" stroke="#ff2e00" stroke-width="5.8" stroke-linecap="round" stroke-linejoin="round" transform="translate(-0.8 -0.8)"/>
<path d="M1769.5 757.3 L1919 814.6" fill="none" stroke="#ff431a" stroke-width="4" stroke-linecap="round" stroke-linejoin="round" transform="translate(-1.1 -1.1)"/>
<path d="M1769.5 757.3 L1919 814.6" fill="none" stroke="#ff5c38" stroke-width="2" stroke-linecap="round" stroke-linejoin="round" transform="translate(-1.3 -1.3)"/>
<path d="M1770.7 748.4 L1920.3 805.7" fill="none" stroke="#852d00" stroke-width="10" stroke-linecap="round" stroke-linejoin="round" transform="translate(-0 -0)"/>
<path d="M1770.7 748.4 L1920.3 805.7" fill="none" stroke="#b23d00" stroke-width="8.8" stroke-linecap="round" stroke-linejoin="round" transform="translate(-0.2 -0.2)"/>
<path d="M1770.7 748.4 L1920.3 805.7" fill="none" stroke="#db4b00" stroke-width="7.4" stroke-linecap="round" stroke-linejoin="round" transform="translate(-0.5 -0.5)"/>
<path d="M1770.7 748.4 L1920.3 805.7" fill="none" stroke="#ff5700" stroke-width="5.8" stroke-linecap="round" stroke-linejoin="round" transform="translate(-0.8 -0.8)"/>
<path d="M1770.7 748.4 L1920.3 805.7" fill="none" stroke="#ff681a" stroke-width="4" stroke-linecap="round" stroke-linejoin="round" transform="translate(-1.1 -1.1)"/>
<path d="M1770.7 748.4 L1920.3 805.7" fill="none" stroke="#ff7c38" stroke-width="2" stroke-linecap="round" stroke-linejoin="round" transform="translate(-1.3 -1.3)"/>
<path d="M1771.9 739.5 L1921.6 796.7" fill="none" stroke="#854500" stroke-width="10" stroke-linecap="round" stroke-linejoin="round" transform="translate(-0 -0)"/>
<path d="M1771.9 739.5 L1921.6 796.7" fill="none" stroke="#b25d00" stroke-width="8.8" stroke-linecap="round" stroke-linejoin="round" transform="translate(-0.2 -0.2)"/>
<path d="M1771.9 739.5 L1921.6 796.7" fill="none" stroke="#db7200" stroke-width="7.4" stroke-linecap="round" stroke-linejoin="round" transform="translate(-0.5 -0.5)"/>
<path d="M1771.9 739.5 L1921.6 796.7" fill="none" stroke="#ff8500" stroke-width="5.8" stroke-linecap="round" stroke-linejoin="round" transform="translate(-0.8 -0.8)"/>
<path d="M1771.9 739.5 L1921.6 796.7" fill="none" stroke="#ff911a" stroke-width="4" stroke-linecap="round" stroke-linejoin="round" transform="translate(-1.1 -1.1)"/>
<path d="M1771.9 739.5 L1921.6 796.7" fill="none" stroke="#ffa038" stroke-width="2" stroke-linecap="round" stroke-linejoin="round" transform="translate(-1.3 -1.3)"/>
<path d="M1773.1 730.6 L1922.9 787.8" fill="none" stroke="#855d00" stroke-width="10" stroke-linecap="round" stroke-linejoin="round" transform="translate(-0 -0)"/>
<path d="M1773.1 730.6 L1922.9 787.8" fill="none" stroke="#b27d00" stroke-width="8.8" stroke-linecap="round" stroke-linejoin="round" transform="translate(-0.2 -0.2)"/>
<path d="M1773.1 730.6 L1922.9 787.8" fill="none" stroke="#db9a00" stroke-width="7.4" stroke-linecap="round" stroke-linejoin="round" transform="translate(-0.5 -0.5)"/>
<path d="M1773.1 730.6 L1922.9 787.8" fill="none" stroke="#ffb300" stroke-width="5.8" stroke-linecap="round" stroke-linejoin="round" transform="translate(-0.8 -0.8)"/>
<path d="M1773.1 730.6 L1922.9 787.8" fill="none" stroke="#ffba1a" stroke-width="4" stroke-linecap="round" stroke-linejoin="round" transform="translate(-1.1 -1.1)"/>
<path d="M1773.1 730.6 L1922.9 787.8" fill="none" stroke="#ffc338" stroke-width="2" stroke-linecap="round" stroke-linejoin="round" transform="translate(-1.3 -1.3)"/>
<path d="M1774.3 721.6 L1924.2 778.8" fill="none" stroke="#856f00" stroke-width="10" stroke-linecap="round" stroke-linejoin="round" transform="translate(-0 -0)"/>
<path d="M1774.3 721.6 L1924.2 778.8" fill="none" stroke="#b29600" stroke-width="8.8" stroke-linecap="round" stroke-linejoin="round" transform="translate(-0.2 -0.2)"/>
<path d="M1774.3 721.6 L1924.2 778.8" fill="none" stroke="#dbb800" stroke-width="7.4" stroke-linecap="round" stroke-linejoin="round" transform="translate(-0.5 -0.5)"/>
<path d="M1774.3 721.6 L1924.2 778.8" fill="none" stroke="#ffd600" stroke-width="5.8" stroke-linecap="round" stroke-linejoin="round" transform="translate(-0.8 -0.8)"/>
<path d="M1774.3 721.6 L1924.2 778.8" fill="none" stroke="#ffda1a" stroke-width="4" stroke-linecap="round" stroke-linejoin="round" transform="translate(-1.1 -1.1)"/>
<path d="M1774.3 721.6 L1924.2 778.8" fill="none" stroke="#ffdf38" stroke-width="2" stroke-linecap="round" stroke-linejoin="round" transform="translate(-1.3 -1.3)"/>
<path d="M1775.5 712.7 L1925.5 769.8" fill="none" stroke="#857f00" stroke-width="10" stroke-linecap="round" stroke-linejoin="round" transform="translate(-0 -0)"/>
<path d="M1775.5 712.7 L1925.5 769.8" fill="none" stroke="#b2ab00" stroke-width="8.8" stroke-linecap="round" stroke-linejoin="round" transform="translate(-0.2 -0.2)"/>
<path d="M1775.5 712.7 L1925.5 769.8" fill="none" stroke="#dbd300" stroke-width="7.4" stroke-linecap="round" stroke-linejoin="round" transform="translate(-0.5 -0.5)"/>
<path d="M1775.5 712.7 L1925.5 769.8" fill="none" stroke="#fff500" stroke-width="5.8" stroke-linecap="round" stroke-linejoin="round" transform="translate(-0.8 -0.8)"/>
<path d="M1775.5 712.7 L1925.5 769.8" fill="none" stroke="#fff61a" stroke-width="4" stroke-linecap="round" stroke-linejoin="round" transform="translate(-1.1 -1.1)"/>
<path d="M1775.5 712.7 L1925.5 769.8" fill="none" stroke="#fff738" stroke-width="2" stroke-linecap="round" stroke-linejoin="round" transform="translate(-1.3 -1.3)"/>
<path d="M1776.7 703.7 L1926.8 760.8" fill="none" stroke="#77850d" stroke-width="10" stroke-linecap="round" stroke-linejoin="round" transform="translate(-0 -0)"/>
<path d="M1776.7 703.7 L1926.8 760.8" fill="none" stroke="#a1b212" stroke-width="8.8" stroke-linecap="round" stroke-linejoin="round" transform="translate(-0.2 -0.2)"/>
<path d="M1776.7 703.7 L1926.8 760.8" fill="none" stroke="#c5db16" stroke-width="7.4" stroke-linecap="round" stroke-linejoin="round" transform="translate(-0.5 -0.5)"/>
<path d="M1776.7 703.7 L1926.8 760.8" fill="none" stroke="#e5ff1a" stroke-width="5.8" stroke-linecap="round" stroke-linejoin="round" transform="translate(-0.8 -0.8)"/>
<path d="M1776.7 703.7 L1926.8 760.8" fill="none" stroke="#e8ff30" stroke-width="4" stroke-linecap="round" stroke-linejoin="round" transform="translate(-1.1 -1.1)"/>
<path d="M1776.7 703.7 L1926.8 760.8" fill="none" stroke="#ebff4c" stroke-width="2" stroke-linecap="round" stroke-linejoin="round" transform="translate(-1.3 -1.3)"/>
<path d="M1778.2 693.1 L1928.3 750.2" fill="none" stroke="#4d8538" stroke-width="12" stroke-linecap="round" stroke-linejoin="round" transform="translate(-0 -0)"/>
<path d="M1778.2 693.1 L1928.3 750.2" fill="none" stroke="#68b24b" stroke-width="10.6" stroke-linecap="round" stroke-linejoin="round" transform="translate(-0.2 -0.2)"/>
<path d="M1778.2 693.1 L1928.3 750.2" fill="none" stroke="#7fdb5c" stroke-width="8.9" stroke-linecap="round" stroke-linejoin="round" transform="translate(-0.5 -0.5)"/>
<path d="M1778.2 693.1 L1928.3 750.2" fill="none" stroke="#94ff6b" stroke-width="7" stroke-linecap="round" stroke-linejoin="round" transform="translate(-0.9 -0.9)"/>
<path d="M1778.2 693.1 L1928.3 750.2" fill="none" stroke="#9fff7a" stroke-width="4.8" stroke-linecap="round" stroke-linejoin="round" transform="translate(-1.3 -1.3)"/>
<path d="M1778.2 693.1 L1928.3 750.2" fill="none" stroke="#abff8c" stroke-width="2.4" stroke-linecap="round" stroke-linejoin="round" transform="translate(-1.6 -1.6)"/>
<path d="M1760.2 857.6 L1770.3 783.1 L1911.1 836.5 L1900.4 911.3 L1760.2 857.6 Z" fill="none" stroke="#630404" stroke-width="10.5" stroke-linejoin="round" transform="translate(0 0)"/>
<path d="M1760.2 857.6 L1770.3 783.1 L1911.1 836.5 L1900.4 911.3 L1760.2 857.6 Z" fill="none" stroke="#8b0505" stroke-width="9" stroke-linejoin="round" transform="translate(-0.2 -0.2)"/>
<path d="M1760.2 857.6 L1770.3 783.1 L1911.1 836.5 L1900.4 911.3 L1760.2 857.6 Z" fill="none" stroke="#af0707" stroke-width="7.3" stroke-linejoin="round" transform="translate(-0.5 -0.5)"/>
<path d="M1760.2 857.6 L1770.3 783.1 L1911.1 836.5 L1900.4 911.3 L1760.2 857.6 Z" fill="none" stroke="#c70808" stroke-width="5.5" stroke-linejoin="round" transform="translate(-0.9 -0.9)"/>
<path d="M1760.2 857.6 L1770.3 783.1 L1911.1 836.5 L1900.4 911.3 L1760.2 857.6 Z" fill="none" stroke="#cf2d2d" stroke-width="3.6" stroke-linejoin="round" transform="translate(-1.3 -1.3)"/>
<path d="M1760.2 857.6 L1770.3 783.1 L1911.1 836.5 L1900.4 911.3 L1760.2 857.6 Z" fill="none" stroke="#db5e5e" stroke-width="1.7" stroke-linejoin="round" transform="translate(-1.7 -1.7)"/>
<path d="M1758.3 856.8 L1764.3 812.2 L1909.1 867.3 L1902.6 912.1 L1758.3 856.8 Z" fill="none" stroke="#460404" stroke-width="11.5" stroke-linejoin="round" transform="translate(0 0)"/>
<path d="M1758.3 856.8 L1764.3 812.2 L1909.1 867.3 L1902.6 912.1 L1758.3 856.8 Z" fill="none" stroke="#620505" stroke-width="9.9" stroke-linejoin="round" transform="translate(-0.2 -0.2)"/>
<path d="M1758.3 856.8 L1764.3 812.2 L1909.1 867.3 L1902.6 912.1 L1758.3 856.8 Z" fill="none" stroke="#7b0707" stroke-width="8" stroke-linejoin="round" transform="translate(-0.5 -0.5)"/>
<path d="M1758.3 856.8 L1764.3 812.2 L1909.1 867.3 L1902.6 912.1 L1758.3 856.8 Z" fill="none" stroke="#8c0808" stroke-width="6" stroke-linejoin="round" transform="translate(-0.9 -0.9)"/>
<path d="M1758.3 856.8 L1764.3 812.2 L1909.1 867.3 L1902.6 912.1 L1758.3 856.8 Z" fill="none" stroke="#9d2d2d" stroke-width="3.9" stroke-linejoin="round" transform="translate(-1.3 -1.3)"/>
<path d="M1758.3 856.8 L1764.3 812.2 L1909.1 867.3 L1902.6 912.1 L1758.3 856.8 Z" fill="none" stroke="#b45e5e" stroke-width="1.8" stroke-linejoin="round" transform="translate(-1.7 -1.7)"/>
<line x1="1800" y1="532" x2="1951.8" y2="587.4" stroke="#000" stroke-width="3.6" stroke-linecap="round" />
<line x1="1951.8" y1="587.4" x2="2776.3" y2="198.1" stroke="#000" stroke-width="3.6" stroke-linecap="round" />
<line x1="1778.4" y1="691.5" x2="1800" y2="532" stroke="#000" stroke-width="3.6" stroke-linecap="round" />
<line x1="1928.7" y1="747.7" x2="1951.8" y2="587.4" stroke="#000" stroke-width="3.6" stroke-linecap="round" />
</g>
<rect x="1065.7" y="271.9" width="37" height="586.7" fill="url(#cbg)" stroke="#000" stroke-width="2.4"/>
<path d="M1066.5 301.8h7M1101.9 301.8h-7" stroke="#000" stroke-width="2" fill="none"/>
<path d="M1066.5 367.5h7M1101.9 367.5h-7" stroke="#000" stroke-width="2" fill="none"/>
<path d="M1066.5 433.3h7M1101.9 433.3h-7" stroke="#000" stroke-width="2" fill="none"/>
<path d="M1066.5 499h7M1101.9 499h-7" stroke="#000" stroke-width="2" fill="none"/>
<path d="M1066.5 564.8h7M1101.9 564.8h-7" stroke="#000" stroke-width="2" fill="none"/>
<path d="M1066.5 630.5h7M1101.9 630.5h-7" stroke="#000" stroke-width="2" fill="none"/>
<path d="M1066.5 696.3h7M1101.9 696.3h-7" stroke="#000" stroke-width="2" fill="none"/>
<path d="M1066.5 762h7M1101.9 762h-7" stroke="#000" stroke-width="2" fill="none"/>
<path d="M1066.5 827.8h7M1101.9 827.8h-7" stroke="#000" stroke-width="2" fill="none"/>
<rect x="1262.7" y="271.9" width="36.4" height="586.7" fill="#fff" stroke="none"/>
<rect x="1263.5" y="271.7" width="34.8" height="13.8" fill="#800000"/>
<path d="M1263.5 278.6h7M1298.3 278.6h-7" stroke="#000" stroke-width="2" fill="none"/>
<rect x="1263.5" y="301.9" width="34.8" height="13.8" fill="#b50000"/>
<path d="M1263.5 308.8h7M1298.3 308.8h-7" stroke="#000" stroke-width="2" fill="none"/>
<rect x="1263.5" y="332.2" width="34.8" height="13.8" fill="#eb0000"/>
<path d="M1263.5 339.1h7M1298.3 339.1h-7" stroke="#000" stroke-width="2" fill="none"/>
<rect x="1263.5" y="362.4" width="34.8" height="13.8" fill="#ff2200"/>
<path d="M1263.5 369.3h7M1298.3 369.3h-7" stroke="#000" stroke-width="2" fill="none"/>
<rect x="1263.5" y="392.7" width="34.8" height="13.8" fill="#ff5700"/>
<path d="M1263.5 399.6h7M1298.3 399.6h-7" stroke="#000" stroke-width="2" fill="none"/>
<rect x="1263.5" y="422.9" width="34.8" height="13.8" fill="#ff8d00"/>
<path d="M1263.5 429.8h7M1298.3 429.8h-7" stroke="#000" stroke-width="2" fill="none"/>
<rect x="1263.5" y="453.1" width="34.8" height="13.8" fill="#ffc300"/>
<path d="M1263.5 460h7M1298.3 460h-7" stroke="#000" stroke-width="2" fill="none"/>
<rect x="1263.5" y="483.4" width="34.8" height="13.8" fill="#fff800"/>
<path d="M1263.5 490.3h7M1298.3 490.3h-7" stroke="#000" stroke-width="2" fill="none"/>
<rect x="1263.5" y="513.6" width="34.8" height="13.8" fill="#d0ff2f"/>
<path d="M1263.5 520.5h7M1298.3 520.5h-7" stroke="#000" stroke-width="2" fill="none"/>
<rect x="1263.5" y="543.9" width="34.8" height="13.8" fill="#9aff65"/>
<path d="M1263.5 550.8h7M1298.3 550.8h-7" stroke="#000" stroke-width="2" fill="none"/>
<rect x="1263.5" y="574.1" width="34.8" height="13.8" fill="#65ff9a"/>
<path d="M1263.5 581h7M1298.3 581h-7" stroke="#000" stroke-width="2" fill="none"/>
<rect x="1263.5" y="604.3" width="34.8" height="13.8" fill="#2fffd0"/>
<path d="M1263.5 611.2h7M1298.3 611.2h-7" stroke="#000" stroke-width="2" fill="none"/>
<rect x="1263.5" y="634.6" width="34.8" height="13.8" fill="#00f8ff"/>
<path d="M1263.5 641.5h7M1298.3 641.5h-7" stroke="#000" stroke-width="2" fill="none"/>
<rect x="1263.5" y="664.8" width="34.8" height="13.8" fill="#00c3ff"/>
<path d="M1263.5 671.7h7M1298.3 671.7h-7" stroke="#000" stroke-width="2" fill="none"/>
<rect x="1263.5" y="695.1" width="34.8" height="13.8" fill="#008dff"/>
<path d="M1263.5 702h7M1298.3 702h-7" stroke="#000" stroke-width="2" fill="none"/>
<rect x="1263.5" y="725.3" width="34.8" height="13.8" fill="#0057ff"/>
<path d="M1263.5 732.2h7M1298.3 732.2h-7" stroke="#000" stroke-width="2" fill="none"/>
<rect x="1263.5" y="755.5" width="34.8" height="13.8" fill="#0022ff"/>
<path d="M1263.5 762.4h7M1298.3 762.4h-7" stroke="#000" stroke-width="2" fill="none"/>
<rect x="1263.5" y="785.8" width="34.8" height="13.8" fill="#0000eb"/>
<path d="M1263.5 792.7h7M1298.3 792.7h-7" stroke="#000" stroke-width="2" fill="none"/>
<rect x="1263.5" y="816" width="34.8" height="13.8" fill="#0000b5"/>
<path d="M1263.5 822.9h7M1298.3 822.9h-7" stroke="#000" stroke-width="2" fill="none"/>
<rect x="1263.5" y="846.3" width="34.8" height="13.8" fill="#000080"/>
<path d="M1263.5 853.2h7M1298.3 853.2h-7" stroke="#000" stroke-width="2" fill="none"/>
<rect x="1262.7" y="271.9" width="36.4" height="586.7" fill="none" stroke="#000" stroke-width="2.4"/>
<rect x="2877.7" y="272.7" width="37" height="585.9" fill="url(#cbg)" stroke="#000" stroke-width="2.4"/>
<path d="M2878.5 321.8h7M2913.9 321.8h-7" stroke="#000" stroke-width="2" fill="none"/>
<path d="M2878.5 405.6h7M2913.9 405.6h-7" stroke="#000" stroke-width="2" fill="none"/>
<path d="M2878.5 489.4h7M2913.9 489.4h-7" stroke="#000" stroke-width="2" fill="none"/>
<path d="M2878.5 573.2h7M2913.9 573.2h-7" stroke="#000" stroke-width="2" fill="none"/>
<path d="M2878.5 657h7M2913.9 657h-7" stroke="#000" stroke-width="2" fill="none"/>
<path d="M2878.5 740.8h7M2913.9 740.8h-7" stroke="#000" stroke-width="2" fill="none"/>
<path d="M2878.5 824.6h7M2913.9 824.6h-7" stroke="#000" stroke-width="2" fill="none"/>
<rect x="3074.7" y="271.9" width="36.4" height="586.7" fill="#fff" stroke="none"/>
<rect x="3075.5" y="271.7" width="34.8" height="13.8" fill="#800000"/>
<path d="M3075.5 278.6h7M3110.3 278.6h-7" stroke="#000" stroke-width="2" fill="none"/>
<rect x="3075.5" y="301.9" width="34.8" height="13.8" fill="#b50000"/>
<path d="M3075.5 308.8h7M3110.3 308.8h-7" stroke="#000" stroke-width="2" fill="none"/>
<rect x="3075.5" y="332.2" width="34.8" height="13.8" fill="#eb0000"/>
<path d="M3075.5 339.1h7M3110.3 339.1h-7" stroke="#000" stroke-width="2" fill="none"/>
<rect x="3075.5" y="362.4" width="34.8" height="13.8" fill="#ff2200"/>
<path d="M3075.5 369.3h7M3110.3 369.3h-7" stroke="#000" stroke-width="2" fill="none"/>
<rect x="3075.5" y="392.7" width="34.8" height="13.8" fill="#ff5700"/>
<path d="M3075.5 399.6h7M3110.3 399.6h-7" stroke="#000" stroke-width="2" fill="none"/>
<rect x="3075.5" y="422.9" width="34.8" height="13.8" fill="#ff8d00"/>
<path d="M3075.5 429.8h7M3110.3 429.8h-7" stroke="#000" stroke-width="2" fill="none"/>
<rect x="3075.5" y="453.1" width="34.8" height="13.8" fill="#ffc300"/>
<path d="M3075.5 460h7M3110.3 460h-7" stroke="#000" stroke-width="2" fill="none"/>
<rect x="3075.5" y="483.4" width="34.8" height="13.8" fill="#fff800"/>
<path d="M3075.5 490.3h7M3110.3 490.3h-7" stroke="#000" stroke-width="2" fill="none"/>
<rect x="3075.5" y="513.6" width="34.8" height="13.8" fill="#d0ff2f"/>
<path d="M3075.5 520.5h7M3110.3 520.5h-7" stroke="#000" stroke-width="2" fill="none"/>
<rect x="3075.5" y="543.9" width="34.8" height="13.8" fill="#9aff65"/>
<path d="M3075.5 550.8h7M3110.3 550.8h-7" stroke="#000" stroke-width="2" fill="none"/>
<rect x="3075.5" y="574.1" width="34.8" height="13.8" fill="#65ff9a"/>
<path d="M3075.5 581h7M3110.3 581h-7" stroke="#000" stroke-width="2" fill="none"/>
<rect x="3075.5" y="604.3" width="34.8" height="13.8" fill="#2fffd0"/>
<path d="M3075.5 611.2h7M3110.3 611.2h-7" stroke="#000" stroke-width="2" fill="none"/>
<rect x="3075.5" y="634.6" width="34.8" height="13.8" fill="#00f8ff"/>
<path d="M3075.5 641.5h7M3110.3 641.5h-7" stroke="#000" stroke-width="2" fill="none"/>
<rect x="3075.5" y="664.8" width="34.8" height="13.8" fill="#00c3ff"/>
<path d="M3075.5 671.7h7M3110.3 671.7h-7" stroke="#000" stroke-width="2" fill="none"/>
<rect x="3075.5" y="695.1" width="34.8" height="13.8" fill="#008dff"/>
<path d="M3075.5 702h7M3110.3 702h-7" stroke="#000" stroke-width="2" fill="none"/>
<rect x="3075.5" y="725.3" width="34.8" height="13.8" fill="#0057ff"/>
<path d="M3075.5 732.2h7M3110.3 732.2h-7" stroke="#000" stroke-width="2" fill="none"/>
<rect x="3075.5" y="755.5" width="34.8" height="13.8" fill="#0022ff"/>
<path d="M3075.5 762.4h7M3110.3 762.4h-7" stroke="#000" stroke-width="2" fill="none"/>
<rect x="3075.5" y="785.8" width="34.8" height="13.8" fill="#0000eb"/>
<path d="M3075.5 792.7h7M3110.3 792.7h-7" stroke="#000" stroke-width="2" fill="none"/>
<rect x="3075.5" y="816" width="34.8" height="13.8" fill="#0000b5"/>
<path d="M3075.5 822.9h7M3110.3 822.9h-7" stroke="#000" stroke-width="2" fill="none"/>
<rect x="3075.5" y="846.3" width="34.8" height="13.8" fill="#000080"/>
<path d="M3075.5 853.2h7M3110.3 853.2h-7" stroke="#000" stroke-width="2" fill="none"/>
<rect x="3074.7" y="271.9" width="36.4" height="586.7" fill="none" stroke="#000" stroke-width="2.4"/>
<line x1="896.5" y1="1022.7" x2="903.6" y2="948.2" stroke="#4a86c0" stroke-width="2"/>
<polygon points="904.8,935.8 910.1,953.9 903.6,948.2 896.2,952.6" fill="#4a86c0"/>
<line x1="896.5" y1="1022.7" x2="820.3" y2="1013.2" stroke="#4da64a" stroke-width="2"/>
<polygon points="807.9,1011.7 826.1,1006.9 820.3,1013.2 824.4,1020.8" fill="#4da64a"/>
<circle cx="896.5" cy="1022.7" r="8.8" fill="#d81b60"/>
<line x1="2156" y1="1022.5" x2="2165" y2="947.4" stroke="#4a86c0" stroke-width="2"/>
<polygon points="2166.5,935 2171.4,953.2 2165,947.4 2157.5,951.5" fill="#4a86c0"/>
<line x1="2156" y1="1022.5" x2="2079.9" y2="1013" stroke="#4da64a" stroke-width="2"/>
<polygon points="2067.5,1011.5 2085.7,1006.7 2079.9,1013 2084,1020.6" fill="#4da64a"/>
<circle cx="2156" cy="1022.5" r="8.8" fill="#d81b60"/>
<text transform="translate(14.1 79.7) scale(1.211 1)" font-size="48.9">(a)</text>
<text transform="translate(80.5 248.1) scale(1.130 1)" font-size="44.1" letter-spacing="5">20</text>
<text transform="translate(143 217.6) scale(1.123 1)" font-size="45.6">0</text>
<text transform="translate(247.8 187.1) scale(1.268 1)" font-size="43.3">2</text>
<text transform="translate(349 153.5) scale(1.148 1)" font-size="45.5">4</text>
<text transform="translate(439.3 130.1) scale(1.199 1)" font-size="45.6">6</text>
<text transform="translate(524.4 101.6) scale(1.214 1)" font-size="44.1">8</text>
<text transform="translate(55.2 399.5) scale(1.130 1)" font-size="47" letter-spacing="1.1">15</text>
<text transform="translate(32 546.6) scale(1.130 1)" font-size="44.1" letter-spacing="2.3">10</text>
<text transform="translate(34.1 694.5) scale(1.142 1)" font-size="49.2">5</text>
<text transform="translate(10.3 854.1) scale(1.227 1)" font-size="45.6">0</text>
<text transform="translate(90 981.4) scale(1.130 1)" font-size="44.1" letter-spacing="4.5">10</text>
<text transform="translate(247.5 1007.5) scale(1.148 1)" font-size="47.3">5</text>
<text transform="translate(391.5 1034.3) scale(1.230 1)" font-size="46">0</text>
<text transform="translate(1622.6 383.9) scale(1.158 1)" font-size="52.8">(b)</text>
<text transform="translate(1750.4 490.6) scale(1.194 1)" font-size="44.9">0</text>
<text transform="translate(1936.8 403.6) scale(1.226 1)" font-size="44.8">2</text>
<text transform="translate(2119 320.8) scale(1.090 1)" font-size="47.3">4</text>
<text transform="translate(2282.8 247.8) scale(1.202 1)" font-size="46">6</text>
<text transform="translate(2446.9 177.6) scale(1.175 1)" font-size="45.6">8</text>
<text transform="translate(1688.9 529.1) scale(1.130 1)" font-size="45.6" letter-spacing="3.6">20</text>
<text transform="translate(1675.3 609.5) scale(1.130 1)" font-size="46.3" letter-spacing="2.7">15</text>
<text transform="translate(1662.8 690.6) scale(1.130 1)" font-size="46.3" letter-spacing="1.7">10</text>
<text transform="translate(1676.8 773.5) scale(1.126 1)" font-size="47.7">5</text>
<text transform="translate(1664.4 855.1) scale(1.175 1)" font-size="45.6">0</text>
<text transform="translate(1693.7 942.1) scale(1.130 1)" font-size="44.9" letter-spacing="4.1">10</text>
<text transform="translate(1860.4 1001.6) scale(1.166 1)" font-size="46">0</text>
<text transform="translate(899.1 927) scale(1.208 1)" font-size="45.7" font-style="italic">z</text>
<text transform="translate(780.4 1016.8) scale(1.074 1)" font-size="42.8" font-style="italic">y</text>
<text transform="translate(916.6 1035.2) scale(1.214 1)" font-size="47.6" font-style="italic">x</text>
<text transform="translate(2160.1 927) scale(1.208 1)" font-size="45.7" font-style="italic">z</text>
<text transform="translate(2039.4 1014.8) scale(1.074 1)" font-size="42.8" font-style="italic">y</text>
<text transform="translate(2176.1 1035.2) scale(1.214 1)" font-size="47.6" font-style="italic">x</text>
<text transform="translate(1123.4 314.1) scale(1.130 1)" font-size="45.3" letter-spacing="3.3">20</text>
<text transform="translate(1120.7 380.3) scale(1.130 1)" font-size="46" letter-spacing="5">15</text>
<text transform="translate(1120.8 445.6) scale(1.130 1)" font-size="45.3" letter-spacing="5.5">10</text>
<text transform="translate(1122 511.8) scale(1.221 1)" font-size="46.7">5</text>
<text transform="translate(1123.2 577.1) scale(1.199 1)" font-size="45.3">0</text>
<text transform="translate(1127.5 645.9) scale(1.485 1)" font-size="47">−</text>
<text transform="translate(1171.8 643.3) scale(1.221 1)" font-size="46.7">5</text>
<text transform="translate(1127.5 711.6) scale(1.485 1)" font-size="47">−</text>
<text transform="translate(1170.6 708.6) scale(1.130 1)" font-size="45.3" letter-spacing="5.5">10</text>
<text transform="translate(1127.5 777.4) scale(1.485 1)" font-size="47">−</text>
<text transform="translate(1170.5 774.8) scale(1.130 1)" font-size="46" letter-spacing="5">15</text>
<text transform="translate(1127.5 843.1) scale(1.485 1)" font-size="47">−</text>
<text transform="translate(1173.2 840.1) scale(1.130 1)" font-size="45.3" letter-spacing="3.3">20</text>
<text transform="translate(1318.4 321.1) scale(1.130 1)" font-size="45.3" letter-spacing="2.8">19.09</text>
<text transform="translate(1318.3 382.1) scale(1.130 1)" font-size="46" letter-spacing="2.5">14.59</text>
<text transform="translate(1318.4 442.1) scale(1.130 1)" font-size="45.3" letter-spacing="2.8">10.09</text>
<text transform="translate(1319.9 503) scale(1.130 1)" font-size="46" letter-spacing="2.2">5.59</text>
<text transform="translate(1318.3 563.5) scale(1.130 1)" font-size="46" letter-spacing="3.6">1.1</text>
<text transform="translate(1324.5 626.6) scale(1.485 1)" font-size="47">−</text>
<text transform="translate(1368.8 624) scale(1.130 1)" font-size="46" letter-spacing="1.8">3.4</text>
<text transform="translate(1324.5 687.1) scale(1.485 1)" font-size="47">−</text>
<text transform="translate(1367.8 684.5) scale(1.130 1)" font-size="46" letter-spacing="2.7">7.9</text>
<text transform="translate(1324.5 747.5) scale(1.485 1)" font-size="47">−</text>
<text transform="translate(1366.7 744.9) scale(1.130 1)" font-size="46" letter-spacing="2.4">12.4</text>
<text transform="translate(1324.5 808) scale(1.485 1)" font-size="47">−</text>
<text transform="translate(1366.8 805) scale(1.130 1)" font-size="45.3" letter-spacing="3.1">16.9</text>
<text transform="translate(1324.5 868.5) scale(1.485 1)" font-size="47">−</text>
<text transform="translate(1369.3 865.9) scale(1.130 1)" font-size="46" letter-spacing="1.6">21.4</text>
<text transform="translate(1069 267.1) scale(0.996 1)" font-size="70" stroke="#fff" stroke-width="1.5">×</text>
<text transform="translate(1112.5 257) scale(1.130 1)" font-size="46.2" letter-spacing="2.2">10</text>
<text transform="translate(1171.9 249.3) scale(1.064 1)" font-size="47">−</text>
<text transform="translate(1203.4 244.3) scale(1.073 1)" font-size="34.2">4</text>
<text transform="translate(1267.3 267.1) scale(0.996 1)" font-size="70" stroke="#fff" stroke-width="1.5">×</text>
<text transform="translate(1310.8 257) scale(1.130 1)" font-size="46.2" letter-spacing="2.2">10</text>
<text transform="translate(1370.2 249.3) scale(1.064 1)" font-size="47">−</text>
<text transform="translate(1401.7 244.3) scale(1.073 1)" font-size="34.2">4</text>
<text transform="translate(2934.4 334.5) scale(1.210 1)" font-size="46">3</text>
<text transform="translate(2935 418.3) scale(1.210 1)" font-size="46">2</text>
<text transform="translate(2931.3 502.6) scale(1.396 1)" font-size="46.7">1</text>
<text transform="translate(2935 585.5) scale(1.199 1)" font-size="45.3">0</text>
<text transform="translate(2939.5 672.3) scale(1.485 1)" font-size="47">−</text>
<text transform="translate(2981.3 670.2) scale(1.396 1)" font-size="46.7">1</text>
<text transform="translate(2939.5 756.1) scale(1.485 1)" font-size="47">−</text>
<text transform="translate(2985 753.5) scale(1.210 1)" font-size="46">2</text>
<text transform="translate(2939.5 839.9) scale(1.485 1)" font-size="47">−</text>
<text transform="translate(2984.4 837.3) scale(1.210 1)" font-size="46">3</text>
<text transform="translate(3132.4 321.1) scale(1.130 1)" font-size="45.3" letter-spacing="2.3">306.73</text>
<text transform="translate(3132.9 382.1) scale(1.130 1)" font-size="46" letter-spacing="2">237</text>
<text transform="translate(3130.4 442.1) scale(1.130 1)" font-size="45.3" letter-spacing="2.7">167.28</text>
<text transform="translate(3133.5 502.6) scale(1.130 1)" font-size="45.3" letter-spacing="2">97.56</text>
<text transform="translate(3133 563.1) scale(1.130 1)" font-size="45.3" letter-spacing="2">27.84</text>
<text transform="translate(3136.5 626.6) scale(1.485 1)" font-size="47">−</text>
<text transform="translate(3182.4 623.5) scale(1.130 1)" font-size="45.3" letter-spacing="2">41.89</text>
<text transform="translate(3136.5 687.1) scale(1.485 1)" font-size="47">−</text>
<text transform="translate(3178.8 684) scale(1.130 1)" font-size="45.3" letter-spacing="3.5">111.61</text>
<text transform="translate(3136.5 747.5) scale(1.485 1)" font-size="47">−</text>
<text transform="translate(3178.8 744.5) scale(1.130 1)" font-size="45.3" letter-spacing="2.7">181.33</text>
<text transform="translate(3136.5 808) scale(1.485 1)" font-size="47">−</text>
<text transform="translate(3181.4 805) scale(1.130 1)" font-size="45.3" letter-spacing="2.2">251.05</text>
<text transform="translate(3136.5 868.5) scale(1.485 1)" font-size="47">−</text>
<text transform="translate(3180.8 865.5) scale(1.130 1)" font-size="45.3" letter-spacing="2.3">320.78</text>
<text transform="translate(2881 267.1) scale(0.996 1)" font-size="70" stroke="#fff" stroke-width="1.5">×</text>
<text transform="translate(2924.5 257) scale(1.130 1)" font-size="46.2" letter-spacing="2.2">10</text>
<text transform="translate(2983.9 249.3) scale(1.064 1)" font-size="47">−</text>
<text transform="translate(3015.4 244.3) scale(1.073 1)" font-size="34.2">4</text>
<text transform="translate(3079.3 267.1) scale(0.996 1)" font-size="70" stroke="#fff" stroke-width="1.5">×</text>
<text transform="translate(3122.8 257) scale(1.130 1)" font-size="46.2" letter-spacing="2.2">10</text>
<text transform="translate(3182.2 249.3) scale(1.064 1)" font-size="47">−</text>
<text transform="translate(3212.8 243.9) scale(1.183 1)" font-size="33.2">6</text>
<g transform="translate(266.2 117.9) rotate(-13.7)">
<text transform="translate(-5.6 9.1) scale(0.996 1)" font-size="70" stroke="#fff" stroke-width="1.5">×</text>
<text transform="translate(37.9 -0.9) scale(1.130 1)" font-size="46.2" letter-spacing="2.2">10</text>
<text transform="translate(97.3 -8.6) scale(1.064 1)" font-size="47">−</text>
<text transform="translate(127.4 -13.6) scale(1.222 1)" font-size="33.7">3</text>
<text transform="translate(165.6 0) scale(1.250 1)" font-size="45.7">m</text>
</g>
<g transform="translate(123.3 1067.7) rotate(8.6) skewX(-4)">
<text transform="translate(-5.6 9.1) scale(0.996 1)" font-size="70" stroke="#fff" stroke-width="1.5">×</text>
<text transform="translate(37.9 -0.9) scale(1.130 1)" font-size="46.2" letter-spacing="2.2">10</text>
<text transform="translate(97.3 -8.6) scale(1.064 1)" font-size="47">−</text>
<text transform="translate(128.8 -13.6) scale(1.073 1)" font-size="34.2">4</text>
<text transform="translate(165.6 0) scale(1.250 1)" font-size="45.7">m</text>
</g>
<g transform="translate(2035 285.1) rotate(-21.1) skewX(8)">
<text transform="translate(-5.6 9.1) scale(0.996 1)" font-size="70" stroke="#fff" stroke-width="1.5">×</text>
<text transform="translate(37.9 -0.9) scale(1.130 1)" font-size="46.2" letter-spacing="2.2">10</text>
<text transform="translate(97.3 -8.6) scale(1.064 1)" font-size="47">−</text>
<text transform="translate(127.4 -13.6) scale(1.222 1)" font-size="33.7">3</text>
<text transform="translate(165.6 0) scale(1.250 1)" font-size="45.7">m</text>
</g>
<g transform="translate(1651.8 992.7) rotate(22)">
<text transform="translate(-5.6 9.1) scale(0.996 1)" font-size="70" stroke="#fff" stroke-width="1.5">×</text>
<text transform="translate(37.9 -0.9) scale(1.130 1)" font-size="46.2" letter-spacing="2.2">10</text>
<text transform="translate(97.3 -8.6) scale(1.064 1)" font-size="47">−</text>
<text transform="translate(128.8 -13.6) scale(1.073 1)" font-size="34.2">4</text>
<text transform="translate(165.6 0) scale(1.250 1)" font-size="45.7">m</text>
</g>
<g transform="translate(1623 743.2) rotate(-82.3) skewX(15)">
<text transform="translate(-5.6 9.1) scale(0.996 1)" font-size="70" stroke="#fff" stroke-width="1.5">×</text>
<text transform="translate(37.9 -0.9) scale(1.130 1)" font-size="46.2" letter-spacing="2.2">10</text>
<text transform="translate(97.3 -8.6) scale(1.064 1)" font-size="47">−</text>
<text transform="translate(128.8 -13.6) scale(1.073 1)" font-size="34.2">4</text>
<text transform="translate(165.6 0) scale(1.250 1)" font-size="45.7">m</text>
</g>
</svg>
</body></html>
